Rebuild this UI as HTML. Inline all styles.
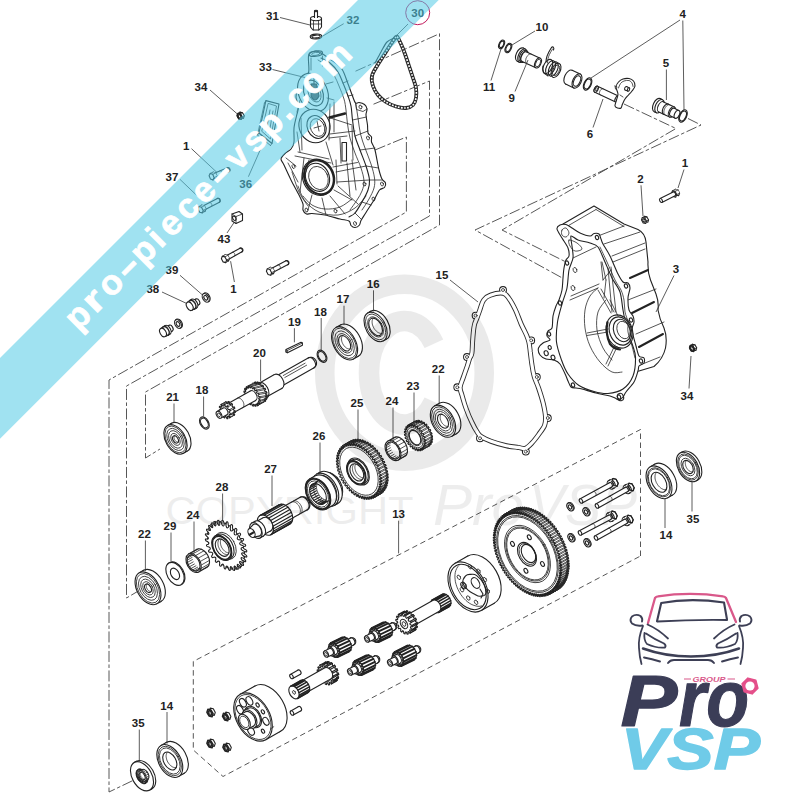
<!DOCTYPE html>
<html><head><meta charset="utf-8"><title>pro-piece-vsp.com</title>
<style>
html,body{margin:0;padding:0;background:#fff;}
body{width:800px;height:800px;overflow:hidden;font-family:"Liberation Sans",sans-serif;}
svg{display:block;}
.l{fill:none;stroke:#222;stroke-width:1.1;stroke-linecap:round;stroke-linejoin:round;}
.w{fill:#fff;stroke:#222;stroke-width:1.1;stroke-linejoin:round;}
.t{fill:none;stroke:#2a2a2a;stroke-width:.8;stroke-linecap:round;stroke-linejoin:round;}
.d{fill:none;stroke:#444;stroke-width:.9;stroke-dasharray:11 2.5 3.5 2.5;}
.d2{fill:none;stroke:#444;stroke-width:.9;stroke-dasharray:5.5 3.5;}
.lb{font:bold 11.5px "Liberation Sans",sans-serif;fill:#222;text-anchor:middle;}
.ld{fill:none;stroke:#333;stroke-width:.8;}
</style></head><body>
<svg width="800" height="800" viewBox="0 0 800 800">
<rect width="800" height="800" fill="#fff"/>
<path class="d" d="M375 150L406.4 137L406.4 212L109 380L109 792L134 780"/><path class="d" d="M373.5 104.2L429.5 81L429.5 216L126.5 386L126.5 598L140 590"/><path class="d" d="M355.5 71.2L439.5 33.7L439.5 225L145.5 392L145.5 458L160 449"/><path class="d" d="M688 118.5L701 125L475 230L566 280"/><path class="d" d="M624 104L676 128.5L502 230L566 262"/><path class="d2" d="M640.5 556L640.5 429.5L193.3 661.4L193.3 750L223 776.5L640.5 556"/>
<path class="l" d="M396 37C394.8 38 393 41 391 44C389 47 386.3 51.3 384 55C381.7 58.7 379 62.5 377 66C375 69.5 372.7 72.7 372 76C371.3 79.3 372 82.8 373 86C374 89.2 375.8 92.3 378 95C380.2 97.7 383 100.1 386 102C389 103.9 392.7 105.5 396 106.5C399.3 107.5 403.2 108.2 406 108C408.8 107.8 411.3 106.7 413 105C414.7 103.3 415.5 100.8 416 98C416.5 95.2 416.5 91.3 416 88C415.5 84.7 414.2 81.7 413 78C411.8 74.3 410.3 70 409 66C407.7 62 406.3 57.7 405 54C403.7 50.3 402.2 46.7 401 44C399.8 41.3 398.8 39.2 398 38C397.2 36.8 397.2 36 396 37Z" style="stroke-width:3.8;stroke:#2a2a2a"/><path class="l" d="M396 37C394.8 38 393 41 391 44C389 47 386.3 51.3 384 55C381.7 58.7 379 62.5 377 66C375 69.5 372.7 72.7 372 76C371.3 79.3 372 82.8 373 86C374 89.2 375.8 92.3 378 95C380.2 97.7 383 100.1 386 102C389 103.9 392.7 105.5 396 106.5C399.3 107.5 403.2 108.2 406 108C408.8 107.8 411.3 106.7 413 105C414.7 103.3 415.5 100.8 416 98C416.5 95.2 416.5 91.3 416 88C415.5 84.7 414.2 81.7 413 78C411.8 74.3 410.3 70 409 66C407.7 62 406.3 57.7 405 54C403.7 50.3 402.2 46.7 401 44C399.8 41.3 398.8 39.2 398 38C397.2 36.8 397.2 36 396 37Z" style="stroke-width:1.6;stroke:#fff;stroke-dasharray:1.7 1.4;stroke-linecap:butt"/><path class="l" d="M394 38C392.8 38.7 389.2 39.7 387 42C384.8 44.3 383 48.5 381 52C379 55.5 376 61.2 375 63" /><path class="w" d="M308.7 55C307.6 58.1 309.6 68.4 308.7 72C307.8 75.6 304.6 76.6 303 79C301.4 81.4 299.1 85.3 298 88C296.9 90.7 295.9 94.2 296 97C296.1 99.8 298.4 104.2 298.5 107C298.6 109.8 297.2 112.8 296.5 116C295.8 119.2 294.4 124.1 294 128C293.6 131.9 294.4 138.8 294 142C293.6 145.2 292.4 147.3 291 149C289.6 150.7 286.5 152 285 153.5C283.5 155 281.1 157.3 281 159C280.9 160.7 282.5 161.8 284 165C285.5 168.2 288.8 175.5 291 180C293.2 184.5 297.2 191.4 299 195C300.8 198.6 302.4 201.8 303 204C303.6 206.2 302.5 208.5 303 210C303.5 211.5 305.1 213.5 306.5 214C307.9 214.5 309.2 213.3 312 213.5C314.8 213.7 320.8 214.2 325 215C329.2 215.8 336.4 218.1 340 219C343.6 219.9 347.4 220 349 221C350.6 222 350.1 224.5 351 225.5C351.9 226.5 353.7 227.6 355 227.5C356.3 227.4 358.6 226.1 359.5 225C360.4 223.9 360 222.4 361 220.5C362 218.6 364.1 215.6 366 212.5C367.9 209.4 372 203.4 374 200C376 196.6 377.9 191.9 379.5 190C381.1 188.1 383.6 188.6 384.5 187.5C385.4 186.4 385.9 184.3 385.5 183C385.1 181.7 383 180.9 382 179C381 177.1 380.1 174.3 379 170C377.9 165.7 376.1 154.2 375 150C373.9 145.8 372 143.9 371.5 142C371 140.1 372 138.3 371.5 137C371 135.7 368.6 134.8 368 133C367.4 131.2 367.8 127.7 367.5 125C367.2 122.3 366.1 117.4 366 115C365.9 112.6 367.2 110.6 367 109C366.8 107.4 365.7 105.5 364.5 104.5C363.3 103.5 360.4 102.7 359 102.5C357.6 102.3 356.5 104 355.5 103C354.5 102 353.7 99.1 352.5 96C351.3 92.9 349 86.4 347.5 82.5C346 78.6 344.4 73 342.5 70C340.6 67 337.2 64.4 335 62.5C332.8 60.6 329.2 58.7 327.5 57.5C325.8 56.3 325.2 55.5 323.5 54.5C321.8 53.5 318.2 50.9 316 51C313.8 51.1 309.8 51.9 308.7 55Z" /><path class="l" d="M321 58C322.5 58.8 327.2 60.7 330 63C332.8 65.3 335.8 68.7 338 72C340.2 75.3 341.3 79 343 83C344.7 87 346.7 92.2 348 96C349.3 99.8 350.2 102 351 106C351.8 110 351.8 115 352.5 120C353.2 125 353.8 131 355 136C356.2 141 358.2 145 360 150C361.8 155 364.4 161 366 166C367.6 171 369.2 176 369.5 180C369.8 184 369.2 186.3 368 190C366.8 193.7 364.2 198.2 362 202C359.8 205.8 357.2 210.5 355 213C352.8 215.5 350 216.3 349 217" /><path class="t" d="M318 60C319.5 61 324.3 63.5 327 66C329.7 68.5 332 71.7 334 75C336 78.3 337.3 82 339 86C340.7 90 342.8 95 344 99C345.2 103 345.4 105.8 346 110C346.6 114.2 346.8 119.3 347.5 124C348.2 128.7 348.8 133.2 350 138C351.2 142.8 353.2 148 355 153C356.8 158 359.5 163.3 361 168C362.5 172.7 363.8 177.2 364 181C364.2 184.8 363.2 187.8 362 191C360.8 194.2 359 196.8 357 200C355 203.2 351.2 208.3 350 210" /><path class="t" d="M356 104C356.3 106.3 357.2 113 358 118C358.8 123 359.3 129 360.5 134C361.7 139 363.2 143 365 148C366.8 153 369.4 159 371 164C372.6 169 374 174 374.5 178C375 182 374.9 184.5 374 188C373.1 191.5 371 195.3 369 199C367 202.7 363.2 208.2 362 210" /><path class="t" d="M352.5 120L366.5 117M355 136L368 131M360 150L375 148M366 166L378.5 168M369.5 180L382 180M362 202L371 205M355 213L361 219M343 83L348 81M348 96L353 95"/><path class="t" d="M355.5 103.5L356.5 109.5L363 111.5L367 109"/><ellipse class="l" cx="315.8" cy="53.7" rx="6.8" ry="2.6" transform="rotate(-8 315.8 53.7)" /><ellipse class="t" cx="315.8" cy="53.9" rx="4.2" ry="1.5" transform="rotate(-8 315.8 53.9)" /><path class="t" d="M322.5 56L322.5 66M311 58L311 70"/><ellipse class="w" cx="313" cy="92.5" rx="14.4" ry="20" transform="rotate(-24 313 92.5)" /><ellipse class="l" cx="313.5" cy="93" rx="9.2" ry="13.5" transform="rotate(-24 313.5 93)" /><ellipse class="t" cx="314.5" cy="93" rx="5.9" ry="9.5" transform="rotate(-24 314.5 93)" /><path class="l" d="M311.5 84L316.5 84L319 96Q315 104 311 96Z" style="fill:#555"/><path class="l" d="M314 78L314 84"/><path class="t" d="M326 84L333 82M327 98L334 100M300 100L297 112"/><ellipse class="w" cx="314.5" cy="126" rx="15.3" ry="17" transform="rotate(-24 314.5 126)" /><ellipse class="l" cx="316.5" cy="127" rx="9.2" ry="11.8" transform="rotate(-24 316.5 127)" /><ellipse class="t" cx="317.5" cy="127.5" rx="6.9" ry="9.2" transform="rotate(-24 317.5 127.5)" /><path class="t" d="M317 121L319 131M314 128L321 126"/><ellipse class="w" cx="318.5" cy="177.3" rx="15.7" ry="18.5" transform="rotate(-24 318.5 177.3)" /><ellipse class="l" cx="318.9" cy="177.3" rx="14.3" ry="17.5" transform="rotate(-24 318.9 177.3)" style="stroke-width:2"/><ellipse class="l" cx="317.5" cy="177.3" rx="11.6" ry="14.5" transform="rotate(-24 317.5 177.3)" /><ellipse class="t" cx="318.5" cy="178" rx="9.4" ry="12" transform="rotate(-24 318.5 178)" /><path class="l" d="M342 142.5L346.5 142.5L346.5 161L342 161Z"/><path class="t" d="M329 117.5L352 125M330 134L355 131M329 138L347 136M295 156L331 163M298 152L329 159M304 158L300 192M309 160L306 172M333 167L357.5 162.5M336 172L366 166M337 182L369.5 180M336 160L337 184M334 190L352 200M330 196L345 214M322 198L326 215M312 195L308 210M338 186L358 204M340 138L341 163M352 126L353 160M347 163L350 196M352 160L356 190M326 142L333 165M330 104L329 140M334 102L334 132M297 132L300 152M301 118L302 150M286 158L296 166M288 163L298 182"/><path class="l" style="stroke-width:2.4" d="M329.5 117.5L345 113.5"/><path class="t" d="M303 196C304.5 197.5 308.3 202.8 312 205C315.7 207.2 320.3 208.7 325 209C329.7 209.3 335.5 208.7 340 207C344.5 205.3 350 200.3 352 199" /><path class="t" d="M298 186C299.2 188.5 301.5 196.7 305 201C308.5 205.3 313.5 209.7 319 212C324.5 214.3 332 215.7 338 215C344 214.3 350.3 211.2 355 208C359.7 204.8 364.2 198 366 196" /><path class="t" d="M292 172C293.2 175.3 296.3 186.3 299 192C301.7 197.7 306.5 203.7 308 206" /><ellipse class="t" cx="293.5" cy="166.5" rx="1.4" ry="2" transform="rotate(-20 293.5 166.5)" /><ellipse class="t" cx="335.5" cy="211" rx="1.4" ry="2" transform="rotate(-20 335.5 211)" /><ellipse class="t" cx="364.5" cy="184" rx="1.4" ry="2" transform="rotate(-20 364.5 184)" /><ellipse class="t" cx="360.5" cy="107" rx="1.4" ry="2" transform="rotate(-20 360.5 107)" /><ellipse class="t" cx="306.5" cy="210" rx="1.4" ry="2" transform="rotate(-20 306.5 210)" /><ellipse class="t" cx="355" cy="223.5" rx="1.4" ry="2" transform="rotate(-20 355 223.5)" /><ellipse class="t" cx="382" cy="184" rx="1.4" ry="2" transform="rotate(-20 382 184)" /><ellipse class="t" cx="368" cy="138" rx="1.4" ry="2" transform="rotate(-20 368 138)" /><ellipse class="t" cx="373.5" cy="199" rx="1.4" ry="2" transform="rotate(-20 373.5 199)" /><path class="w" d="M310.5 18.5L310.5 27L313 30L319 30L321.5 27L321.5 18.5Z"/><ellipse class="w" cx="316" cy="18.5" rx="5.5" ry="2.2" /><path class="t" d="M310.5 24L321.5 24"/><path class="t" d="M313.5 20.5L313.5 30"/><path class="t" d="M318.5 20.5L318.5 30"/><path class="w" d="M314.5 18L314.5 11L317.5 11L317.5 18"/><ellipse class="l" cx="316" cy="11" rx="1.5" ry="0.7" /><ellipse class="w" cx="316" cy="36.5" rx="5.8" ry="2.4" transform="rotate(-3 316 36.5)" /><ellipse class="l" cx="316" cy="36.5" rx="4.2" ry="1.4" transform="rotate(-3 316 36.5)" /><circle class="w" cx="503" cy="290" r="3.4" /><circle class="w" cx="475.6" cy="315.6" r="3.4" /><circle class="w" cx="467" cy="357" r="3.4" /><circle class="w" cx="457.3" cy="387.3" r="3.4" /><circle class="w" cx="480" cy="438.3" r="3.4" /><circle class="w" cx="525.8" cy="451.6" r="3.4" /><circle class="w" cx="547.8" cy="418" r="3.4" /><circle class="w" cx="536.8" cy="377" r="3.4" /><circle class="w" cx="531.2" cy="340.4" r="3.4" /><path class="l" d="M503 293.2C499.9 292.7 493.6 294 490.4 295.2C487.1 296.3 485.3 297.6 483.6 300.1C481.8 302.6 480.9 307.1 479.8 310.1C478.7 313 477.9 315.3 477 318C476 320.6 474.9 321.9 474.2 325.9C473.4 329.8 472.9 337 472.6 341.6C472.2 346.1 472.4 350.3 471.9 353.1C471.4 356 470.3 356.6 469.5 358.8C468.8 361 468.2 363.2 467.2 366.3C466.1 369.5 464.4 374.2 463.2 377.7C462 381.2 460.3 384.4 460.1 387.3C459.9 390.1 460.9 391.4 461.9 394.9C462.9 398.5 464.4 403.9 466.1 408.5C467.7 413 469.8 418.1 471.8 422.1C473.7 426.2 475.9 430.2 477.6 432.7C479.2 435.1 479.4 435.5 481.7 436.9C483.9 438.4 487 439.8 491.1 441.3C495.2 442.8 501.9 444.8 506.4 445.8C510.9 446.8 515.1 447 518.3 447.4C521.4 447.9 523.1 449.1 525.4 448.4C527.6 447.6 529.7 445.3 531.9 443C534.1 440.7 536.5 437.5 538.6 434.6C540.7 431.6 543.5 428.3 544.6 425.3C545.8 422.2 545.7 420 545.5 416.4C545.3 412.8 544.4 408.4 543.3 403.6C542.1 398.9 540.1 392.6 538.6 388.1C537.1 383.6 535.4 380.6 534.3 376.7C533.2 372.8 532.5 368.8 531.9 364.5C531.2 360.3 530.7 355 530.2 351.3C529.8 347.7 529.6 345.2 529 342.6C528.5 340.1 528.1 338.9 526.8 335.8C525.5 332.7 523.1 328.3 521.2 324.1C519.3 319.8 517.6 314.5 515.6 310.2C513.5 305.8 510.9 301 508.8 298.2C506.7 295.4 506.1 293.7 503 293.2Z" style="stroke-width:5;stroke:#2b2b2b"/><path class="l" d="M503 293.2C499.9 292.7 493.6 294 490.4 295.2C487.1 296.3 485.3 297.6 483.6 300.1C481.8 302.6 480.9 307.1 479.8 310.1C478.7 313 477.9 315.3 477 318C476 320.6 474.9 321.9 474.2 325.9C473.4 329.8 472.9 337 472.6 341.6C472.2 346.1 472.4 350.3 471.9 353.1C471.4 356 470.3 356.6 469.5 358.8C468.8 361 468.2 363.2 467.2 366.3C466.1 369.5 464.4 374.2 463.2 377.7C462 381.2 460.3 384.4 460.1 387.3C459.9 390.1 460.9 391.4 461.9 394.9C462.9 398.5 464.4 403.9 466.1 408.5C467.7 413 469.8 418.1 471.8 422.1C473.7 426.2 475.9 430.2 477.6 432.7C479.2 435.1 479.4 435.5 481.7 436.9C483.9 438.4 487 439.8 491.1 441.3C495.2 442.8 501.9 444.8 506.4 445.8C510.9 446.8 515.1 447 518.3 447.4C521.4 447.9 523.1 449.1 525.4 448.4C527.6 447.6 529.7 445.3 531.9 443C534.1 440.7 536.5 437.5 538.6 434.6C540.7 431.6 543.5 428.3 544.6 425.3C545.8 422.2 545.7 420 545.5 416.4C545.3 412.8 544.4 408.4 543.3 403.6C542.1 398.9 540.1 392.6 538.6 388.1C537.1 383.6 535.4 380.6 534.3 376.7C533.2 372.8 532.5 368.8 531.9 364.5C531.2 360.3 530.7 355 530.2 351.3C529.8 347.7 529.6 345.2 529 342.6C528.5 340.1 528.1 338.9 526.8 335.8C525.5 332.7 523.1 328.3 521.2 324.1C519.3 319.8 517.6 314.5 515.6 310.2C513.5 305.8 510.9 301 508.8 298.2C506.7 295.4 506.1 293.7 503 293.2Z" style="stroke-width:3.2;stroke:#fff"/><circle class="l" cx="503" cy="290" r="2.6" style="stroke:none;fill:#fff"/><circle class="t" cx="503" cy="290" r="1.5" /><circle class="l" cx="475.6" cy="315.6" r="2.6" style="stroke:none;fill:#fff"/><circle class="t" cx="475.6" cy="315.6" r="1.5" /><circle class="l" cx="467" cy="357" r="2.6" style="stroke:none;fill:#fff"/><circle class="t" cx="467" cy="357" r="1.5" /><circle class="l" cx="457.3" cy="387.3" r="2.6" style="stroke:none;fill:#fff"/><circle class="t" cx="457.3" cy="387.3" r="1.5" /><circle class="l" cx="480" cy="438.3" r="2.6" style="stroke:none;fill:#fff"/><circle class="t" cx="480" cy="438.3" r="1.5" /><circle class="l" cx="525.8" cy="451.6" r="2.6" style="stroke:none;fill:#fff"/><circle class="t" cx="525.8" cy="451.6" r="1.5" /><circle class="l" cx="547.8" cy="418" r="2.6" style="stroke:none;fill:#fff"/><circle class="t" cx="547.8" cy="418" r="1.5" /><circle class="l" cx="536.8" cy="377" r="2.6" style="stroke:none;fill:#fff"/><circle class="t" cx="536.8" cy="377" r="1.5" /><circle class="l" cx="531.2" cy="340.4" r="2.6" style="stroke:none;fill:#fff"/><circle class="t" cx="531.2" cy="340.4" r="1.5" /><path class="w" d="M563 224L594 206L624 224L638 229.5Q645 233 646 242L648 262Q647.5 272 650.5 280L656 294Q659 302 658 310Q659.5 319 664 328Q667.5 337 665.5 348Q663 359 654 366.5L639 371L620 372L600 330L580 260Z" /><path class="t" d="M566 227L596 209.5M596 209.5L624 226.5M598 236L624 226M604 244L640 232M612 256L645 243"/><path class="l" style="stroke-width:2" d="M630 278L648 270"/><path class="l" style="stroke-width:2" d="M632 313L654 302"/><path class="l" style="stroke-width:2" d="M639 347L663 334"/><path class="t" d="M613 262L645 249M628 300L656 289M636 334L664 322M640 365L660 357"/><path class="w" d="M557 229C556.7 227.1 558.6 225.7 560 225C561.4 224.3 564.2 224.1 566 224.5C567.8 224.9 569.9 226.7 572 228C574.1 229.3 577.3 231.8 580 233C582.7 234.2 587.9 235.9 590 236C592.1 236.1 592.6 233.8 594 233.5C595.4 233.2 598 233.2 599 234C600 234.8 600.4 237.5 601 239C601.6 240.5 601.6 241.4 603 244C604.4 246.6 607.8 251.5 610 256C612.2 260.5 616 270.1 618 274C620 277.9 621.5 280.6 623 282C624.5 283.4 627 282.1 628 283C629 283.9 630 285.8 630 288C630 290.2 628.1 294.7 628 298C627.9 301.3 628.2 307.3 629 310C629.8 312.7 632.2 314.2 633 316C633.8 317.8 634.1 319.9 634 322C633.9 324.1 631.7 326.4 632 330C632.3 333.6 635 342.1 636 346C637 349.9 637.8 354.2 639 356C640.2 357.8 643.2 356.9 644 358C644.8 359.1 644.8 361.8 644 363C643.2 364.2 639.9 364.8 639 366C638.1 367.2 638.8 368.6 638 371C637.2 373.4 635.8 378.9 634 382C632.2 385.1 627.6 389.8 626 392C624.4 394.2 624 395.8 623 397C622 398.2 620.2 399.9 619 400C617.8 400.1 616.4 398.6 615 398C613.6 397.4 612.9 396.8 610 396C607.1 395.2 600.2 394.1 596 393C591.8 391.9 585 389.8 582 389C579 388.2 577.6 388.3 576 388C574.4 387.7 572.2 388.1 571 387C569.8 385.9 568.8 382.6 568 381C567.2 379.4 567.2 378.6 566 376C564.8 373.4 561.8 366.4 560 364C558.2 361.6 556.1 360.8 554 360C551.9 359.2 548.1 359.8 546 359C543.9 358.2 541.1 356.6 540 355C538.9 353.4 538 349.8 538.5 348C539 346.2 541.3 344.2 543 343C544.7 341.8 549.4 341.1 550 340C550.6 338.9 547.3 337.4 547 336C546.7 334.6 547.2 332.2 548 331C548.8 329.8 551.2 330.2 552 328C552.8 325.8 552.4 319.3 553 316C553.6 312.7 555.1 308.4 556 306C556.9 303.6 558.1 302.4 559 300C559.9 297.6 561.4 293.3 562 290C562.6 286.7 562.7 281.3 563 278C563.3 274.7 563.5 270.7 564 268C564.5 265.3 565.2 261.8 566 260C566.8 258.2 568.7 257.8 569 256C569.3 254.2 569 250.7 568 248C567 245.3 563.6 240.8 562 238C560.4 235.2 557.3 230.9 557 229Z" /><path class="l" d="M571 236C571.9 235.1 575.1 238.9 578 240C580.9 241.1 587 241.9 590 243C593 244.1 595.8 244.2 598 247C600.2 249.8 602.9 257.4 605 262C607.1 266.6 609.8 273.5 612 278C614.2 282.5 618.4 287.2 620 292C621.6 296.8 622 304.3 623 310C624 315.7 625.6 324.8 627 330C628.4 335.2 631.2 340.9 632.5 345C633.8 349.1 635.4 352.4 635.5 357C635.6 361.6 634.9 371.2 633 376C631.1 380.8 626.8 386.4 623 389C619.2 391.6 612.4 393.1 608 393.5C603.6 393.9 598.4 392.7 594 391.5C589.6 390.3 582.9 388.1 579 385.5C575.1 382.9 570.6 377.8 568 374C565.4 370.2 563.2 364.8 561.5 360C559.8 355.2 557.1 347.7 556.5 342C555.9 336.3 556.7 327.7 557.5 322C558.3 316.3 560.6 309.1 562 304C563.4 298.9 566 293.1 567 288C568 282.9 568.1 274.5 569 270C569.9 265.5 572.5 261.6 573 258C573.5 254.4 572.3 249.3 572 246C571.7 242.7 570.1 236.9 571 236Z" /><path class="t" d="M562 230C562.7 228.8 564.8 227.5 566 228C567.2 228.5 569 231.5 569 233C569 234.5 567.2 236.7 566 237C564.8 237.3 562.7 236.2 562 235C561.3 233.8 561.3 231.2 562 230Z" /><path class="t" d="M569 240C570.2 239.5 574.8 241.5 577 243C579.2 244.5 582.3 247.7 582 249C581.7 250.3 577 251.5 575 251C573 250.5 571 247.8 570 246C569 244.2 567.8 240.5 569 240Z" /><path class="t" d="M573 258L596 247M570 300L598 288M571 296L599 284"/><ellipse class="t" cx="575" cy="270" rx="1.8" ry="2.6" transform="rotate(-20 575 270)" /><ellipse class="t" cx="573" cy="288" rx="1.8" ry="2.6" transform="rotate(-20 573 288)" /><path class="t" d="M598 288C596.7 289.3 592.2 292.3 590 296C587.8 299.7 585.8 304.7 585 310C584.2 315.3 584.2 322 585 328C585.8 334 587.5 340.3 590 346C592.5 351.7 596.3 357.7 600 362C603.7 366.3 608.3 370.3 612 372C615.7 373.7 620.3 372 622 372" /><path class="t" d="M606 300C604.7 302 599.5 307 598 312C596.5 317 596.2 324 597 330C597.8 336 600.5 343 603 348C605.5 353 610.5 358 612 360" /><ellipse class="w" cx="619.5" cy="331.5" rx="12.9" ry="17" transform="rotate(-20 619.5 331.5)" /><ellipse class="l" cx="620.5" cy="331" rx="10.9" ry="14.5" transform="rotate(-20 620.5 331)" /><ellipse class="l" cx="622" cy="330.5" rx="8.3" ry="11.5" transform="rotate(-20 622 330.5)" /><ellipse class="t" cx="623.5" cy="330" rx="6.3" ry="9" transform="rotate(-20 623.5 330)" /><path class="l" d="M607.5 322Q605 333 610 344Q614 349 620 349.5" style="stroke-width:2.2"/><path class="t" d="M587 333L608 329M587 335.5L608 332M606 364L615 345M608 366L617 347M598 290L611 313M601 289L614 312M608 268L612 312M611 267L616 312M601 262L603 280M603 280L611 270"/><path class="t" d="M602 262L606 280M606 280L604 298M610 300L618 316"/><path class="t" d="M600 247C601.2 249.5 604.5 256.5 607 262C609.5 267.5 612.7 275.3 615 280C617.3 284.7 619.5 286.7 621 290C622.5 293.3 623.3 296.3 624 300C624.7 303.7 624.3 308.3 625 312C625.7 315.7 627.5 318.7 628 322C628.5 325.3 627.3 328 628 332C628.7 336 630.8 341.7 632 346C633.2 350.3 634.5 356 635 358" /><ellipse class="l" cx="597" cy="237.5" rx="1.6" ry="2.1" transform="rotate(-20 597 237.5)" /><ellipse class="l" cx="626" cy="286" rx="1.6" ry="2.1" transform="rotate(-20 626 286)" /><ellipse class="l" cx="631" cy="320" rx="1.6" ry="2.1" transform="rotate(-20 631 320)" /><ellipse class="l" cx="641" cy="361" rx="1.6" ry="2.1" transform="rotate(-20 641 361)" /><ellipse class="l" cx="619" cy="397" rx="1.6" ry="2.1" transform="rotate(-20 619 397)" /><ellipse class="l" cx="573" cy="385" rx="1.6" ry="2.1" transform="rotate(-20 573 385)" /><ellipse class="l" cx="549" cy="334" rx="1.6" ry="2.1" transform="rotate(-20 549 334)" /><ellipse class="l" cx="560" cy="303" rx="1.6" ry="2.1" transform="rotate(-20 560 303)" /><ellipse class="l" cx="567" cy="263" rx="1.6" ry="2.1" transform="rotate(-20 567 263)" /><ellipse class="l" cx="546.2" cy="353.2" rx="2" ry="2.5" transform="rotate(-20 546.2 353.2)" /><ellipse class="l" cx="549.7" cy="347.5" rx="1.6" ry="2" transform="rotate(-20 549.7 347.5)" /><ellipse class="l" cx="553" cy="357.5" rx="1.9" ry="2.4" transform="rotate(-20 553 357.5)" /><ellipse class="l" cx="620.5" cy="397" rx="3" ry="3.8" transform="rotate(-20 620.5 397)" /><ellipse class="w" cx="501.6" cy="44.4" rx="2.5" ry="4.6" transform="rotate(205 501.6 44.4)" /><ellipse class="l" cx="501.6" cy="44.4" rx="1.9" ry="3.4" transform="rotate(205 501.6 44.4)" /><ellipse class="w" cx="508.4" cy="48" rx="2.8" ry="5" transform="rotate(205 508.4 48)" /><ellipse class="l" cx="508.4" cy="48" rx="2.1" ry="3.8" transform="rotate(205 508.4 48)" /><ellipse class="w" cx="520.2" cy="54.6" rx="4" ry="7.2" transform="rotate(205 520.2 54.6)" /><path d="M525.5 49.2L523.3 48.1L517.2 61.2L519.5 62.2Z" fill="#fff" stroke="none"/><path class="l" d="M525.5 49.2L523.3 48.1"/><path class="l" d="M519.5 62.2L517.2 61.2"/><ellipse class="w" cx="522.5" cy="55.7" rx="4" ry="7.2" transform="rotate(205 522.5 55.7)" /><ellipse class="w" cx="523.1" cy="56.1" rx="3.3" ry="6" transform="rotate(205 523.1 56.1)" /><path d="M527 51.3L525.7 50.6L520.6 61.5L522 62.1Z" fill="#fff" stroke="none"/><path class="l" d="M527 51.3L525.7 50.6"/><path class="l" d="M522 62.1L520.6 61.5"/><ellipse class="w" cx="524.5" cy="56.7" rx="3.3" ry="6" transform="rotate(205 524.5 56.7)" /><ellipse class="w" cx="524.4" cy="56.7" rx="2.9" ry="5.2" transform="rotate(205 524.4 56.7)" /><path d="M540.2 58.3L526.6 51.9L522.2 61.4L535.8 67.7Z" fill="#fff" stroke="none"/><path class="l" d="M540.2 58.3L526.6 51.9"/><path class="l" d="M535.8 67.7L522.2 61.4"/><ellipse class="w" cx="538" cy="63" rx="2.9" ry="5.2" transform="rotate(205 538 63)" /><ellipse class="t" cx="538" cy="63" rx="2.2" ry="4" transform="rotate(205 538 63)" /><path class="t" d="M526.8 63.5L526.5 63.3L526.2 63L526 62.7L525.8 62.3L525.7 61.8L525.6 61.3L525.6 60.7L525.7 60.1L525.8 59.5L525.9 58.9L526.1 58.2L526.4 57.6L526.7 57L527.1 56.4L527.4 55.9L527.9 55.4L528.3 55L528.7 54.6L529.2 54.3L529.6 54.1L530 54L530.5 53.9L530.8 54L531.2 54.1"/><ellipse class="w" cx="556" cy="70.3" rx="4.2" ry="7.6" transform="rotate(205 556 70.3)" /><ellipse class="l" cx="553.3" cy="69" rx="4.2" ry="7.6" transform="rotate(205 553.3 69)" /><ellipse class="l" cx="550.6" cy="67.8" rx="4.2" ry="7.6" transform="rotate(205 550.6 67.8)" /><ellipse class="l" cx="547.8" cy="66.5" rx="4.2" ry="7.6" transform="rotate(205 547.8 66.5)" /><ellipse class="t" cx="556" cy="70.3" rx="3.1" ry="5.6" transform="rotate(205 556 70.3)" /><path class="l" d="M546 62C546 55 550 50 551.5 47.5C553 46 554.5 47.5 553.5 50" /><path class="t" d="M547.5 63C547.5 56 551 52 552.5 49" /><path class="l" d="M548 76C544 74 542 70 543 66" /><ellipse class="w" cx="568.8" cy="77.2" rx="4.2" ry="7.6" transform="rotate(205 568.8 77.2)" /><path d="M580.2 74.1L572.1 70.3L565.6 84.1L573.8 87.9Z" fill="#fff" stroke="none"/><path class="l" d="M580.2 74.1L572.1 70.3"/><path class="l" d="M573.8 87.9L565.6 84.1"/><ellipse class="w" cx="577" cy="81" rx="4.2" ry="7.6" transform="rotate(205 577 81)" /><ellipse class="l" cx="577" cy="81" rx="3.1" ry="5.6" transform="rotate(205 577 81)" /><ellipse class="w" cx="587.6" cy="84" rx="3.6" ry="6.6" transform="rotate(205 587.6 84)" /><ellipse class="l" cx="587.6" cy="84" rx="2.9" ry="5.2" transform="rotate(205 587.6 84)" /><ellipse class="w" cx="596.2" cy="89.3" rx="1.8" ry="3.3" transform="rotate(205 596.2 89.3)" /><path d="M618.4 96L597.5 86.3L594.8 92.3L615.6 102Z" fill="#fff" stroke="none"/><path class="l" d="M618.4 96L597.5 86.3"/><path class="l" d="M615.6 102L594.8 92.3"/><ellipse class="w" cx="617" cy="99" rx="1.8" ry="3.3" transform="rotate(205 617 99)" /><ellipse class="w" cx="596.2" cy="89.3" rx="1.8" ry="3.3" transform="rotate(205 596.2 89.3)" /><ellipse class="t" cx="596.2" cy="89.3" rx="1" ry="1.8" transform="rotate(205 596.2 89.3)" /><path class="t" d="M600.2 94.8L600 94.7L599.8 94.5L599.7 94.3L599.6 94L599.5 93.7L599.4 93.4L599.4 93L599.5 92.6L599.5 92.3L599.6 91.8L599.8 91.4L599.9 91L600.1 90.7L600.4 90.3L600.6 90L600.9 89.7L601.1 89.4L601.4 89.2L601.7 89L602 88.8L602.3 88.8L602.5 88.7L602.8 88.8L603 88.8"/><path class="w" d="M616 87C616.1 85 617.3 83.3 618.5 82C619.7 80.7 621.2 79.6 623 79C624.8 78.4 627.2 78.2 629 78.5C630.8 78.8 632.5 79.8 633.5 81C634.5 82.2 635.2 84.3 635 86C634.8 87.7 633.1 89.5 632 91C630.9 92.5 629.7 93.7 628.5 95C627.3 96.3 626 97.5 625 99C624 100.5 623.2 102.5 622.5 104C621.8 105.5 621.8 107.3 621 108C620.2 108.7 618.5 108.3 617.5 108C616.5 107.7 615.2 107.3 615 106C614.8 104.7 616 102 616.5 100C617 98 618.1 96.2 618 94C617.9 91.8 615.9 89 616 87Z" /><path class="t" d="M618.5 88C618.8 87.2 619.6 84.7 620.5 83.5C621.4 82.3 622.6 81.5 624 81C625.4 80.5 627.7 80.2 629 80.5C630.3 80.8 631.3 82 632 83C632.7 84 632.8 85.9 633 86.5" /><ellipse class="w" cx="625.8" cy="88.2" rx="1" ry="1.8" transform="rotate(205 625.8 88.2)" /><path d="M629.3 87.9L626.5 86.6L625 89.9L627.7 91.1Z" fill="#fff" stroke="none"/><path class="l" d="M629.3 87.9L626.5 86.6"/><path class="l" d="M627.7 91.1L625 89.9"/><ellipse class="w" cx="628.5" cy="89.5" rx="1" ry="1.8" transform="rotate(205 628.5 89.5)" /><path class="t" d="M615 86L617 87M615 86L615.5 89M620 95L623 97"/><ellipse class="w" cx="657.2" cy="105.1" rx="4" ry="7.2" transform="rotate(205 657.2 105.1)" /><path d="M662.5 99.7L660.3 98.6L654.2 111.7L656.5 112.7Z" fill="#fff" stroke="none"/><path class="l" d="M662.5 99.7L660.3 98.6"/><path class="l" d="M656.5 112.7L654.2 111.7"/><ellipse class="w" cx="659.5" cy="106.2" rx="4" ry="7.2" transform="rotate(205 659.5 106.2)" /><ellipse class="w" cx="661.1" cy="106.9" rx="3.1" ry="5.6" transform="rotate(205 661.1 106.9)" /><path d="M674.4 106.9L663.5 101.9L658.8 112L669.6 117.1Z" fill="#fff" stroke="none"/><path class="l" d="M674.4 106.9L663.5 101.9"/><path class="l" d="M669.6 117.1L658.8 112"/><ellipse class="w" cx="672" cy="112" rx="3.1" ry="5.6" transform="rotate(205 672 112)" /><path class="l" d="M663.6 114.3L663.3 114.1L663 113.8L662.7 113.4L662.6 112.9L662.4 112.4L662.4 111.9L662.3 111.3L662.4 110.6L662.5 109.9L662.7 109.3L662.9 108.6L663.2 107.9L663.5 107.2L663.9 106.6L664.3 106.1L664.8 105.5L665.2 105.1L665.7 104.7L666.2 104.4L666.7 104.2L667.1 104L667.6 104L668 104L668.4 104.1"/><path class="t" d="M665.1 115L664.8 114.8L664.5 114.5L664.2 114.1L664.1 113.6L663.9 113.1L663.9 112.6L663.8 112L663.9 111.3L664 110.6L664.2 110L664.4 109.3L664.7 108.6L665 107.9L665.4 107.3L665.8 106.8L666.3 106.2L666.7 105.8L667.2 105.4L667.7 105.1L668.2 104.9L668.6 104.7L669.1 104.7L669.5 104.7L669.9 104.8"/><ellipse class="w" cx="672.5" cy="112.2" rx="2.4" ry="4.3" transform="rotate(205 672.5 112.2)" /><path d="M678.8 110.4L674.3 108.3L670.7 116.1L675.2 118.2Z" fill="#fff" stroke="none"/><path class="l" d="M678.8 110.4L674.3 108.3"/><path class="l" d="M675.2 118.2L670.7 116.1"/><ellipse class="w" cx="677" cy="114.3" rx="2.4" ry="4.3" transform="rotate(205 677 114.3)" /><ellipse class="w" cx="683" cy="116" rx="3.6" ry="6.6" transform="rotate(205 683 116)" /><ellipse class="l" cx="683" cy="116" rx="2.9" ry="5.2" transform="rotate(205 683 116)" /><path class="w" d="M244.3 115.8L243.5 118.4L240.8 117.8L239.1 114.6L239.9 112.1L242.5 112.7Z"/><path class="t" d="M242.2 117L244.3 115.8M240.5 113.9L242.5 112.7M237.8 113.3L239.9 112.1"/><path class="w" d="M242.2 117L241.4 119.5L238.7 118.9L237 115.8L237.8 113.3L240.5 113.9Z"/><ellipse class="l" cx="239.6" cy="116.4" rx="1.2" ry="1.8" transform="rotate(-29.4 239.6 116.4)" /><ellipse class="l" cx="239.6" cy="116.4" rx="1.8" ry="2.9" transform="rotate(-29.4 239.6 116.4)" style="stroke-width:1.6"/><path class="w" d="M265.9 100.6L279 104L272 143.5L258.9 133Z"/><path class="t" d="M268.5 103.5L276.5 106L270.5 139L262 131.5Z"/><path class="t" d="M265.9 100.6L264.5 103M264.5 103L257.5 135M257.5 135L258.9 133M257.5 135L270.5 145.5M270.5 145.5L272 143.5M270 110L266 132M273 111L269 134"/><ellipse class="w" cx="228.2" cy="169.7" rx="1.3" ry="2.1" transform="rotate(-22.9 228.2 169.7)" /><path d="M215.4 177.4L229 171.6L227.4 167.8L213.7 173.5Z" fill="#fff" stroke="none"/><path class="l" d="M215.4 177.4L229 171.6"/><path class="l" d="M213.7 173.5L227.4 167.8"/><ellipse class="w" cx="214.5" cy="175.5" rx="1.3" ry="2.1" transform="rotate(-22.9 214.5 175.5)" /><path class="l" d="M227.4 167.8L227.6 167.7L227.9 167.6L228.1 167.6L228.4 167.7L228.6 167.7L228.9 167.8L229.1 167.9L229.3 168.1L229.5 168.3L229.7 168.5L229.8 168.7L229.9 169L230 169.2L230.1 169.5L230.1 169.8L230.1 170L230.1 170.3L230 170.5L229.9 170.8L229.8 171L229.6 171.2L229.4 171.4L229.2 171.5L229 171.6"/><path class="t" d="M219.9 170.9L220.1 170.9L220.3 170.8L220.5 170.9L220.6 170.9L220.8 171L221 171.1L221.2 171.3L221.4 171.4L221.6 171.6L221.7 171.8L221.9 172.1L222 172.3L222.1 172.6L222.1 172.8L222.2 173.1L222.2 173.4L222.2 173.6L222.2 173.8L222.1 174.1L222.1 174.3L222 174.4L221.8 174.6L221.7 174.7L221.5 174.8"/><path class="w" d="M217.1 176.3L215.9 178.8L213.4 177.9L212 174.6L213.1 172.1L215.7 173Z"/><path d="M214.1 177.6L217.1 176.3L215.7 173L213.1 172.1L210.2 173.4Z" fill="#fff" stroke="none"/><path class="t" d="M214.1 177.6L217.1 176.3M212.7 174.3L215.7 173M210.2 173.4L213.1 172.1M213 180L215.9 178.8"/><path class="w" d="M214.1 177.6L213 180L210.5 179.1L209.1 175.8L210.2 173.4L212.7 174.3Z"/><ellipse class="w" cx="218.4" cy="200.3" rx="1.3" ry="2.1" transform="rotate(-27.8 218.4 200.3)" /><path d="M204.4 210.1L219.4 202.2L217.4 198.4L202.4 206.3Z" fill="#fff" stroke="none"/><path class="l" d="M204.4 210.1L219.4 202.2"/><path class="l" d="M202.4 206.3L217.4 198.4"/><ellipse class="w" cx="203.4" cy="208.2" rx="1.3" ry="2.1" transform="rotate(-27.8 203.4 208.2)" /><path class="l" d="M217.4 198.4L217.6 198.3L217.9 198.3L218.1 198.2L218.4 198.3L218.6 198.3L218.9 198.4L219.1 198.5L219.4 198.6L219.6 198.8L219.8 199L219.9 199.2L220.1 199.4L220.2 199.7L220.3 199.9L220.3 200.2L220.3 200.5L220.3 200.7L220.3 201L220.2 201.2L220.1 201.5L219.9 201.7L219.8 201.9L219.6 202L219.4 202.2"/><path class="t" d="M209.4 202.7L209.6 202.6L209.8 202.6L209.9 202.6L210.1 202.6L210.3 202.7L210.5 202.8L210.7 202.9L210.9 203.1L211.1 203.2L211.3 203.4L211.4 203.7L211.6 203.9L211.7 204.2L211.8 204.4L211.9 204.7L211.9 204.9L211.9 205.2L211.9 205.4L211.9 205.6L211.8 205.8L211.8 206L211.6 206.2L211.5 206.3L211.4 206.4"/><path class="w" d="M206 208.9L205.1 211.4L202.5 210.7L200.8 207.5L201.7 205L204.4 205.7Z"/><path d="M203.2 210.4L206 208.9L204.4 205.7L201.7 205L198.9 206.5Z" fill="#fff" stroke="none"/><path class="t" d="M203.2 210.4L206 208.9M201.5 207.2L204.4 205.7M198.9 206.5L201.7 205M202.3 212.9L205.1 211.4"/><path class="w" d="M203.2 210.4L202.3 212.9L199.7 212.2L198 209L198.9 206.5L201.5 207.2Z"/><ellipse class="w" cx="241" cy="250" rx="1.3" ry="2.1" transform="rotate(-28.9 241 250)" /><path d="M227.8 259.7L242 251.8L240 248.2L225.8 256Z" fill="#fff" stroke="none"/><path class="l" d="M227.8 259.7L242 251.8"/><path class="l" d="M225.8 256L240 248.2"/><ellipse class="w" cx="226.8" cy="257.9" rx="1.3" ry="2.1" transform="rotate(-28.9 226.8 257.9)" /><path class="l" d="M240 248.2L240.2 248.1L240.4 248L240.7 248L240.9 248L241.2 248L241.5 248.1L241.7 248.2L241.9 248.3L242.1 248.5L242.3 248.6L242.5 248.9L242.7 249.1L242.8 249.3L242.9 249.6L242.9 249.9L242.9 250.1L242.9 250.4L242.9 250.7L242.8 250.9L242.7 251.1L242.6 251.3L242.4 251.5L242.2 251.7L242 251.8"/><path class="t" d="M232.3 252.4L232.5 252.3L232.7 252.3L232.9 252.3L233.1 252.3L233.3 252.4L233.5 252.5L233.7 252.6L233.9 252.7L234 252.9L234.2 253.1L234.4 253.3L234.5 253.6L234.6 253.8L234.7 254.1L234.8 254.3L234.9 254.6L234.9 254.8L234.9 255.1L234.9 255.3L234.8 255.5L234.7 255.7L234.6 255.8L234.5 256L234.4 256.1"/><path class="w" d="M229.4 258.5L228.5 261L225.9 260.4L224.2 257.2L225.1 254.7L227.7 255.3Z"/><path d="M226.6 260L229.4 258.5L227.7 255.3L225.1 254.7L222.3 256.2Z" fill="#fff" stroke="none"/><path class="t" d="M226.6 260L229.4 258.5M224.9 256.9L227.7 255.3M222.3 256.2L225.1 254.7M225.7 262.6L228.5 261"/><path class="w" d="M226.6 260L225.7 262.6L223.1 261.9L221.4 258.8L222.3 256.2L224.9 256.9Z"/><ellipse class="w" cx="287" cy="262.7" rx="1.3" ry="2.1" transform="rotate(-27.3 287 262.7)" /><path d="M272.8 272.4L288 264.6L286 260.8L270.9 268.7Z" fill="#fff" stroke="none"/><path class="l" d="M272.8 272.4L288 264.6"/><path class="l" d="M270.9 268.7L286 260.8"/><ellipse class="w" cx="271.8" cy="270.5" rx="1.3" ry="2.1" transform="rotate(-27.3 271.8 270.5)" /><path class="l" d="M286 260.8L286.3 260.7L286.5 260.7L286.8 260.6L287 260.7L287.3 260.7L287.5 260.8L287.7 260.9L288 261L288.2 261.2L288.4 261.4L288.5 261.6L288.7 261.8L288.8 262.1L288.9 262.3L288.9 262.6L288.9 262.9L288.9 263.1L288.9 263.4L288.8 263.7L288.7 263.9L288.5 264.1L288.4 264.3L288.2 264.4L288 264.6"/><path class="t" d="M277.9 265L278.1 265L278.3 264.9L278.5 264.9L278.7 265L278.9 265L279.1 265.1L279.3 265.3L279.5 265.4L279.6 265.6L279.8 265.8L280 266L280.1 266.3L280.2 266.5L280.3 266.8L280.4 267L280.4 267.3L280.4 267.5L280.4 267.8L280.4 268L280.3 268.2L280.2 268.4L280.1 268.5L280 268.7L279.9 268.8"/><path class="w" d="M274.4 271.2L273.5 273.7L270.9 273L269.2 269.8L270.2 267.3L272.8 268Z"/><path d="M271.6 272.7L274.4 271.2L272.8 268L270.2 267.3L267.3 268.8Z" fill="#fff" stroke="none"/><path class="t" d="M271.6 272.7L274.4 271.2M269.9 269.5L272.8 268M267.3 268.8L270.2 267.3M270.7 275.2L273.5 273.7"/><path class="w" d="M271.6 272.7L270.7 275.2L268.1 274.5L266.4 271.3L267.3 268.8L269.9 269.5Z"/><path class="w" d="M232 214L239 211.5L242.5 214L242.5 220.5L236 223.5L232 221Z"/><path class="t" d="M232 214L236 216.5M236 216.5L242.5 214M236 216.5L236 223.5"/><ellipse class="l" cx="234.3" cy="218.3" rx="1.5" ry="2.3" transform="rotate(-29.4 234.3 218.3)" /><ellipse class="w" cx="206.7" cy="297.2" rx="3" ry="4.7" transform="rotate(-29.4 206.7 297.2)" /><path d="M208 301.9L209.1 301.3L204.4 293.1L203.4 293.7Z" fill="#fff" stroke="none"/><path class="l" d="M208 301.9L209.1 301.3"/><path class="l" d="M203.4 293.7L204.4 293.1"/><ellipse class="w" cx="205.7" cy="297.8" rx="3" ry="4.7" transform="rotate(-29.4 205.7 297.8)" /><ellipse class="l" cx="205.7" cy="297.8" rx="1.6" ry="2.5" transform="rotate(-29.4 205.7 297.8)" /><ellipse class="w" cx="197.5" cy="301.8" rx="2" ry="3.2" transform="rotate(-29.4 197.5 301.8)" /><path d="M195.6 306.5L199.1 304.6L196 299L192.5 301Z" fill="#fff" stroke="none"/><path class="l" d="M195.6 306.5L199.1 304.6"/><path class="l" d="M192.5 301L196 299"/><ellipse class="w" cx="194.1" cy="303.7" rx="2" ry="3.2" transform="rotate(-29.4 194.1 303.7)" /><ellipse class="w" cx="194.1" cy="303.7" rx="3.2" ry="5" transform="rotate(-29.4 194.1 303.7)" /><path d="M194.8 309.1L196.5 308.1L191.6 299.4L189.9 300.4Z" fill="#fff" stroke="none"/><path class="l" d="M194.8 309.1L196.5 308.1"/><path class="l" d="M189.9 300.4L191.6 299.4"/><ellipse class="w" cx="192.3" cy="304.7" rx="3.2" ry="5" transform="rotate(-29.4 192.3 304.7)" /><ellipse class="w" cx="192.3" cy="304.7" rx="2.9" ry="4.6" transform="rotate(-29.4 192.3 304.7)" /><path d="M192 310.2L194.6 308.7L190.1 300.7L187.4 302.2Z" fill="#fff" stroke="none"/><path class="l" d="M192 310.2L194.6 308.7"/><path class="l" d="M187.4 302.2L190.1 300.7"/><ellipse class="w" cx="189.7" cy="306.2" rx="2.9" ry="4.6" transform="rotate(-29.4 189.7 306.2)" /><ellipse class="w" cx="179" cy="323.4" rx="3" ry="4.7" transform="rotate(-29.4 179 323.4)" /><path d="M180.3 328.1L181.4 327.5L176.7 319.3L175.7 319.9Z" fill="#fff" stroke="none"/><path class="l" d="M180.3 328.1L181.4 327.5"/><path class="l" d="M175.7 319.9L176.7 319.3"/><ellipse class="w" cx="178" cy="324" rx="3" ry="4.7" transform="rotate(-29.4 178 324)" /><ellipse class="l" cx="178" cy="324" rx="1.6" ry="2.5" transform="rotate(-29.4 178 324)" /><ellipse class="w" cx="170.8" cy="328.1" rx="2" ry="3.2" transform="rotate(-29.4 170.8 328.1)" /><path d="M168.9 332.8L172.4 330.9L169.3 325.3L165.8 327.3Z" fill="#fff" stroke="none"/><path class="l" d="M168.9 332.8L172.4 330.9"/><path class="l" d="M165.8 327.3L169.3 325.3"/><ellipse class="w" cx="167.4" cy="330" rx="2" ry="3.2" transform="rotate(-29.4 167.4 330)" /><ellipse class="w" cx="167.4" cy="330" rx="3.2" ry="5" transform="rotate(-29.4 167.4 330)" /><path d="M168.1 335.4L169.8 334.4L164.9 325.7L163.2 326.7Z" fill="#fff" stroke="none"/><path class="l" d="M168.1 335.4L169.8 334.4"/><path class="l" d="M163.2 326.7L164.9 325.7"/><ellipse class="w" cx="165.6" cy="331" rx="3.2" ry="5" transform="rotate(-29.4 165.6 331)" /><ellipse class="w" cx="165.6" cy="331" rx="2.9" ry="4.6" transform="rotate(-29.4 165.6 331)" /><path d="M165.3 336.5L167.9 335L163.4 327L160.7 328.5Z" fill="#fff" stroke="none"/><path class="l" d="M165.3 336.5L167.9 335"/><path class="l" d="M160.7 328.5L163.4 327"/><ellipse class="w" cx="163" cy="332.5" rx="2.9" ry="4.6" transform="rotate(-29.4 163 332.5)" /><path class="w" d="M679.6 193.2L678.6 195.7L676 195L674.4 191.8L675.4 189.3L678 190Z"/><path d="M676.7 194.6L679.6 193.2L678 190L675.4 189.3L672.5 190.7Z" fill="#fff" stroke="none"/><path class="t" d="M676.7 194.6L679.6 193.2M675.1 191.4L678 190M672.5 190.7L675.4 189.3"/><path class="w" d="M676.7 194.6L675.7 197.2L673.2 196.4L671.5 193.2L672.5 190.7L675.1 191.4Z"/><ellipse class="w" cx="674.1" cy="193.9" rx="1.3" ry="2.1" transform="rotate(-26.6 674.1 193.9)" /><path d="M661.9 202.4L675.1 195.8L673.2 192.1L660.1 198.6Z" fill="#fff" stroke="none"/><path class="l" d="M661.9 202.4L675.1 195.8"/><path class="l" d="M660.1 198.6L673.2 192.1"/><ellipse class="w" cx="661" cy="200.5" rx="1.3" ry="2.1" transform="rotate(-26.6 661 200.5)" /><path class="w" d="M648.6 219.9L647.8 222.3L645.3 221.7L643.6 218.8L644.4 216.4L646.9 216.9Z"/><path class="t" d="M646.5 221.1L648.6 219.9M644.8 218.1L646.9 216.9M642.3 217.5L644.4 216.4"/><path class="w" d="M646.5 221.1L645.7 223.5L643.2 222.9L641.5 219.9L642.3 217.5L644.8 218.1Z"/><ellipse class="l" cx="644" cy="220.5" rx="1.1" ry="1.7" transform="rotate(-29.4 644 220.5)" /><path class="w" d="M696.7 347.9L695.9 350.5L693.2 349.9L691.5 346.7L692.3 344.2L694.9 344.8Z"/><path class="t" d="M694.6 349.1L696.7 347.9M692.9 346L694.9 344.8M690.2 345.4L692.3 344.2"/><path class="w" d="M694.6 349.1L693.8 351.6L691.1 351L689.4 347.9L690.2 345.4L692.9 346Z"/><ellipse class="l" cx="692" cy="348.5" rx="1.2" ry="1.8" transform="rotate(-29.4 692 348.5)" /><ellipse class="l" cx="692" cy="348.5" rx="1.8" ry="2.9" transform="rotate(-29.4 692 348.5)" style="stroke-width:1.6"/>
<ellipse class="w" cx="179.4" cy="437.2" rx="9.9" ry="16" transform="rotate(-29.4 179.4 437.2)" /><path d="M183.4 453.3L187.3 451.1L171.6 423.3L167.6 425.5Z" fill="#fff" stroke="none"/><path class="l" d="M183.4 453.3L187.3 451.1"/><path class="l" d="M167.6 425.5L171.6 423.3"/><ellipse class="w" cx="175.5" cy="439.4" rx="9.9" ry="16" transform="rotate(-29.4 175.5 439.4)" /><ellipse class="t" cx="175.5" cy="439.4" rx="9" ry="14.5" transform="rotate(-29.4 175.5 439.4)" /><ellipse class="t" cx="175.5" cy="439.4" rx="7.4" ry="12" transform="rotate(-29.4 175.5 439.4)" /><ellipse class="t" cx="175.5" cy="439.4" rx="5.9" ry="9.5" transform="rotate(-29.4 175.5 439.4)" /><ellipse class="t" cx="175.5" cy="439.4" rx="4" ry="6.5" transform="rotate(-29.4 175.5 439.4)" /><ellipse class="l" cx="175.5" cy="439.4" rx="2.5" ry="4" transform="rotate(-29.4 175.5 439.4)" /><path class="t" d="M178.2 442.1L177.9 442.1L177.6 442.1L177.3 442.1L177 442L176.7 441.9L176.4 441.7L176.1 441.5L175.8 441.2L175.5 440.9L175.2 440.6L174.9 440.2L174.7 439.8L174.5 439.5L174.3 439.1L174.2 438.7L174.1 438.3L174 437.9L174 437.5L174 437.1L174.1 436.8L174.1 436.4L174.3 436.2L174.4 435.9L174.6 435.7"/><ellipse class="w" cx="204.4" cy="423" rx="4.2" ry="6.6" transform="rotate(-29.4 204.4 423)" /><ellipse class="l" cx="204.4" cy="423" rx="3.3" ry="5.2" transform="rotate(-29.4 204.4 423)" /><ellipse class="w" cx="311.3" cy="362.8" rx="3.6" ry="5.7" transform="rotate(-29.4 311.3 362.8)" /><path d="M279.3 387.4L314.1 367.7L308.6 357.8L273.7 377.4Z" fill="#fff" stroke="none"/><path class="l" d="M279.3 387.4L314.1 367.7"/><path class="l" d="M273.7 377.4L308.6 357.8"/><ellipse class="w" cx="276.5" cy="382.4" rx="3.6" ry="5.7" transform="rotate(-29.4 276.5 382.4)" /><path class="l" d="M308.6 357.9L309.2 357.6L309.8 357.4L310.5 357.3L311.2 357.3L311.8 357.4L312.5 357.6L313.2 357.8L313.8 358.2L314.4 358.6L314.9 359.1L315.3 359.7L315.7 360.3L316.1 360.9L316.3 361.6L316.5 362.3L316.5 363.1L316.5 363.8L316.4 364.5L316.2 365.1L315.9 365.8L315.6 366.3L315.1 366.8L314.6 367.3L314.1 367.6"/><path class="t" d="M283.3 375.5L305.1 363.2M284.8 377.5L306.6 365.2"/><ellipse class="w" cx="278.2" cy="381.4" rx="5" ry="7.8" transform="rotate(-29.4 278.2 381.4)" /><path d="M266.4 397.1L282.1 388.2L274.4 374.6L258.7 383.5Z" fill="#fff" stroke="none"/><path class="l" d="M266.4 397.1L282.1 388.2"/><path class="l" d="M258.7 383.5L274.4 374.6"/><ellipse class="w" cx="262.6" cy="390.3" rx="5" ry="7.8" transform="rotate(-29.4 262.6 390.3)" /><ellipse class="w" cx="262.6" cy="390.3" rx="5.5" ry="8.6" transform="rotate(-29.4 262.6 390.3)" /><path d="M263.3 399.7L266.8 397.7L258.3 382.8L254.9 384.7Z" fill="#fff" stroke="none"/><path class="l" d="M263.3 399.7L266.8 397.7"/><path class="l" d="M254.9 384.7L258.3 382.8"/><ellipse class="w" cx="259.1" cy="392.2" rx="5.5" ry="8.6" transform="rotate(-29.4 259.1 392.2)" /><path class="w" d="M265 391.4L266.5 391.8L266.9 393L265.6 393.3L265.7 394.3L267.2 395.3L267.2 396.4L265.7 396.1L265.6 396.9L266.9 398.4L266.6 399.4L265.1 398.4L264.7 399L265.7 400.8L265.1 401.4L263.7 399.9L263.1 400.3L263.6 402.2L262.8 402.4L261.8 400.5L261 400.5L261.1 402.3L260.1 402.1L259.5 400.2L258.7 399.8L258.2 401.3L257.2 400.6L257.2 398.8L256.5 398.2L255.5 399.1L254.6 398.1L255.1 396.7L254.5 395.8L253.2 396.1L252.6 394.9L253.5 394L253.1 393L251.6 392.7L251.3 391.4L252.6 391.1L252.4 390.1L250.9 389.2L250.9 388L252.4 388.4L252.6 387.5L251.2 386L251.6 385.1L253.1 386.1L253.5 385.4L252.5 383.6L253.1 383L254.4 384.5L255 384.2L254.5 382.3L255.4 382.1L256.4 383.9L257.1 383.9L257.1 382.1L258.1 382.4L258.6 384.3L259.4 384.6L259.9 383.2L260.9 383.8L260.9 385.6L261.7 386.3L262.7 385.3L263.5 386.3L263 387.7L263.6 388.6L265 388.3L265.6 389.5L264.6 390.4Z"/><path d="M257.5 405.7L264.5 401.8L253.7 382.6L246.7 386.6Z" fill="#fff" stroke="none"/><path class="t" d="M258.5 393.2L266.5 391.8M259.1 394.4L266.9 393M259.9 396.7L267.2 395.3M260.1 397.9L267.2 396.4M260.3 400.2L266.9 398.4M260.2 401.3L266.6 399.4M259.7 403.1L265.7 400.8M259.3 404L265.1 401.4M258.2 405.2L263.6 402.2M257.5 405.7L262.8 402.4M246.7 386.6L255.4 382.1M248.2 386L257.1 382.1M249.1 386L258.1 382.4M250.9 386.2L259.9 383.2M251.9 386.6L260.9 383.8M253.8 387.6L262.7 385.3M254.7 388.4L263.5 386.3M256.4 390L265 388.3M257.2 391.1L265.6 389.5"/><path class="w" d="M257.1 393.3L258.5 393.2L259.1 394.4L258 395.2L258.3 396.2L259.9 396.7L260.1 397.9L258.7 398L258.8 399L260.3 400.2L260.2 401.3L258.7 400.7L258.4 401.5L259.7 403.1L259.3 404L257.8 402.8L257.3 403.4L258.2 405.2L257.5 405.7L256.3 404.1L255.6 404.4L256 406.3L255.1 406.3L254.2 404.5L253.4 404.3L253.3 406.1L252.3 405.7L251.9 403.8L251.1 403.4L250.5 404.7L249.5 403.9L249.6 402.2L248.9 401.5L247.8 402.3L247 401.2L247.7 399.9L247.1 399L245.7 399.1L245.1 397.9L246.2 397.1L245.9 396.1L244.4 395.6L244.1 394.3L245.5 394.2L245.4 393.3L243.9 392.1L244 391L245.6 391.6L245.8 390.8L244.5 389.2L244.9 388.3L246.4 389.5L246.9 388.9L246 387.1L246.7 386.6L248 388.2L248.6 387.9L248.2 386L249.1 386L250 387.8L250.8 387.9L250.9 386.2L251.9 386.6L252.3 388.5L253.1 388.9L253.8 387.6L254.7 388.4L254.6 390.1L255.3 390.8L256.4 390L257.2 391.1L256.5 392.4Z"/><ellipse class="w" cx="253" cy="395.7" rx="3.5" ry="5.4" transform="rotate(-29.4 253 395.7)" /><path d="M232.1 413.6L255.6 400.4L250.3 391L226.8 404.2Z" fill="#fff" stroke="none"/><path class="l" d="M232.1 413.6L255.6 400.4"/><path class="l" d="M226.8 404.2L250.3 391"/><ellipse class="w" cx="229.5" cy="408.9" rx="3.5" ry="5.4" transform="rotate(-29.4 229.5 408.9)" /><path class="t" d="M237.3 398.3L237.7 398.1L238.1 398L238.6 398L239.1 398.1L239.6 398.3L240.2 398.5L240.7 398.8L241.2 399.2L241.7 399.7L242.1 400.2L242.5 400.7L242.9 401.3L243.2 402L243.5 402.6L243.7 403.3L243.8 403.9L243.9 404.5L243.9 405.1L243.8 405.7L243.7 406.2L243.5 406.7L243.2 407.1L242.9 407.5L242.6 407.7"/><path class="w" d="M232.7 407.1L234.2 407L234.8 408.3L233.5 408.9L233.7 410.1L235.4 411.2L235.4 412.3L233.7 411.8L233.4 412.7L234.7 414.6L234.1 415.3L232.6 413.8L231.8 414.2L232.3 416.3L231.3 416.3L230.5 414.2L229.5 413.9L229 415.6L228 414.9L228 413L227.2 412.1L225.9 412.8L225.1 411.6L226.1 410.4L225.5 409.2L223.9 408.7L223.6 407.5L225.2 407.4L225.2 406.3L223.7 404.7L224 403.8L225.6 404.9L226.2 404.2L225.3 402.1L226.1 401.7L227.3 403.6L228.2 403.6L228.2 401.6L229.2 401.9L229.7 404L230.6 404.6L231.6 403.4L232.5 404.4L232 406Z"/><path d="M229 418.3L233.4 415.9L225.5 401.9L221.2 404.4Z" fill="#fff" stroke="none"/><path class="t" d="M229.9 409.5L234.2 407M230.4 410.7L234.8 408.3M231 413.6L235.4 411.2M231 414.8L235.4 412.3M230.3 417.1L234.7 414.6M229.7 417.8L234.1 415.3M220.9 404.5L225.3 402.1M221.7 404.2L226.1 401.7M223.9 404.1L228.2 401.6M224.9 404.4L229.2 401.9M227.2 405.9L231.6 403.4M228.1 406.8L232.5 404.4"/><path class="w" d="M228.3 409.5L229.9 409.5L230.4 410.7L229.1 411.3L229.4 412.6L231 413.6L231 414.8L229.3 414.3L229 415.2L230.3 417.1L229.7 417.8L228.2 416.2L227.5 416.6L227.9 418.7L227 418.8L226.1 416.7L225.1 416.4L224.6 418L223.6 417.4L223.7 415.4L222.8 414.5L221.5 415.2L220.8 414.1L221.7 412.9L221.2 411.7L219.5 411.2L219.3 409.9L220.8 409.9L220.8 408.7L219.3 407.2L219.6 406.2L221.3 407.3L221.8 406.6L220.9 404.5L221.7 404.2L223 406L223.9 406L223.9 404.1L224.9 404.4L225.3 406.5L226.3 407.1L227.2 405.9L228.1 406.8L227.6 408.4Z"/><ellipse class="w" cx="225.1" cy="411.4" rx="2.4" ry="3.8" transform="rotate(-29.4 225.1 411.4)" /><path d="M220.9 418.1L227 414.7L223.2 408.1L217.1 411.5Z" fill="#fff" stroke="none"/><path class="l" d="M220.9 418.1L227 414.7"/><path class="l" d="M217.1 411.5L223.2 408.1"/><ellipse class="w" cx="219" cy="414.8" rx="2.4" ry="3.8" transform="rotate(-29.4 219 414.8)" /><ellipse class="t" cx="219" cy="414.8" rx="1.3" ry="2" transform="rotate(-29.4 219 414.8)" /><path class="w" d="M286 349.6L301 342.2L302.4 343L302.4 345.2L287.4 352.8L286 352Z"/><path class="t" d="M286 352L286 349.6L287.4 350.5L302.4 343"/><path class="t" d="M287.4 350.5L287.4 352.8"/><ellipse class="w" cx="322" cy="356.3" rx="4.2" ry="6.6" transform="rotate(-29.4 322 356.3)" /><ellipse class="l" cx="322" cy="356.3" rx="3.3" ry="5.2" transform="rotate(-29.4 322 356.3)" /><ellipse class="w" cx="349.4" cy="340.6" rx="11" ry="18" transform="rotate(-29.4 349.4 340.6)" /><path d="M353.4 359L358.2 356.3L340.6 324.9L335.8 327.6Z" fill="#fff" stroke="none"/><path class="l" d="M353.4 359L358.2 356.3"/><path class="l" d="M335.8 327.6L340.6 324.9"/><ellipse class="w" cx="344.6" cy="343.3" rx="11" ry="18" transform="rotate(-29.4 344.6 343.3)" /><ellipse class="t" cx="344.6" cy="343.3" rx="10.1" ry="16.5" transform="rotate(-29.4 344.6 343.3)" /><ellipse class="t" cx="344.6" cy="343.3" rx="8.2" ry="13.5" transform="rotate(-29.4 344.6 343.3)" /><ellipse class="t" cx="344.6" cy="343.3" rx="6.5" ry="10.6" transform="rotate(-29.4 344.6 343.3)" /><ellipse class="l" cx="344.6" cy="343.3" rx="5.1" ry="8.4" transform="rotate(-29.4 344.6 343.3)" /><path class="t" d="M350.3 348.9L349.7 349L349.1 349L348.5 348.9L347.8 348.7L347.2 348.4L346.5 348.1L345.8 347.6L345.2 347L344.6 346.4L344 345.7L343.5 345L343 344.2L342.6 343.4L342.2 342.5L341.9 341.7L341.7 340.9L341.6 340L341.5 339.2L341.5 338.4L341.6 337.7L341.8 337.1L342 336.5L342.3 335.9L342.7 335.5"/><ellipse class="w" cx="378.6" cy="325.2" rx="9.8" ry="16" transform="rotate(-29.4 378.6 325.2)" /><path d="M383.5 340.8L386.5 339.1L370.8 311.2L367.7 313Z" fill="#fff" stroke="none"/><path class="l" d="M383.5 340.8L386.5 339.1"/><path class="l" d="M367.7 313L370.8 311.2"/><ellipse class="w" cx="375.6" cy="326.9" rx="9.8" ry="16" transform="rotate(-29.4 375.6 326.9)" /><ellipse class="t" cx="375.6" cy="326.9" rx="8.5" ry="14" transform="rotate(-29.4 375.6 326.9)" /><ellipse class="t" cx="375.6" cy="326.9" rx="6.7" ry="11" transform="rotate(-29.4 375.6 326.9)" /><ellipse class="l" cx="375.6" cy="326.9" rx="5.8" ry="9.5" transform="rotate(-29.4 375.6 326.9)" /><path class="t" d="M382 333.3L381.4 333.4L380.7 333.4L380 333.3L379.2 333L378.5 332.7L377.7 332.3L377 331.7L376.3 331.1L375.6 330.4L374.9 329.6L374.3 328.8L373.8 327.9L373.3 327L372.9 326L372.6 325.1L372.3 324.1L372.2 323.2L372.1 322.3L372.1 321.4L372.2 320.6L372.4 319.8L372.7 319.2L373 318.6L373.5 318.1"/><ellipse class="w" cx="448.2" cy="418.3" rx="10.8" ry="17.4" transform="rotate(-29.4 448.2 418.3)" /><path d="M451.5 436.4L456.8 433.4L439.7 403.1L434.5 406Z" fill="#fff" stroke="none"/><path class="l" d="M451.5 436.4L456.8 433.4"/><path class="l" d="M434.5 406L439.7 403.1"/><ellipse class="w" cx="443" cy="421.2" rx="10.8" ry="17.4" transform="rotate(-29.4 443 421.2)" /><ellipse class="t" cx="443" cy="421.2" rx="9.7" ry="15.6" transform="rotate(-29.4 443 421.2)" /><ellipse class="t" cx="443" cy="421.2" rx="8.1" ry="13" transform="rotate(-29.4 443 421.2)" /><ellipse class="t" cx="443" cy="421.2" rx="6.6" ry="10.6" transform="rotate(-29.4 443 421.2)" /><ellipse class="l" cx="443" cy="421.2" rx="4.7" ry="7.6" transform="rotate(-29.4 443 421.2)" /><path class="t" d="M448.1 426.3L447.6 426.4L447.1 426.4L446.5 426.3L445.9 426.1L445.3 425.9L444.7 425.5L444.1 425.1L443.5 424.6L442.9 424L442.4 423.4L441.9 422.8L441.5 422L441.1 421.3L440.8 420.5L440.5 419.8L440.3 419L440.2 418.3L440.2 417.5L440.2 416.8L440.3 416.2L440.4 415.6L440.7 415L440.9 414.6L441.3 414.1"/><path class="w" d="M428.8 429.8L430.2 429.6L430.7 430.7L429.7 431.5L430.1 432.5L431.6 432.8L431.9 433.9L430.6 434.3L430.8 435.2L432.4 436L432.5 437.1L431.1 437L431.1 437.9L432.6 439L432.5 440L431 439.5L430.8 440.3L432.2 441.8L431.9 442.6L430.4 441.7L430 442.3L431.2 444L430.7 444.7L429.3 443.4L428.8 443.8L429.6 445.7L429 446.1L427.8 444.5L427.1 444.8L427.7 446.7L426.9 446.8L425.9 445L425.2 445.1L425.3 446.9L424.5 446.8L423.8 444.9L423 444.7L422.8 446.3L421.9 446L421.6 444.1L420.8 443.7L420.3 445.1L419.4 444.4L419.4 442.7L418.7 442.1L417.8 443.1L417 442.3L417.4 440.8L416.8 440L415.6 440.6L414.9 439.6L415.6 438.4L415.1 437.5L413.7 437.7L413.2 436.6L414.3 435.8L413.9 434.9L412.4 434.6L412 433.5L413.3 433.1L413.1 432.1L411.6 431.4L411.4 430.3L412.9 430.4L412.8 429.5L411.4 428.3L411.4 427.3L412.9 427.9L413.1 427L411.8 425.6L412 424.7L413.6 425.7L413.9 425L412.8 423.3L413.2 422.7L414.7 424L415.1 423.5L414.3 421.6L414.9 421.2L416.2 422.8L416.8 422.6L416.3 420.7L417.1 420.5L418 422.3L418.8 422.3L418.6 420.4L419.5 420.6L420.1 422.5L420.9 422.7L421.1 421L422 421.4L422.3 423.2L423.1 423.7L423.7 422.3L424.5 422.9L424.5 424.7L425.2 425.3L426.1 424.2L426.9 425.1L426.5 426.6L427.2 427.4L428.3 426.7L429 427.7L428.3 428.9Z"/><path d="M422 450.1L429 446.1L414.9 421.2L408 425.1Z" fill="#fff" stroke="none"/><path class="t" d="M423.2 433.6L430.2 429.6M423.8 434.6L430.7 430.7M424.6 436.7L431.6 432.8M424.9 437.8L431.9 433.9M425.4 439.9L432.4 436M425.5 441L432.5 437.1M425.6 442.9L432.6 439M425.5 443.9L432.5 440M425.2 445.7L432.2 441.8M424.9 446.5L431.9 442.6M424.2 448L431.2 444M423.7 448.6L430.7 444.7M422.7 449.6L429.6 445.7M422 450.1L429 446.1M407.3 425.6L414.3 421.6M408 425.1L414.9 421.2M409.3 424.6L416.3 420.7M410.1 424.4L417.1 420.5M411.6 424.4L418.6 420.4M412.5 424.5L419.5 420.6M414.1 424.9L421.1 421M415 425.3L422 421.4M416.7 426.2L423.7 422.3M417.6 426.8L424.5 422.9M419.2 428.2L426.1 424.2M420 429L426.9 425.1M421.4 430.7L428.3 426.7M422.1 431.6L429 427.7"/><path class="w" d="M421.9 433.7L423.2 433.6L423.8 434.6L422.7 435.5L423.1 436.4L424.6 436.7L424.9 437.8L423.7 438.2L423.9 439.2L425.4 439.9L425.5 441L424.1 440.9L424.1 441.8L425.6 442.9L425.5 443.9L424 443.4L423.9 444.2L425.2 445.7L424.9 446.5L423.4 445.6L423.1 446.2L424.2 448L423.7 448.6L422.3 447.3L421.8 447.8L422.7 449.6L422 450.1L420.8 448.4L420.2 448.7L420.7 450.6L419.9 450.8L418.9 449L418.2 449L418.4 450.8L417.5 450.7L416.8 448.8L416.1 448.6L415.9 450.3L415 449.9L414.6 448L413.9 447.6L413.3 449L412.4 448.4L412.5 446.6L411.7 446L410.8 447L410 446.2L410.4 444.7L409.8 443.9L408.6 444.5L407.9 443.6L408.7 442.4L408.1 441.5L406.8 441.6L406.2 440.6L407.3 439.7L406.9 438.8L405.4 438.5L405.1 437.4L406.3 437L406.1 436L404.6 435.3L404.5 434.2L405.9 434.3L405.9 433.4L404.4 432.3L404.5 431.3L406 431.8L406.1 431L404.8 429.5L405.1 428.7L406.6 429.6L406.9 429L405.8 427.2L406.3 426.6L407.7 427.9L408.2 427.4L407.3 425.6L408 425.1L409.2 426.8L409.8 426.5L409.3 424.6L410.1 424.4L411.1 426.2L411.8 426.2L411.6 424.4L412.5 424.5L413.2 426.4L413.9 426.6L414.1 424.9L415 425.3L415.4 427.2L416.1 427.6L416.7 426.2L417.6 426.8L417.5 428.6L418.3 429.2L419.2 428.2L420 429L419.6 430.5L420.2 431.3L421.4 430.7L422.1 431.6L421.3 432.8Z"/><ellipse class="t" cx="415" cy="437.6" rx="7" ry="11" transform="rotate(-29.4 415 437.6)" /><ellipse class="t" cx="415" cy="437.6" rx="5.6" ry="8.8" transform="rotate(-29.4 415 437.6)" /><ellipse class="l" cx="415" cy="437.6" rx="5" ry="7.8" transform="rotate(-29.4 415 437.6)" /><ellipse class="w" cx="399.5" cy="446.9" rx="6.9" ry="10.8" transform="rotate(-29.4 399.5 446.9)" /><path d="M398.3 460L404.8 456.3L394.2 437.5L387.7 441.2Z" fill="#fff" stroke="none"/><path class="l" d="M398.3 460L404.8 456.3"/><path class="l" d="M387.7 441.2L394.2 437.5"/><ellipse class="w" cx="393" cy="450.6" rx="6.9" ry="10.8" transform="rotate(-29.4 393 450.6)" /><ellipse class="l" cx="393" cy="450.6" rx="5.9" ry="9.2" transform="rotate(-29.4 393 450.6)" /><path class="t" d="M395.7 459.1L399.6 456.9M393.9 458.9L397.8 456.7M392 458L395.9 455.8M390.2 456.5L394.1 454.3M388.5 454.6L392.5 452.4M387.3 452.3L391.2 450.1M386.5 450L390.4 447.8M386.2 447.7L390.1 445.5M386.4 445.6L390.3 443.4M387.1 443.9L391 441.7"/><path class="t" d="M389.4 440.6L395.9 437M392.3 441L398.8 437.3M395.2 442.7L401.8 439M397.9 445.5L404.5 441.8M399.9 449L406.4 445.3M400.9 452.8L407.5 449.1M400.8 456.2L407.4 452.5M399.6 458.9L406.2 455.2"/><path class="w" d="M381.1 458.8L382.7 458.4L383.3 459.5L382 460.5L382.5 461.5L384.3 461.5L384.7 462.5L383.3 463.4L383.7 464.4L385.6 464.6L386 465.7L384.4 466.3L384.7 467.3L386.6 467.7L386.9 468.8L385.3 469.2L385.5 470.2L387.4 470.9L387.6 472L385.8 472L386 473L387.9 474L388 475.1L386.2 474.9L386.2 475.8L388.1 477L388.1 478L386.3 477.6L386.2 478.5L388 479.9L388 480.9L386.1 480.2L385.9 481.1L387.7 482.7L387.5 483.6L385.6 482.6L385.4 483.4L387.1 485.2L386.8 486.1L384.9 484.9L384.6 485.6L386.2 487.6L385.8 488.3L384 486.9L383.6 487.6L385 489.7L384.6 490.3L382.8 488.7L382.3 489.3L383.6 491.5L383.1 492L381.4 490.2L380.9 490.7L382 493L381.4 493.4L379.8 491.5L379.2 491.8L380.2 494.2L379.5 494.5L378.1 492.4L377.4 492.7L378.2 495L377.4 495.2L376.1 493L375.4 493.2L376 495.5L375.2 495.6L374.1 493.3L373.3 493.4L373.7 495.7L372.8 495.6L371.9 493.3L371.1 493.2L371.3 495.5L370.4 495.3L369.7 493L368.9 492.8L368.8 494.9L367.9 494.6L367.4 492.3L366.5 492L366.3 494L365.4 493.6L365 491.3L364.2 490.9L363.7 492.8L362.8 492.3L362.7 490L361.9 489.5L361.2 491.2L360.3 490.6L360.4 488.5L359.6 487.9L358.8 489.4L357.9 488.7L358.2 486.7L357.5 486L356.4 487.3L355.6 486.5L356.1 484.6L355.4 483.8L354.1 484.9L353.4 484L354.1 482.3L353.4 481.5L352 482.3L351.3 481.4L352.2 479.9L351.6 479L350.1 479.5L349.4 478.5L350.5 477.2L350 476.3L348.3 476.6L347.8 475.6L349 474.5L348.5 473.5L346.8 473.6L346.3 472.5L347.7 471.7L347.3 470.7L345.5 470.5L345.1 469.4L346.6 468.8L346.3 467.8L344.5 467.3L344.2 466.2L345.8 465.9L345.6 464.9L343.7 464.2L343.5 463.1L345.2 463L345.1 462L343.2 461.1L343.1 460L344.9 460.2L344.8 459.2L343 458L343 457L344.8 457.5L344.8 456.5L343 455.1L343.1 454.1L345 454.9L345.1 454L343.4 452.4L343.6 451.4L345.4 452.4L345.7 451.6L344 449.8L344.3 449L346.1 450.2L346.4 449.4L344.9 447.5L345.3 446.7L347.1 448.1L347.5 447.5L346 445.4L346.5 444.7L348.3 446.3L348.7 445.8L347.4 443.6L348 443L349.6 444.8L350.2 444.3L349.1 442.1L349.7 441.6L351.2 443.6L351.8 443.2L350.9 440.9L351.6 440.5L353 442.6L353.7 442.4L352.9 440L353.7 439.8L354.9 442L355.6 441.9L355.1 439.5L355.9 439.4L357 441.7L357.7 441.7L357.4 439.4L358.2 439.4L359.2 441.7L359.9 441.8L359.8 439.6L360.7 439.7L361.4 442.1L362.2 442.3L362.3 440.1L363.2 440.4L363.7 442.7L364.5 443L364.8 441L365.7 441.4L366 443.7L366.8 444.1L367.3 442.2L368.2 442.7L368.4 445L369.2 445.5L369.9 443.8L370.7 444.4L370.6 446.6L371.4 447.2L372.3 445.6L373.2 446.3L372.9 448.4L373.6 449.1L374.7 447.8L375.5 448.6L375 450.4L375.7 451.2L376.9 450.1L377.7 451L377 452.7L377.7 453.6L379 452.7L379.7 453.7L378.8 455.2L379.5 456.1L381 455.5L381.6 456.5L380.5 457.8Z"/><path d="M373.9 497.7L380.5 494L350.6 441L344.1 444.7Z" fill="#fff" stroke="none"/><path class="t" d="M376.2 462.1L382.7 458.4M376.8 463.1L383.3 459.5M377.7 465.1L384.3 461.5M378.2 466.2L384.7 462.5M379 468.3L385.6 464.6M379.4 469.4L386 465.7M380.1 471.4L386.6 467.7M380.4 472.5L386.9 468.8M380.8 474.6L387.4 470.9M381.1 475.7L387.6 472M381.3 477.7L387.9 474M381.5 478.7L388 475.1M381.6 480.7L388.1 477M381.6 481.7L388.1 478M381.5 483.6L388 479.9M381.4 484.6L388 480.9M381.2 486.4L387.7 482.7M381 487.3L387.5 483.6M380.5 488.9L387.1 485.2M380.3 489.8L386.8 486.1M379.6 491.3L386.2 487.6M379.3 492L385.8 488.3M378.5 493.3L385 489.7M378 494L384.6 490.3M377.1 495.1L383.6 491.5M376.6 495.7L383.1 492M375.5 496.7L382 493M374.9 497.1L381.4 493.4M373.6 497.8L380.2 494.2M372.9 498.2L379.5 494.5M342.5 445.7L349.1 442.1M343.1 445.3L349.7 441.6M344.4 444.6L350.9 440.9M345.1 444.2L351.6 440.5M346.4 443.7L352.9 440M347.1 443.5L353.7 439.8M348.6 443.2L355.1 439.5M349.4 443.1L355.9 439.4M350.9 443L357.4 439.4M351.7 443.1L358.2 439.4M353.3 443.2L359.8 439.6M354.1 443.4L360.7 439.7M355.8 443.8L362.3 440.1M356.6 444.1L363.2 440.4M358.3 444.7L364.8 441M359.2 445.1L365.7 441.4M360.8 445.9L367.3 442.2M361.7 446.4L368.2 442.7M363.3 447.5L369.9 443.8M364.2 448.1L370.7 444.4M365.8 449.3L372.3 445.6M366.6 450L373.2 446.3M368.1 451.4L374.7 447.8M368.9 452.2L375.5 448.6M370.4 453.8L376.9 450.1M371.2 454.7L377.7 451M372.5 456.4L379 452.7M373.2 457.3L379.7 453.7M374.5 459.2L381 455.5M375.1 460.2L381.6 456.5"/><path class="w" d="M374.6 462.4L376.2 462.1L376.8 463.1L375.5 464.2L376 465.2L377.7 465.1L378.2 466.2L376.8 467.1L377.2 468.1L379 468.3L379.4 469.4L377.9 469.9L378.2 471L380.1 471.4L380.4 472.5L378.7 472.8L379 473.8L380.8 474.6L381.1 475.7L379.3 475.7L379.5 476.7L381.3 477.7L381.5 478.7L379.6 478.5L379.7 479.5L381.6 480.7L381.6 481.7L379.7 481.3L379.7 482.2L381.5 483.6L381.4 484.6L379.5 483.9L379.4 484.7L381.2 486.4L381 487.3L379.1 486.3L378.9 487.1L380.5 488.9L380.3 489.8L378.4 488.6L378.1 489.3L379.6 491.3L379.3 492L377.5 490.6L377.1 491.2L378.5 493.3L378 494L376.3 492.4L375.8 492.9L377.1 495.1L376.6 495.7L374.9 493.9L374.4 494.4L375.5 496.7L374.9 497.1L373.3 495.1L372.7 495.5L373.6 497.8L372.9 498.2L371.5 496.1L370.9 496.3L371.6 498.7L370.9 498.9L369.6 496.7L368.9 496.8L369.4 499.2L368.6 499.3L367.5 497L366.8 497L367.1 499.4L366.3 499.3L365.4 497L364.6 496.9L364.7 499.2L363.9 499L363.1 496.6L362.3 496.4L362.2 498.6L361.4 498.3L360.8 496L360 495.7L359.7 497.7L358.8 497.3L358.5 495L357.7 494.6L357.2 496.5L356.3 496L356.2 493.7L355.4 493.2L354.7 494.9L353.8 494.3L353.9 492.2L353.1 491.6L352.2 493.1L351.4 492.4L351.7 490.3L350.9 489.6L349.9 491L349.1 490.2L349.6 488.3L348.8 487.5L347.6 488.6L346.8 487.7L347.6 486L346.9 485.2L345.5 486L344.8 485.1L345.7 483.5L345.1 482.6L343.5 483.2L342.9 482.2L344 480.9L343.4 480L341.8 480.3L341.2 479.3L342.5 478.2L342 477.2L340.3 477.3L339.8 476.2L341.2 475.3L340.8 474.3L339 474.1L338.6 473L340.1 472.5L339.8 471.4L337.9 471L337.6 469.9L339.3 469.6L339 468.6L337.2 467.8L336.9 466.7L338.7 466.7L338.5 465.7L336.7 464.7L336.5 463.7L338.4 463.9L338.3 462.9L336.4 461.7L336.4 460.7L338.3 461.1L338.3 460.2L336.5 458.8L336.6 457.8L338.5 458.5L338.6 457.7L336.8 456L337 455.1L338.9 456.1L339.1 455.3L337.5 453.5L337.7 452.6L339.6 453.8L339.9 453.1L338.4 451.1L338.7 450.4L340.5 451.8L340.9 451.2L339.5 449.1L340 448.4L341.7 450L342.2 449.5L340.9 447.3L341.4 446.7L343.1 448.5L343.6 448L342.5 445.7L343.1 445.3L344.7 447.3L345.3 446.9L344.4 444.6L345.1 444.2L346.5 446.3L347.1 446.1L346.4 443.7L347.1 443.5L348.4 445.7L349.1 445.6L348.6 443.2L349.4 443.1L350.5 445.4L351.2 445.4L350.9 443L351.7 443.1L352.6 445.4L353.4 445.5L353.3 443.2L354.1 443.4L354.9 445.8L355.7 446L355.8 443.8L356.6 444.1L357.2 446.4L358 446.7L358.3 444.7L359.2 445.1L359.5 447.4L360.3 447.8L360.8 445.9L361.7 446.4L361.8 448.7L362.6 449.2L363.3 447.5L364.2 448.1L364.1 450.2L364.9 450.8L365.8 449.3L366.6 450L366.3 452.1L367.1 452.8L368.1 451.4L368.9 452.2L368.4 454.1L369.2 454.9L370.4 453.8L371.2 454.7L370.4 456.4L371.1 457.2L372.5 456.4L373.2 457.3L372.3 458.9L372.9 459.8L374.5 459.2L375.1 460.2L374 461.5Z"/><ellipse class="t" cx="359" cy="471.2" rx="16.6" ry="26" transform="rotate(-29.4 359 471.2)" /><ellipse class="l" cx="358.5" cy="471.5" rx="9.3" ry="14.6" transform="rotate(-29.4 358.5 471.5)" /><ellipse class="w" cx="358.5" cy="471.5" rx="8.4" ry="13.2" transform="rotate(-29.4 358.5 471.5)" /><path d="M362.8 484.2L365 483L352 460L349.8 461.2Z" fill="#fff" stroke="none"/><path class="l" d="M362.8 484.2L365 483"/><path class="l" d="M349.8 461.2L352 460"/><ellipse class="w" cx="356.3" cy="472.7" rx="8.4" ry="13.2" transform="rotate(-29.4 356.3 472.7)" /><ellipse class="l" cx="356.3" cy="472.7" rx="7.8" ry="12.2" transform="rotate(-29.4 356.3 472.7)" style="stroke-width:1.6"/><ellipse class="l" cx="356.8" cy="472.4" rx="6" ry="9.3" transform="rotate(-29.4 356.8 472.4)" /><path class="t" d="M362.4 479.3L361.8 479.4L361 479.4L360.3 479.3L359.5 479.1L358.8 478.8L358 478.3L357.3 477.8L356.5 477.2L355.8 476.5L355.2 475.7L354.6 474.9L354 474L353.6 473.1L353.2 472.2L352.8 471.2L352.6 470.2L352.5 469.3L352.4 468.4L352.4 467.5L352.6 466.7L352.8 465.9L353.1 465.2L353.4 464.6L353.9 464.1"/><path class="t" d="M363.6 477.8L363 477.8L362.3 477.7L361.7 477.5L361 477.2L360.4 476.9L359.7 476.5L359.1 476L358.5 475.4L357.9 474.8L357.4 474.1L356.9 473.4L356.4 472.7L356 471.9L355.7 471.1L355.4 470.3L355.2 469.5L355 468.7L354.9 467.9L354.9 467.1L354.9 466.4L355 465.7L355.2 465L355.4 464.4L355.7 463.9"/><ellipse class="w" cx="331.9" cy="486.1" rx="9.3" ry="14.5" transform="rotate(-29.4 331.9 486.1)" /><path d="M336 500.5L339.1 498.8L324.8 473.5L321.8 475.2Z" fill="#fff" stroke="none"/><path class="l" d="M336 500.5L339.1 498.8"/><path class="l" d="M321.8 475.2L324.8 473.5"/><ellipse class="w" cx="328.9" cy="487.9" rx="9.3" ry="14.5" transform="rotate(-29.4 328.9 487.9)" /><ellipse class="w" cx="328.9" cy="487.9" rx="11.5" ry="18" transform="rotate(-29.4 328.9 487.9)" /><path d="M334.2 505.5L337.7 503.5L320.1 472.2L316.6 474.1Z" fill="#fff" stroke="none"/><path class="l" d="M334.2 505.5L337.7 503.5"/><path class="l" d="M316.6 474.1L320.1 472.2"/><ellipse class="w" cx="325.4" cy="489.8" rx="11.5" ry="18" transform="rotate(-29.4 325.4 489.8)" /><ellipse class="w" cx="325.4" cy="489.8" rx="9.9" ry="15.5" transform="rotate(-29.4 325.4 489.8)" /><path d="M331.3 504.3L333 503.3L317.8 476.3L316.1 477.3Z" fill="#fff" stroke="none"/><path class="l" d="M331.3 504.3L333 503.3"/><path class="l" d="M316.1 477.3L317.8 476.3"/><ellipse class="w" cx="323.7" cy="490.8" rx="9.9" ry="15.5" transform="rotate(-29.4 323.7 490.8)" /><ellipse class="w" cx="323.7" cy="490.8" rx="11" ry="17.2" transform="rotate(-29.4 323.7 490.8)" /><path d="M326.4 509L332.1 505.8L315.2 475.8L309.6 479Z" fill="#fff" stroke="none"/><path class="l" d="M326.4 509L332.1 505.8"/><path class="l" d="M309.6 479L315.2 475.8"/><ellipse class="w" cx="318" cy="494" rx="11" ry="17.2" transform="rotate(-29.4 318 494)" /><ellipse class="l" cx="318" cy="494" rx="10.4" ry="16.2" transform="rotate(-29.4 318 494)" style="stroke-width:1.8"/><ellipse class="t" cx="318" cy="494" rx="9.1" ry="14.2" transform="rotate(-29.4 318 494)" /><ellipse class="l" cx="318" cy="494" rx="7.2" ry="11.3" transform="rotate(-29.4 318 494)" /><path class="l" d="M322.5 504.3L328.6 500.8M320.9 504.5L327 501M319.1 504.2L325.2 500.7M317.3 503.4L323.4 499.9M315.5 502.1L321.6 498.7M313.8 500.5L319.9 497.1M312.3 498.6L318.4 495.2M311.1 496.5L317.2 493M310.3 494.2L316.4 490.8M309.7 491.9L315.8 488.5M309.6 489.8L315.7 486.3M309.9 487.8L316 484.4M310.5 486.1L316.6 482.7M311.5 484.8L317.6 481.4"/><path class="t" d="M324.6 501.8L323.8 501.7L323 501.6L322.2 501.4L321.4 501L320.6 500.6L319.8 500.1L319 499.5L318.2 498.8L317.5 498L316.8 497.2L316.2 496.3L315.6 495.3L315.1 494.4L314.7 493.4L314.3 492.3L314 491.3L313.8 490.3L313.7 489.3L313.7 488.4L313.7 487.4L313.9 486.6L314.1 485.8L314.4 485L314.8 484.4"/><path class="t" d="M326 499.9L325.3 499.8L324.6 499.6L323.9 499.3L323.2 498.9L322.5 498.4L321.9 497.9L321.2 497.4L320.6 496.7L320 496.1L319.4 495.3L318.9 494.6L318.4 493.8L318 492.9L317.6 492.1L317.3 491.2L317 490.4L316.8 489.5L316.6 488.7L316.5 487.8L316.5 487L316.6 486.2L316.7 485.5L316.8 484.8L317.1 484.1"/><ellipse class="w" cx="303.8" cy="503.5" rx="4.6" ry="7.2" transform="rotate(-29.4 303.8 503.5)" /><path d="M289.9 519.6L307.3 509.8L300.2 497.3L282.8 507.1Z" fill="#fff" stroke="none"/><path class="l" d="M289.9 519.6L307.3 509.8"/><path class="l" d="M282.8 507.1L300.2 497.3"/><ellipse class="w" cx="286.3" cy="513.4" rx="4.6" ry="7.2" transform="rotate(-29.4 286.3 513.4)" /><path class="l" d="M300.2 497.3L300.9 497L301.7 496.8L302.4 496.7L303.2 496.7L304 496.8L304.8 497.1L305.6 497.5L306.4 498L307.1 498.5L307.7 499.2L308.3 499.9L308.8 500.7L309.2 501.6L309.5 502.4L309.8 503.3L309.9 504.2L309.9 505.1L309.8 506L309.6 506.8L309.3 507.6L309 508.3L308.5 508.9L307.9 509.4L307.3 509.8"/><path class="t" d="M291.5 502.2L292.1 501.9L292.7 501.8L293.3 501.8L294 501.9L294.7 502.1L295.4 502.4L296.1 502.8L296.8 503.4L297.4 504L298 504.6L298.6 505.4L299.1 506.2L299.5 507L299.9 507.9L300.1 508.8L300.3 509.6L300.4 510.5L300.4 511.3L300.3 512.1L300.1 512.8L299.9 513.4L299.5 513.9L299.1 514.4L298.6 514.7"/><path class="t" d="M293.3 501.2L293.8 501L294.4 500.8L295.1 500.8L295.7 500.9L296.4 501.1L297.1 501.4L297.8 501.9L298.5 502.4L299.2 503L299.8 503.7L300.3 504.4L300.8 505.2L301.2 506L301.6 506.9L301.9 507.8L302 508.7L302.1 509.5L302.1 510.3L302.1 511.1L301.9 511.8L301.6 512.4L301.3 512.9L300.8 513.4L300.3 513.7"/><ellipse class="w" cx="284.6" cy="514.3" rx="7" ry="11" transform="rotate(-29.4 284.6 514.3)" /><path d="M270.8 534.7L290 523.9L279.2 504.8L260 515.6Z" fill="#fff" stroke="none"/><path class="l" d="M270.8 534.7L290 523.9"/><path class="l" d="M260 515.6L279.2 504.8"/><ellipse class="w" cx="265.4" cy="525.1" rx="7" ry="11" transform="rotate(-29.4 265.4 525.1)" /><path class="l" d="M260 515.6L279.2 504.8M262 515L281.2 504.2M264.2 515.2L283.4 504.4M266.5 516.3L285.7 505.5M268.8 518L287.9 507.2M270.7 520.4L289.9 509.6M272.3 523.1L291.4 512.3M273.3 526L292.4 515.2M273.6 528.8L292.8 518M273.3 531.3L292.5 520.5M272.3 533.4L291.5 522.6M270.8 534.7L290 523.9"/><ellipse class="w" cx="267.2" cy="524.2" rx="4.8" ry="7.5" transform="rotate(-29.4 267.2 524.2)" /><path d="M263 535.1L270.9 530.7L263.5 517.6L255.7 522Z" fill="#fff" stroke="none"/><path class="l" d="M263 535.1L270.9 530.7"/><path class="l" d="M255.7 522L263.5 517.6"/><ellipse class="w" cx="259.3" cy="528.6" rx="4.8" ry="7.5" transform="rotate(-29.4 259.3 528.6)" /><ellipse class="w" cx="259.3" cy="528.6" rx="5.4" ry="8.5" transform="rotate(-29.4 259.3 528.6)" /><path d="M260 538L263.5 536L255.2 521.2L251.7 523.1Z" fill="#fff" stroke="none"/><path class="l" d="M260 538L263.5 536"/><path class="l" d="M251.7 523.1L255.2 521.2"/><ellipse class="w" cx="255.9" cy="530.5" rx="5.4" ry="8.5" transform="rotate(-29.4 255.9 530.5)" /><ellipse class="w" cx="256.7" cy="530.1" rx="4.2" ry="6.5" transform="rotate(-29.4 256.7 530.1)" /><path d="M253.9 537.2L259.9 535.7L253.5 524.4L249.1 528.8Z" fill="#fff" stroke="none"/><path class="l" d="M253.9 537.2L259.9 535.7"/><path class="l" d="M249.1 528.8L253.5 524.4"/><ellipse class="w" cx="251.5" cy="533" rx="3.1" ry="4.8" transform="rotate(-29.4 251.5 533)" /><path class="l" d="M249.3 534.2L253.7 531.8M249.3 535.4L253.9 532.8"/><path class="w" d="M239.6 537.8C239.9 538.3 240.2 538.4 241 538.6C241.7 538.7 242.2 538.2 242.8 538.6C243.5 538.9 243.7 539.5 243.6 540.2C243.4 540.8 242.6 540.7 242.2 541.2C241.8 541.8 241.7 542 241.9 542.6C242.1 543.2 242.4 543.4 243.2 543.8C243.9 544.2 244.6 543.8 245.2 544.3C245.7 544.9 245.9 545.5 245.6 546C245.3 546.5 244.5 546.1 243.9 546.5C243.4 546.9 243.2 547 243.3 547.6C243.4 548.2 243.7 548.4 244.4 549C245.2 549.6 245.9 549.5 246.4 550.2C246.9 550.8 247 551.4 246.6 551.8C246.2 552.1 245.3 551.5 244.7 551.7C244 551.8 243.7 551.9 243.7 552.4C243.7 553 244 553.3 244.7 554C245.3 554.8 246.2 555 246.6 555.7C247 556.4 246.9 556.9 246.4 557.1C245.9 557.3 245.1 556.5 244.4 556.4C243.7 556.4 243.4 556.3 243.3 556.8C243.1 557.3 243.4 557.6 243.9 558.5C244.5 559.4 245.3 559.8 245.6 560.5C245.9 561.3 245.7 561.8 245.1 561.8C244.5 561.7 243.9 560.8 243.1 560.5C242.4 560.2 242 560.1 241.8 560.5C241.6 560.8 241.8 561.2 242.2 562.2C242.6 563.1 243.4 563.7 243.5 564.5C243.7 565.3 243.4 565.6 242.8 565.4C242.2 565.2 241.7 564.2 240.9 563.7C240.2 563.2 239.9 562.9 239.5 563.2C239.2 563.5 239.3 563.9 239.6 564.8C239.8 565.8 240.5 566.6 240.5 567.3C240.5 568 240.1 568.2 239.5 567.9C238.9 567.5 238.6 566.4 237.9 565.8C237.2 565.1 236.9 564.8 236.5 564.9C236.2 565 236.2 565.4 236.2 566.3C236.3 567.2 236.9 568.2 236.7 568.8C236.6 569.4 236.2 569.5 235.6 569C235 568.5 234.9 567.4 234.3 566.6C233.7 565.8 233.4 565.4 233 565.4C232.6 565.4 232.5 565.8 232.4 566.6C232.2 567.4 232.7 568.4 232.4 568.9C232.1 569.4 231.6 569.3 231.1 568.7C230.6 568 230.7 567.1 230.2 566.2C229.8 565.3 229.6 564.9 229.1 564.7C228.7 564.6 228.5 564.9 228.2 565.5C227.9 566.2 228.2 567.3 227.8 567.6C227.4 567.9 226.9 567.7 226.5 567C226.1 566.3 226.3 565.5 226 564.5C225.7 563.6 225.6 563.2 225.1 562.9C224.7 562.6 224.5 562.8 224 563.3C223.5 563.8 223.6 564.8 223.1 565C222.6 565.1 222.1 564.8 221.8 564C221.5 563.3 222 562.7 221.9 561.7C221.7 560.8 221.7 560.4 221.3 560C220.8 559.6 220.6 559.7 220 560C219.4 560.3 219.2 561.2 218.7 561.2C218.1 561.2 217.7 560.7 217.5 559.9C217.4 559.2 218 558.8 218 557.9C218.1 557.1 218.1 556.7 217.7 556.2C217.3 555.7 217.1 555.8 216.4 555.8C215.7 555.9 215.3 556.6 214.7 556.4C214.1 556.2 213.7 555.7 213.7 555C213.7 554.2 214.5 554.1 214.7 553.4C214.9 552.6 215.1 552.3 214.7 551.8C214.4 551.2 214.1 551.2 213.4 551C212.6 550.8 212.1 551.4 211.5 551C210.9 550.6 210.6 550 210.8 549.4C210.9 548.8 211.7 548.9 212.1 548.3C212.5 547.7 212.7 547.5 212.5 546.9C212.3 546.3 212 546.2 211.2 545.8C210.4 545.4 209.8 545.7 209.2 545.2C208.6 544.7 208.5 544.1 208.7 543.6C209 543.1 209.9 543.4 210.4 543C211 542.7 211.2 542.5 211.1 541.9C211 541.4 210.7 541.1 209.9 540.5C209.2 539.9 208.4 540 207.9 539.4C207.4 538.7 207.4 538.1 207.8 537.8C208.2 537.4 209 538 209.7 537.9C210.3 537.7 210.6 537.7 210.6 537.1C210.6 536.6 210.3 536.3 209.7 535.5C209 534.8 208.2 534.6 207.8 533.9C207.4 533.2 207.5 532.6 208 532.4C208.5 532.3 209.2 533 210 533.1C210.7 533.2 211 533.2 211.1 532.8C211.2 532.3 211 531.9 210.4 531.1C209.9 530.2 209.1 529.8 208.8 529C208.5 528.2 208.7 527.8 209.2 527.8C209.8 527.8 210.5 528.7 211.2 529C212 529.3 212.3 529.5 212.5 529.1C212.8 528.7 212.6 528.3 212.2 527.4C211.8 526.4 211 525.8 210.8 525C210.7 524.3 211 523.9 211.6 524.1C212.2 524.3 212.7 525.3 213.4 525.9C214.2 526.4 214.5 526.6 214.8 526.3C215.1 526.1 215 525.7 214.8 524.7C214.6 523.8 213.8 522.9 213.8 522.2C213.8 521.5 214.2 521.3 214.8 521.7C215.4 522 215.7 523.1 216.4 523.8C217.1 524.5 217.4 524.8 217.8 524.6C218.2 524.5 218.2 524.1 218.1 523.2C218.1 522.3 217.5 521.4 217.6 520.7C217.8 520.1 218.2 520.1 218.8 520.6C219.3 521.1 219.5 522.1 220.1 522.9C220.7 523.8 220.9 524.1 221.4 524.1C221.8 524.1 221.8 523.8 222 523C222.1 522.2 221.7 521.1 221.9 520.6C222.2 520.1 222.7 520.2 223.2 520.9C223.7 521.5 223.6 522.4 224.1 523.4C224.6 524.3 224.8 524.7 225.2 524.8C225.7 525 225.8 524.7 226.1 524C226.4 523.3 226.2 522.3 226.6 521.9C227 521.6 227.5 521.8 227.9 522.5C228.3 523.3 228 524.1 228.3 525C228.6 526 228.8 526.4 229.2 526.6C229.7 526.9 229.9 526.7 230.3 526.2C230.8 525.7 230.7 524.7 231.3 524.6C231.8 524.4 232.2 524.8 232.5 525.5C232.8 526.3 232.4 526.9 232.5 527.8C232.6 528.8 232.7 529.1 233.1 529.5C233.5 529.9 233.8 529.8 234.4 529.5C235 529.3 235.1 528.3 235.7 528.4C236.3 528.4 236.7 528.9 236.9 529.6C237 530.4 236.4 530.8 236.3 531.6C236.3 532.5 236.2 532.8 236.6 533.3C237 533.8 237.3 533.8 238 533.7C238.7 533.7 239 532.9 239.6 533.1C240.2 533.3 240.6 533.9 240.6 534.6C240.6 535.3 239.9 535.4 239.6 536.2C239.4 536.9 239.3 537.2 239.6 537.8Z" /><path class="w" d="M237.4 539C237.7 539.6 238.1 539.6 238.8 539.8C239.6 540 240.1 539.4 240.7 539.8C241.3 540.2 241.6 540.8 241.4 541.4C241.3 542 240.5 541.9 240.1 542.5C239.7 543 239.5 543.3 239.7 543.8C239.9 544.4 240.2 544.6 241 545C241.8 545.4 242.4 545.1 243 545.6C243.5 546.1 243.7 546.7 243.4 547.2C243.2 547.7 242.3 547.4 241.8 547.7C241.2 548.1 241 548.2 241.1 548.8C241.2 549.4 241.5 549.6 242.2 550.2C243 550.8 243.7 550.8 244.2 551.4C244.7 552 244.8 552.6 244.4 553C244 553.3 243.2 552.7 242.5 552.9C241.8 553 241.6 553.1 241.6 553.6C241.6 554.2 241.8 554.5 242.5 555.2C243.2 556 244 556.2 244.4 556.9C244.8 557.6 244.7 558.2 244.2 558.3C243.7 558.5 243 557.7 242.2 557.7C241.5 557.6 241.2 557.5 241.1 558C241 558.5 241.2 558.8 241.7 559.7C242.3 560.6 243.1 561 243.4 561.8C243.7 562.5 243.5 563 242.9 563C242.4 563 241.7 562 240.9 561.7C240.2 561.4 239.9 561.3 239.6 561.7C239.4 562.1 239.6 562.4 240 563.4C240.4 564.3 241.2 565 241.4 565.7C241.5 566.5 241.2 566.8 240.6 566.6C240 566.4 239.5 565.4 238.7 564.9C238 564.4 237.7 564.2 237.4 564.4C237.1 564.7 237.2 565.1 237.4 566.1C237.6 567 238.4 567.8 238.3 568.5C238.3 569.2 238 569.5 237.4 569.1C236.8 568.7 236.4 567.7 235.7 567C235 566.3 234.8 566 234.4 566.1C234 566.3 234 566.6 234.1 567.6C234.1 568.5 234.7 569.4 234.6 570C234.4 570.7 234 570.7 233.4 570.2C232.8 569.7 232.7 568.7 232.1 567.8C231.5 567 231.3 566.7 230.8 566.6C230.4 566.6 230.3 567 230.2 567.8C230.1 568.6 230.5 569.6 230.2 570.1C229.9 570.6 229.5 570.5 229 569.9C228.5 569.3 228.5 568.3 228.1 567.4C227.6 566.5 227.4 566.1 226.9 566C226.5 565.8 226.4 566.1 226 566.8C225.7 567.4 226 568.5 225.6 568.8C225.2 569.2 224.7 568.9 224.3 568.2C223.9 567.5 224.2 566.7 223.8 565.8C223.5 564.8 223.4 564.4 223 564.1C222.5 563.8 222.3 564.1 221.8 564.5C221.4 565 221.4 566 220.9 566.2C220.4 566.4 219.9 566 219.6 565.3C219.4 564.5 219.8 563.9 219.7 562.9C219.6 562 219.5 561.6 219.1 561.2C218.6 560.8 218.4 561 217.8 561.2C217.2 561.5 217.1 562.4 216.5 562.4C215.9 562.4 215.5 561.9 215.3 561.2C215.2 560.4 215.8 560 215.8 559.2C215.9 558.3 215.9 557.9 215.5 557.5C215.2 557 214.9 557 214.2 557C213.5 557.1 213.2 557.9 212.5 557.6C211.9 557.4 211.6 556.9 211.6 556.2C211.6 555.5 212.3 555.3 212.5 554.6C212.8 553.9 212.9 553.6 212.6 553C212.3 552.4 211.9 552.4 211.2 552.2C210.4 552 209.9 552.6 209.3 552.2C208.7 551.8 208.4 551.2 208.6 550.6C208.7 550 209.5 550.1 209.9 549.5C210.3 549 210.5 548.7 210.3 548.2C210.1 547.6 209.8 547.4 209 547C208.2 546.6 207.6 546.9 207 546.4C206.5 545.9 206.3 545.3 206.6 544.8C206.8 544.3 207.7 544.6 208.2 544.3C208.8 543.9 209 543.8 208.9 543.2C208.8 542.6 208.5 542.4 207.8 541.8C207 541.2 206.3 541.2 205.8 540.6C205.3 540 205.2 539.4 205.6 539C206 538.7 206.8 539.3 207.5 539.1C208.2 539 208.4 538.9 208.4 538.4C208.4 537.8 208.2 537.5 207.5 536.8C206.8 536 206 535.8 205.6 535.1C205.2 534.4 205.3 533.8 205.8 533.7C206.3 533.5 207 534.3 207.8 534.3C208.5 534.4 208.8 534.5 208.9 534C209 533.5 208.8 533.2 208.3 532.3C207.7 531.4 206.9 531 206.6 530.2C206.3 529.5 206.5 529 207.1 529C207.6 529 208.3 530 209.1 530.3C209.8 530.6 210.1 530.7 210.4 530.3C210.6 529.9 210.4 529.6 210 528.6C209.6 527.7 208.8 527 208.6 526.3C208.5 525.5 208.8 525.2 209.4 525.4C210 525.6 210.5 526.6 211.3 527.1C212 527.6 212.3 527.8 212.6 527.6C212.9 527.3 212.8 526.9 212.6 525.9C212.4 525 211.6 524.2 211.7 523.5C211.7 522.8 212 522.5 212.6 522.9C213.2 523.3 213.6 524.3 214.3 525C215 525.7 215.2 526 215.6 525.9C216 525.7 216 525.4 215.9 524.4C215.9 523.5 215.3 522.6 215.4 522C215.6 521.3 216 521.3 216.6 521.8C217.2 522.3 217.3 523.3 217.9 524.2C218.5 525 218.7 525.3 219.2 525.4C219.6 525.4 219.7 525 219.8 524.2C219.9 523.4 219.5 522.4 219.8 521.9C220.1 521.4 220.5 521.5 221 522.1C221.5 522.7 221.5 523.7 221.9 524.6C222.4 525.5 222.6 525.9 223.1 526C223.5 526.2 223.6 525.9 224 525.2C224.3 524.6 224 523.5 224.4 523.2C224.8 522.8 225.3 523.1 225.7 523.8C226.1 524.5 225.8 525.3 226.2 526.2C226.5 527.2 226.6 527.6 227 527.9C227.5 528.2 227.7 527.9 228.2 527.5C228.6 527 228.6 526 229.1 525.8C229.6 525.6 230.1 526 230.4 526.7C230.6 527.5 230.2 528.1 230.3 529.1C230.4 530 230.5 530.4 230.9 530.8C231.4 531.2 231.6 531 232.2 530.8C232.8 530.5 232.9 529.6 233.5 529.6C234.1 529.6 234.5 530.1 234.7 530.8C234.8 531.6 234.2 532 234.2 532.8C234.1 533.7 234.1 534.1 234.5 534.5C234.8 535 235.1 535 235.8 535C236.5 534.9 236.8 534.1 237.5 534.4C238.1 534.6 238.4 535.1 238.4 535.8C238.4 536.5 237.7 536.7 237.5 537.4C237.2 538.1 237.1 538.4 237.4 539Z" /><ellipse class="t" cx="225.5" cy="545.8" rx="9.3" ry="14.6" transform="rotate(-29.4 225.5 545.8)" /><ellipse class="w" cx="224" cy="546.6" rx="8.7" ry="13.6" transform="rotate(-29.4 224 546.6)" /><path d="M228.5 559.7L230.7 558.4L217.3 534.8L215.1 536Z" fill="#fff" stroke="none"/><path class="l" d="M228.5 559.7L230.7 558.4"/><path class="l" d="M215.1 536L217.3 534.8"/><ellipse class="w" cx="221.8" cy="547.8" rx="8.7" ry="13.6" transform="rotate(-29.4 221.8 547.8)" /><ellipse class="l" cx="221.8" cy="547.8" rx="8.1" ry="12.6" transform="rotate(-29.4 221.8 547.8)" style="stroke-width:1.6"/><ellipse class="l" cx="222.2" cy="547.6" rx="6" ry="9.4" transform="rotate(-29.4 222.2 547.6)" /><path class="t" d="M227.9 554.4L227.3 554.5L226.5 554.5L225.8 554.4L225 554.2L224.3 553.9L223.5 553.4L222.8 552.9L222 552.3L221.3 551.6L220.7 550.8L220.1 550L219.5 549.1L219.1 548.2L218.7 547.3L218.3 546.3L218.1 545.3L218 544.4L217.9 543.5L217.9 542.6L218.1 541.8L218.3 541L218.6 540.3L218.9 539.7L219.4 539.2"/><path class="t" d="M229.1 552.9L228.5 552.9L227.8 552.8L227.2 552.6L226.5 552.3L225.9 552L225.2 551.6L224.6 551.1L224 550.5L223.4 549.9L222.9 549.2L222.4 548.5L221.9 547.8L221.5 547L221.2 546.2L220.9 545.4L220.7 544.6L220.5 543.8L220.4 543L220.4 542.2L220.4 541.5L220.5 540.8L220.7 540.1L220.9 539.5L221.2 539"/><ellipse class="w" cx="201.9" cy="558.3" rx="6.6" ry="10.3" transform="rotate(-29.4 201.9 558.3)" /><path d="M198.7 572L206.9 567.3L196.8 549.4L188.5 554Z" fill="#fff" stroke="none"/><path class="l" d="M198.7 572L206.9 567.3"/><path class="l" d="M188.5 554L196.8 549.4"/><ellipse class="w" cx="193.6" cy="563" rx="6.6" ry="10.3" transform="rotate(-29.4 193.6 563)" /><ellipse class="l" cx="193.6" cy="563" rx="5.6" ry="8.7" transform="rotate(-29.4 193.6 563)" /><path class="t" d="M196.2 571.1L201.1 568.3M194.4 570.8L199.4 568M192.6 570L197.6 567.2M190.9 568.6L195.9 565.8M189.4 566.8L194.4 564M188.2 564.7L193.2 561.9M187.4 562.4L192.4 559.6M187.1 560.2L192.1 557.4M187.3 558.2L192.3 555.4M188 556.6L193 553.8"/><path class="t" d="M190.1 553.5L198.4 548.8M192.9 553.8L201.2 549.2M195.7 555.5L204 550.8M198.3 558.1L206.6 553.5M200.2 561.5L208.5 556.8M201.2 565.1L209.4 560.4M201.1 568.4L209.3 563.7M199.9 570.9L208.2 566.2"/><ellipse class="w" cx="175.8" cy="573.4" rx="7.9" ry="12.4" transform="rotate(-29.4 175.8 573.4)" /><ellipse class="w" cx="175" cy="573.9" rx="7.9" ry="12.4" transform="rotate(-29.4 175 573.9)" /><ellipse class="l" cx="175" cy="573.9" rx="4" ry="6.2" transform="rotate(-29.4 175 573.9)" /><ellipse class="w" cx="152.4" cy="585.8" rx="11" ry="17.8" transform="rotate(-29.4 152.4 585.8)" /><path d="M156.7 603.8L161.1 601.4L143.6 570.3L139.3 572.8Z" fill="#fff" stroke="none"/><path class="l" d="M156.7 603.8L161.1 601.4"/><path class="l" d="M139.3 572.8L143.6 570.3"/><ellipse class="w" cx="148" cy="588.3" rx="11" ry="17.8" transform="rotate(-29.4 148 588.3)" /><ellipse class="t" cx="148" cy="588.3" rx="9.9" ry="16" transform="rotate(-29.4 148 588.3)" /><ellipse class="t" cx="148" cy="588.3" rx="8.1" ry="13" transform="rotate(-29.4 148 588.3)" /><ellipse class="t" cx="148" cy="588.3" rx="6.2" ry="10" transform="rotate(-29.4 148 588.3)" /><ellipse class="t" cx="148" cy="588.3" rx="4.5" ry="7.2" transform="rotate(-29.4 148 588.3)" /><ellipse class="l" cx="148" cy="588.3" rx="2.9" ry="4.6" transform="rotate(-29.4 148 588.3)" /><path class="t" d="M151.1 591.4L150.8 591.5L150.5 591.5L150.1 591.4L149.7 591.3L149.4 591.1L149 590.9L148.6 590.7L148.3 590.4L148 590L147.6 589.6L147.4 589.2L147.1 588.8L146.9 588.4L146.7 587.9L146.5 587.4L146.4 587L146.3 586.5L146.3 586.1L146.3 585.7L146.3 585.3L146.4 584.9L146.6 584.6L146.8 584.3L147 584"/>
<ellipse class="w" cx="690.2" cy="465.8" rx="9.9" ry="16" transform="rotate(-29.4 690.2 465.8)" /><path d="M695.9 480.9L698 479.7L682.3 451.8L680.1 453.1Z" fill="#fff" stroke="none"/><path class="l" d="M695.9 480.9L698 479.7"/><path class="l" d="M680.1 453.1L682.3 451.8"/><ellipse class="w" cx="688" cy="467" rx="9.9" ry="16" transform="rotate(-29.4 688 467)" /><ellipse class="t" cx="688" cy="467" rx="8.8" ry="14.2" transform="rotate(-29.4 688 467)" /><ellipse class="t" cx="688" cy="467" rx="7.9" ry="12.8" transform="rotate(-29.4 688 467)" /><ellipse class="t" cx="688" cy="467" rx="5.9" ry="9.5" transform="rotate(-29.4 688 467)" /><ellipse class="l" cx="688" cy="467" rx="4.5" ry="7.2" transform="rotate(-29.4 688 467)" /><path class="t" d="M692.9 471.8L692.4 471.9L691.8 471.9L691.3 471.8L690.7 471.7L690.2 471.4L689.6 471.1L689 470.7L688.5 470.2L687.9 469.7L687.4 469.1L687 468.5L686.6 467.8L686.2 467.1L685.9 466.4L685.7 465.7L685.5 464.9L685.4 464.2L685.3 463.5L685.3 462.9L685.4 462.2L685.6 461.7L685.8 461.2L686.1 460.7L686.4 460.3"/><ellipse class="w" cx="663.8" cy="479.6" rx="11" ry="17.8" transform="rotate(-29.4 663.8 479.6)" /><path d="M667.7 497.8L672.5 495.1L655.1 464.1L650.3 466.8Z" fill="#fff" stroke="none"/><path class="l" d="M667.7 497.8L672.5 495.1"/><path class="l" d="M650.3 466.8L655.1 464.1"/><ellipse class="w" cx="659" cy="482.3" rx="11" ry="17.8" transform="rotate(-29.4 659 482.3)" /><ellipse class="t" cx="659" cy="482.3" rx="9.8" ry="15.8" transform="rotate(-29.4 659 482.3)" /><ellipse class="t" cx="659" cy="482.3" rx="9.1" ry="14.6" transform="rotate(-29.4 659 482.3)" /><ellipse class="l" cx="659" cy="482.3" rx="6.7" ry="10.8" transform="rotate(-29.4 659 482.3)" /><path class="t" d="M666.3 489.6L665.6 489.7L664.8 489.7L663.9 489.6L663.1 489.3L662.2 488.9L661.4 488.5L660.5 487.8L659.7 487.1L658.9 486.3L658.2 485.5L657.5 484.5L656.9 483.5L656.3 482.5L655.9 481.4L655.5 480.3L655.2 479.2L655 478.1L655 477.1L655 476.1L655.1 475.2L655.3 474.3L655.7 473.5L656.1 472.9L656.6 472.3"/><path class="w" d="M618.2 483.2L617.1 486.3L613.9 485.5L611.8 481.6L612.9 478.5L616.1 479.3Z"/><ellipse class="w" cx="611.9" cy="484.1" rx="3" ry="4.6" transform="rotate(-28.7 611.9 484.1)" /><path d="M612.8 488.9L614.1 488.1L609.7 480L608.4 480.7Z" fill="#fff" stroke="none"/><path class="l" d="M612.8 488.9L614.1 488.1"/><path class="l" d="M608.4 480.7L609.7 480"/><ellipse class="w" cx="610.6" cy="484.8" rx="3" ry="4.6" transform="rotate(-28.7 610.6 484.8)" /><path d="M613.8 488.1L617.1 486.3L613.9 485.5L611.8 481.6L612.9 478.5L609.6 480.4Z" fill="#fff" stroke="none"/><path class="t" d="M613.8 488.1L617.1 486.3M610.6 487.3L613.9 485.5M608.5 483.5L611.8 481.6M609.6 480.4L612.9 478.5"/><path class="l" d="M618.2 483.2L617.1 486.3L613.9 485.5L611.8 481.6L612.9 478.5L616.1 479.3Z"/><ellipse class="w" cx="610.6" cy="484.8" rx="1.5" ry="2.4" transform="rotate(-28.7 610.6 484.8)" /><path d="M582.2 503.1L611.8 486.9L609.5 482.7L579.8 498.9Z" fill="#fff" stroke="none"/><path class="l" d="M582.2 503.1L611.8 486.9"/><path class="l" d="M579.8 498.9L609.5 482.7"/><ellipse class="w" cx="581" cy="501" rx="1.5" ry="2.4" transform="rotate(-28.7 581 501)" /><path class="t" d="M593.2 491.6L593.4 491.5L593.6 491.5L593.8 491.5L594 491.5L594.2 491.6L594.5 491.7L594.7 491.8L594.9 492L595.1 492.2L595.3 492.5L595.5 492.7L595.7 493L595.8 493.3L595.9 493.5L596 493.8L596.1 494.1L596.1 494.4L596.1 494.7L596.1 494.9L596 495.2L595.9 495.4L595.8 495.6L595.6 495.7L595.5 495.8"/><path class="w" d="M634.2 487.7L633.1 490.8L629.9 490.1L627.8 486.3L628.9 483.2L632.1 483.9Z"/><ellipse class="w" cx="627.9" cy="488.7" rx="3" ry="4.6" transform="rotate(-29.2 627.9 488.7)" /><path d="M628.9 493.5L630.2 492.7L625.7 484.7L624.4 485.4Z" fill="#fff" stroke="none"/><path class="l" d="M628.9 493.5L630.2 492.7"/><path class="l" d="M624.4 485.4L625.7 484.7"/><ellipse class="w" cx="626.6" cy="489.4" rx="3" ry="4.6" transform="rotate(-29.2 626.6 489.4)" /><path d="M629.8 492.7L633.1 490.8L629.9 490.1L627.8 486.3L628.9 483.2L625.5 485Z" fill="#fff" stroke="none"/><path class="t" d="M629.8 492.7L633.1 490.8M626.6 492L629.9 490.1M624.5 488.1L627.8 486.3M625.5 485L628.9 483.2"/><path class="l" d="M634.2 487.7L633.1 490.8L629.9 490.1L627.8 486.3L628.9 483.2L632.1 483.9Z"/><ellipse class="w" cx="626.6" cy="489.4" rx="1.5" ry="2.4" transform="rotate(-29.2 626.6 489.4)" /><path d="M598.2 508.1L627.8 491.5L625.5 487.3L595.8 503.9Z" fill="#fff" stroke="none"/><path class="l" d="M598.2 508.1L627.8 491.5"/><path class="l" d="M595.8 503.9L625.5 487.3"/><ellipse class="w" cx="597" cy="506" rx="1.5" ry="2.4" transform="rotate(-29.2 597 506)" /><path class="t" d="M609.2 496.5L609.4 496.4L609.6 496.3L609.8 496.3L610 496.4L610.2 496.4L610.5 496.5L610.7 496.7L610.9 496.9L611.1 497.1L611.3 497.3L611.5 497.5L611.7 497.8L611.8 498.1L611.9 498.4L612 498.7L612.1 498.9L612.1 499.2L612.1 499.5L612.1 499.8L612 500L611.9 500.2L611.8 500.4L611.7 500.5L611.5 500.6"/><path class="w" d="M617.2 515.8L616.1 518.9L612.9 518.1L610.8 514.2L611.9 511.1L615.1 511.9Z"/><ellipse class="w" cx="610.9" cy="516.6" rx="3" ry="4.6" transform="rotate(-27.9 610.9 516.6)" /><path d="M611.7 521.4L613.1 520.7L608.7 512.6L607.4 513.3Z" fill="#fff" stroke="none"/><path class="l" d="M611.7 521.4L613.1 520.7"/><path class="l" d="M607.4 513.3L608.7 512.6"/><ellipse class="w" cx="609.6" cy="517.3" rx="3" ry="4.6" transform="rotate(-27.9 609.6 517.3)" /><path d="M612.7 520.7L616.1 518.9L612.9 518.1L610.8 514.2L611.9 511.1L608.6 512.9Z" fill="#fff" stroke="none"/><path class="t" d="M612.7 520.7L616.1 518.9M609.5 519.9L612.9 518.1M607.5 516L610.8 514.2M608.6 512.9L611.9 511.1"/><path class="l" d="M617.2 515.8L616.1 518.9L612.9 518.1L610.8 514.2L611.9 511.1L615.1 511.9Z"/><ellipse class="w" cx="609.6" cy="517.3" rx="1.5" ry="2.4" transform="rotate(-27.9 609.6 517.3)" /><path d="M581.1 535.1L610.7 519.5L608.5 515.2L578.9 530.9Z" fill="#fff" stroke="none"/><path class="l" d="M581.1 535.1L610.7 519.5"/><path class="l" d="M578.9 530.9L608.5 515.2"/><ellipse class="w" cx="580" cy="533" rx="1.5" ry="2.4" transform="rotate(-27.9 580 533)" /><path class="t" d="M592.2 523.8L592.4 523.8L592.6 523.7L592.8 523.7L593 523.8L593.2 523.8L593.5 523.9L593.7 524.1L593.9 524.3L594.1 524.5L594.3 524.7L594.5 525L594.7 525.2L594.8 525.5L594.9 525.8L595 526.1L595 526.4L595.1 526.7L595.1 526.9L595 527.2L595 527.4L594.9 527.6L594.7 527.8L594.6 528L594.4 528.1"/><path class="w" d="M633.2 519.7L632.1 522.8L628.9 522.1L626.8 518.3L627.9 515.2L631.1 515.9Z"/><ellipse class="w" cx="626.9" cy="520.7" rx="3" ry="4.6" transform="rotate(-29.2 626.9 520.7)" /><path d="M627.9 525.5L629.2 524.7L624.7 516.7L623.4 517.4Z" fill="#fff" stroke="none"/><path class="l" d="M627.9 525.5L629.2 524.7"/><path class="l" d="M623.4 517.4L624.7 516.7"/><ellipse class="w" cx="625.6" cy="521.4" rx="3" ry="4.6" transform="rotate(-29.2 625.6 521.4)" /><path d="M628.8 524.7L632.1 522.8L628.9 522.1L626.8 518.3L627.9 515.2L624.5 517Z" fill="#fff" stroke="none"/><path class="t" d="M628.8 524.7L632.1 522.8M625.6 524L628.9 522.1M623.5 520.1L626.8 518.3M624.5 517L627.9 515.2"/><path class="l" d="M633.2 519.7L632.1 522.8L628.9 522.1L626.8 518.3L627.9 515.2L631.1 515.9Z"/><ellipse class="w" cx="625.6" cy="521.4" rx="1.5" ry="2.4" transform="rotate(-29.2 625.6 521.4)" /><path d="M597.2 540.1L626.8 523.5L624.5 519.3L594.8 535.9Z" fill="#fff" stroke="none"/><path class="l" d="M597.2 540.1L626.8 523.5"/><path class="l" d="M594.8 535.9L624.5 519.3"/><ellipse class="w" cx="596" cy="538" rx="1.5" ry="2.4" transform="rotate(-29.2 596 538)" /><path class="t" d="M608.2 528.5L608.4 528.4L608.6 528.3L608.8 528.3L609 528.4L609.2 528.4L609.5 528.5L609.7 528.7L609.9 528.9L610.1 529.1L610.3 529.3L610.5 529.5L610.7 529.8L610.8 530.1L610.9 530.4L611 530.7L611.1 530.9L611.1 531.2L611.1 531.5L611.1 531.8L611 532L610.9 532.2L610.8 532.4L610.7 532.5L610.5 532.6"/><ellipse class="w" cx="570.9" cy="506.5" rx="2.7" ry="4.2" transform="rotate(-29.4 570.9 506.5)" /><path d="M572.1 510.7L572.9 510.2L568.8 502.8L567.9 503.3Z" fill="#fff" stroke="none"/><path class="l" d="M572.1 510.7L572.9 510.2"/><path class="l" d="M567.9 503.3L568.8 502.8"/><ellipse class="w" cx="570" cy="507" rx="2.7" ry="4.2" transform="rotate(-29.4 570 507)" /><ellipse class="l" cx="570" cy="507" rx="1.4" ry="2.2" transform="rotate(-29.4 570 507)" /><ellipse class="w" cx="586.9" cy="511.5" rx="2.7" ry="4.2" transform="rotate(-29.4 586.9 511.5)" /><path d="M588.1 515.7L588.9 515.2L584.8 507.8L583.9 508.3Z" fill="#fff" stroke="none"/><path class="l" d="M588.1 515.7L588.9 515.2"/><path class="l" d="M583.9 508.3L584.8 507.8"/><ellipse class="w" cx="586" cy="512" rx="2.7" ry="4.2" transform="rotate(-29.4 586 512)" /><ellipse class="l" cx="586" cy="512" rx="1.4" ry="2.2" transform="rotate(-29.4 586 512)" /><ellipse class="w" cx="571.9" cy="537.5" rx="2.7" ry="4.2" transform="rotate(-29.4 571.9 537.5)" /><path d="M573.1 541.7L573.9 541.2L569.8 533.8L568.9 534.3Z" fill="#fff" stroke="none"/><path class="l" d="M573.1 541.7L573.9 541.2"/><path class="l" d="M568.9 534.3L569.8 533.8"/><ellipse class="w" cx="571" cy="538" rx="2.7" ry="4.2" transform="rotate(-29.4 571 538)" /><ellipse class="l" cx="571" cy="538" rx="1.4" ry="2.2" transform="rotate(-29.4 571 538)" /><ellipse class="w" cx="587.9" cy="542.5" rx="2.7" ry="4.2" transform="rotate(-29.4 587.9 542.5)" /><path d="M589.1 546.7L589.9 546.2L585.8 538.8L584.9 539.3Z" fill="#fff" stroke="none"/><path class="l" d="M589.1 546.7L589.9 546.2"/><path class="l" d="M584.9 539.3L585.8 538.8"/><ellipse class="w" cx="587" cy="543" rx="2.7" ry="4.2" transform="rotate(-29.4 587 543)" /><ellipse class="l" cx="587" cy="543" rx="1.4" ry="2.2" transform="rotate(-29.4 587 543)" /><path class="w" d="M559.1 536.2L560.8 535.8L561.3 536.7L560 537.8L560.4 538.7L562.2 538.4L562.6 539.4L561.3 540.3L561.7 541.2L563.5 541.1L563.9 542.1L562.4 542.9L562.8 543.8L564.6 543.9L565 544.9L563.5 545.5L563.8 546.4L565.7 546.7L566 547.6L564.4 548.1L564.7 549.1L566.6 549.4L566.9 550.4L565.2 550.8L565.4 551.7L567.3 552.2L567.6 553.2L565.8 553.4L566 554.3L568 555L568.2 556L566.4 556L566.5 556.9L568.5 557.8L568.6 558.7L566.8 558.6L566.9 559.5L568.8 560.5L568.9 561.4L567 561.1L567.1 562L569 563.2L569.1 564.1L567.1 563.6L567.1 564.5L569.1 565.8L569.1 566.7L567.1 566.1L567.1 566.9L569 568.3L568.9 569.2L567 568.5L566.9 569.3L568.7 570.8L568.6 571.6L566.7 570.7L566.5 571.5L568.4 573.2L568.2 574L566.2 572.9L566.1 573.7L567.8 575.5L567.6 576.2L565.7 575L565.5 575.8L567.2 577.6L566.9 578.4L565 577L564.7 577.7L566.4 579.7L566.1 580.4L564.2 578.9L563.8 579.5L565.4 581.6L565.1 582.2L563.2 580.7L562.9 581.2L564.4 583.4L564 584L562.1 582.3L561.7 582.8L563.2 585L562.7 585.6L561 583.8L560.5 584.3L561.9 586.5L561.4 587L559.7 585.1L559.2 585.5L560.4 587.9L559.9 588.3L558.3 586.3L557.7 586.7L558.9 589L558.3 589.4L556.8 587.3L556.2 587.6L557.2 590L556.6 590.4L555.2 588.2L554.6 588.4L555.5 590.9L554.9 591.1L553.5 588.9L552.9 589.1L553.7 591.5L553 591.7L551.7 589.4L551.1 589.6L551.8 592L551.1 592.1L549.9 589.8L549.2 589.9L549.8 592.3L549.1 592.4L548 590L547.3 590L547.7 592.4L547 592.4L546 590L545.3 590L545.6 592.4L544.9 592.3L544 589.9L543.3 589.8L543.5 592.1L542.7 592L542 589.5L541.3 589.4L541.3 591.7L540.5 591.5L539.9 589.1L539.2 588.8L539.1 591.1L538.3 590.8L537.8 588.4L537.1 588.1L536.9 590.3L536.1 590L535.7 587.6L535 587.2L534.6 589.3L533.9 589L533.6 586.6L532.9 586.2L532.4 588.2L531.6 587.8L531.5 585.4L530.8 585L530.2 586.9L529.4 586.4L529.4 584.2L528.7 583.7L528 585.5L527.2 584.9L527.3 582.7L526.6 582.2L525.8 583.9L525 583.3L525.3 581.1L524.6 580.5L523.7 582.1L522.9 581.5L523.3 579.4L522.6 578.8L521.6 580.2L520.9 579.5L521.4 577.6L520.7 576.9L519.6 578.2L518.9 577.5L519.5 575.6L518.8 574.9L517.6 576.1L516.9 575.3L517.7 573.5L517 572.8L515.7 573.8L515.1 573L515.9 571.4L515.3 570.6L513.9 571.5L513.3 570.6L514.3 569.1L513.7 568.3L512.2 569L511.6 568.1L512.7 566.7L512.2 565.9L510.6 566.5L510 565.6L511.2 564.3L510.7 563.5L509 563.9L508.5 563L509.8 561.8L509.4 561L507.6 561.2L507.2 560.3L508.6 559.3L508.1 558.4L506.3 558.5L505.9 557.6L507.4 556.7L507 555.8L505.2 555.8L504.8 554.8L506.4 554.1L506 553.2L504.1 553L503.8 552L505.4 551.5L505.1 550.6L503.2 550.2L502.9 549.2L504.6 548.9L504.4 548L502.5 547.4L502.2 546.5L504 546.2L503.8 545.3L501.8 544.6L501.6 543.7L503.4 543.6L503.3 542.7L501.3 541.9L501.2 540.9L503.1 541.1L502.9 540.2L501 539.2L500.9 538.2L502.8 538.5L502.7 537.6L500.8 536.5L500.8 535.6L502.7 536L502.7 535.1L500.7 533.9L500.7 533L502.7 533.6L502.7 532.7L500.8 531.3L500.9 530.5L502.8 531.2L502.9 530.4L501.1 528.9L501.2 528L503.1 528.9L503.3 528.1L501.4 526.5L501.6 525.7L503.6 526.7L503.7 526L502 524.2L502.2 523.4L504.1 524.6L504.4 523.9L502.6 522L502.9 521.3L504.8 522.6L505.1 521.9L503.4 520L503.8 519.3L505.6 520.7L506 520.1L504.4 518.1L504.7 517.4L506.6 519L507 518.4L505.4 516.3L505.9 515.7L507.7 517.4L508.1 516.8L506.6 514.6L507.1 514.1L508.8 515.9L509.3 515.4L508 513.1L508.4 512.6L510.1 514.6L510.6 514.1L509.4 511.8L509.9 511.4L511.5 513.4L512.1 513L510.9 510.6L511.5 510.2L513.1 512.3L513.6 512L512.6 509.6L513.2 509.3L514.6 511.5L515.2 511.2L514.3 508.8L514.9 508.5L516.3 510.8L516.9 510.6L516.1 508.1L516.8 507.9L518.1 510.2L518.7 510.1L518.1 507.6L518.7 507.5L519.9 509.9L520.6 509.8L520 507.3L520.7 507.3L521.8 509.7L522.5 509.6L522.1 507.2L522.8 507.2L523.8 509.6L524.5 509.7L524.2 507.3L524.9 507.4L525.8 509.8L526.5 509.9L526.3 507.5L527.1 507.7L527.8 510.1L528.6 510.3L528.5 508L529.3 508.2L529.9 510.6L530.6 510.8L530.7 508.6L531.5 508.8L532 511.3L532.7 511.5L532.9 509.4L533.7 509.7L534.1 512.1L534.8 512.4L535.2 510.3L536 510.7L536.2 513.1L537 513.4L537.4 511.4L538.2 511.9L538.3 514.2L539.1 514.6L539.6 512.7L540.4 513.2L540.4 515.5L541.1 516L541.8 514.2L542.6 514.7L542.5 516.9L543.2 517.5L544 515.8L544.8 516.4L544.5 518.5L545.2 519.1L546.1 517.5L546.9 518.2L546.5 520.2L547.2 520.9L548.2 519.4L548.9 520.1L548.4 522.1L549.1 522.8L550.3 521.4L551 522.2L550.3 524L551 524.8L552.2 523.6L552.9 524.4L552.1 526.1L552.8 526.9L554.1 525.8L554.8 526.7L553.9 528.3L554.5 529.1L555.9 528.2L556.5 529L555.6 530.6L556.1 531.4L557.6 530.6L558.2 531.5L557.1 532.9L557.7 533.7L559.3 533.2L559.8 534.1L558.6 535.3Z"/><path d="M550.1 594.1L557.5 589.9L512.3 509.8L504.9 513.9Z" fill="#fff" stroke="none"/><path class="t" d="M553.4 539.9L560.8 535.8M553.9 540.9L561.3 536.7M554.8 542.6L562.2 538.4M555.2 543.5L562.6 539.4M556.1 545.3L563.5 541.1M556.5 546.3L563.9 542.1M557.2 548.1L564.6 543.9M557.6 549L565 544.9M558.3 550.8L565.7 546.7M558.6 551.8L566 547.6M559.2 553.6L566.6 549.4M559.5 554.6L566.9 550.4M559.9 556.4L567.3 552.2M560.2 557.4L567.6 553.2M560.6 559.2L568 555M560.8 560.1L568.2 556M561.1 561.9L568.5 557.8M561.2 562.9L568.6 558.7M561.4 564.7L568.8 560.5M561.5 565.6L568.9 561.4M561.6 567.3L569 563.2M561.7 568.3L569.1 564.1M561.7 569.9L569.1 565.8M561.7 570.8L569.1 566.7M561.6 572.5L569 568.3M561.5 573.4L568.9 569.2M561.3 575L568.7 570.8M561.2 575.8L568.6 571.6M561 577.3L568.4 573.2M560.8 578.2L568.2 574M560.4 579.6L567.8 575.5M560.2 580.4L567.6 576.2M559.8 581.8L567.2 577.6M559.5 582.5L566.9 578.4M559 583.9L566.4 579.7M558.7 584.5L566.1 580.4M558 585.8L565.4 581.6M557.7 586.4L565.1 582.2M557 587.6L564.4 583.4M556.6 588.2L564 584M555.8 589.2L563.2 585M555.3 589.7L562.7 585.6M554.4 590.7L561.9 586.5M554 591.2L561.4 587M553 592L560.4 587.9M552.5 592.5L559.9 588.3M551.5 593.2L558.9 589M550.9 593.6L558.3 589.4M549.8 594.2L557.2 590M549.2 594.5L556.6 590.4M548.1 595L555.5 590.9M547.5 595.3L554.9 591.1M502.5 515.5L509.9 511.4M503.5 514.8L510.9 510.6M504.1 514.4L511.5 510.2M505.2 513.8L512.6 509.6M505.8 513.5L513.2 509.3M506.9 513L514.3 508.8M507.5 512.7L514.9 508.5M508.7 512.3L516.1 508.1M509.4 512.1L516.8 507.9M510.6 511.8L518.1 507.6M511.3 511.7L518.7 507.5M512.6 511.5L520 507.3M513.3 511.5L520.7 507.3M514.7 511.4L522.1 507.2M515.4 511.4L522.8 507.2M516.8 511.5L524.2 507.3M517.5 511.5L524.9 507.4M518.9 511.7L526.3 507.5M519.7 511.8L527.1 507.7M521.1 512.1L528.5 508M521.9 512.3L529.3 508.2M523.3 512.8L530.7 508.6M524.1 513L531.5 508.8M525.5 513.5L532.9 509.4M526.3 513.9L533.7 509.7M527.8 514.5L535.2 510.3M528.6 514.9L536 510.7M530 515.6L537.4 511.4M530.8 516.1L538.2 511.9M532.2 516.9L539.6 512.7M533 517.4L540.4 513.2M534.4 518.4L541.8 514.2M535.2 518.9L542.6 514.7M536.6 520L544 515.8M537.4 520.6L544.8 516.4M538.7 521.7L546.1 517.5M539.5 522.4L546.9 518.2M540.8 523.6L548.2 519.4M541.5 524.3L548.9 520.1M542.9 525.6L550.3 521.4M543.6 526.4L551 522.2M544.8 527.8L552.2 523.6M545.5 528.5L552.9 524.4M546.7 530L554.1 525.8M547.4 530.8L554.8 526.7M548.5 532.4L555.9 528.2M549.1 533.2L556.5 529M550.2 534.8L557.6 530.6M550.8 535.7L558.2 531.5M551.9 537.3L559.3 533.2M552.4 538.2L559.8 534.1"/><path class="w" d="M551.7 540.4L553.4 539.9L553.9 540.9L552.6 542L553 542.9L554.8 542.6L555.2 543.5L553.9 544.5L554.3 545.4L556.1 545.3L556.5 546.3L555 547.1L555.4 548L557.2 548.1L557.6 549L556.1 549.7L556.4 550.6L558.3 550.8L558.6 551.8L557 552.3L557.3 553.2L559.2 553.6L559.5 554.6L557.8 555L558 555.9L559.9 556.4L560.2 557.4L558.4 557.6L558.6 558.5L560.6 559.2L560.8 560.1L559 560.2L559.1 561.1L561.1 561.9L561.2 562.9L559.4 562.8L559.5 563.7L561.4 564.7L561.5 565.6L559.6 565.3L559.7 566.2L561.6 567.3L561.7 568.3L559.7 567.8L559.7 568.7L561.7 569.9L561.7 570.8L559.7 570.3L559.7 571.1L561.6 572.5L561.5 573.4L559.6 572.6L559.5 573.4L561.3 575L561.2 575.8L559.3 574.9L559.1 575.7L561 577.3L560.8 578.2L558.8 577.1L558.7 577.9L560.4 579.6L560.2 580.4L558.3 579.2L558.1 579.9L559.8 581.8L559.5 582.5L557.6 581.2L557.3 581.9L559 583.9L558.7 584.5L556.8 583.1L556.4 583.7L558 585.8L557.7 586.4L555.8 584.8L555.5 585.4L557 587.6L556.6 588.2L554.7 586.5L554.3 587L555.8 589.2L555.3 589.7L553.6 587.9L553.1 588.4L554.4 590.7L554 591.2L552.3 589.3L551.8 589.7L553 592L552.5 592.5L550.9 590.5L550.3 590.8L551.5 593.2L550.9 593.6L549.4 591.5L548.8 591.8L549.8 594.2L549.2 594.5L547.8 592.4L547.2 592.6L548.1 595L547.5 595.3L546.1 593.1L545.5 593.3L546.3 595.7L545.6 595.9L544.3 593.6L543.7 593.7L544.4 596.2L543.7 596.3L542.5 594L541.8 594.1L542.4 596.5L541.7 596.5L540.6 594.2L539.9 594.2L540.3 596.6L539.6 596.6L538.6 594.2L537.9 594.2L538.2 596.5L537.5 596.5L536.6 594L535.9 593.9L536.1 596.3L535.3 596.2L534.6 593.7L533.9 593.6L533.9 595.9L533.1 595.7L532.5 593.2L531.8 593L531.7 595.2L530.9 595L530.4 592.6L529.7 592.3L529.5 594.5L528.7 594.1L528.3 591.7L527.6 591.4L527.2 593.5L526.4 593.1L526.2 590.8L525.5 590.4L525 592.4L524.2 591.9L524.1 589.6L523.4 589.2L522.8 591.1L522 590.6L522 588.3L521.3 587.8L520.6 589.6L519.8 589.1L519.9 586.9L519.2 586.3L518.4 588L517.6 587.4L517.9 585.3L517.2 584.7L516.3 586.3L515.5 585.6L515.9 583.6L515.2 583L514.2 584.4L513.5 583.7L514 581.7L513.3 581.1L512.1 582.4L511.4 581.6L512.1 579.8L511.4 579.1L510.2 580.2L509.5 579.5L510.3 577.7L509.6 577L508.3 578L507.6 577.2L508.5 575.5L507.9 574.7L506.5 575.6L505.9 574.8L506.9 573.3L506.3 572.5L504.8 573.2L504.2 572.3L505.3 570.9L504.7 570.1L503.1 570.7L502.6 569.8L503.8 568.5L503.3 567.6L501.6 568.1L501.1 567.1L502.4 566L502 565.1L500.2 565.4L499.8 564.5L501.1 563.5L500.7 562.6L498.9 562.7L498.5 561.7L500 560.9L499.6 560L497.8 559.9L497.4 559L498.9 558.3L498.6 557.4L496.7 557.2L496.4 556.2L498 555.7L497.7 554.8L495.8 554.4L495.5 553.4L497.2 553L497 552.1L495.1 551.6L494.8 550.6L496.6 550.4L496.4 549.5L494.4 548.8L494.2 547.9L496 547.8L495.9 546.9L493.9 546.1L493.8 545.1L495.6 545.2L495.5 544.3L493.6 543.3L493.5 542.4L495.4 542.7L495.3 541.8L493.4 540.7L493.3 539.7L495.3 540.2L495.3 539.3L493.3 538.1L493.3 537.2L495.3 537.7L495.3 536.9L493.4 535.5L493.5 534.6L495.4 535.4L495.5 534.6L493.7 533L493.8 532.2L495.7 533.1L495.9 532.3L494 530.7L494.2 529.8L496.2 530.9L496.3 530.1L494.6 528.4L494.8 527.6L496.7 528.8L496.9 528.1L495.2 526.2L495.5 525.5L497.4 526.8L497.7 526.1L496 524.1L496.3 523.5L498.2 524.9L498.6 524.3L497 522.2L497.3 521.6L499.2 523.2L499.5 522.6L498 520.4L498.4 519.8L500.3 521.5L500.7 521L499.2 518.8L499.7 518.3L501.4 520.1L501.9 519.6L500.6 517.3L501 516.8L502.7 518.7L503.2 518.3L502 516L502.5 515.5L504.1 517.5L504.7 517.2L503.5 514.8L504.1 514.4L505.6 516.5L506.2 516.2L505.2 513.8L505.8 513.5L507.2 515.6L507.8 515.4L506.9 513L507.5 512.7L508.9 514.9L509.5 514.7L508.7 512.3L509.4 512.1L510.7 514.4L511.3 514.3L510.6 511.8L511.3 511.7L512.5 514L513.2 513.9L512.6 511.5L513.3 511.5L514.4 513.8L515.1 513.8L514.7 511.4L515.4 511.4L516.4 513.8L517.1 513.8L516.8 511.5L517.5 511.5L518.4 514L519.1 514.1L518.9 511.7L519.7 511.8L520.4 514.3L521.1 514.4L521.1 512.1L521.9 512.3L522.5 514.8L523.2 515L523.3 512.8L524.1 513L524.6 515.4L525.3 515.7L525.5 513.5L526.3 513.9L526.7 516.3L527.4 516.6L527.8 514.5L528.6 514.9L528.8 517.2L529.5 517.6L530 515.6L530.8 516.1L530.9 518.4L531.6 518.8L532.2 516.9L533 517.4L533 519.7L533.7 520.2L534.4 518.4L535.2 518.9L535.1 521.1L535.8 521.7L536.6 520L537.4 520.6L537.1 522.7L537.8 523.3L538.7 521.7L539.5 522.4L539.1 524.4L539.8 525L540.8 523.6L541.5 524.3L541 526.3L541.7 526.9L542.9 525.6L543.6 526.4L542.9 528.2L543.6 528.9L544.8 527.8L545.5 528.5L544.7 530.3L545.4 531L546.7 530L547.4 530.8L546.5 532.5L547.1 533.3L548.5 532.4L549.1 533.2L548.1 534.7L548.7 535.5L550.2 534.8L550.8 535.7L549.7 537.1L550.3 537.9L551.9 537.3L552.4 538.2L551.2 539.5Z"/><ellipse class="t" cx="527.5" cy="554" rx="26.6" ry="41.6" transform="rotate(-29.4 527.5 554)" /><ellipse class="t" cx="527.5" cy="554" rx="25.7" ry="40.2" transform="rotate(-29.4 527.5 554)" /><ellipse class="t" cx="527.5" cy="554" rx="19.8" ry="31" transform="rotate(-29.4 527.5 554)" /><ellipse class="t" cx="527.5" cy="554" rx="18.7" ry="29.2" transform="rotate(-29.4 527.5 554)" /><ellipse class="t" cx="527.5" cy="554" rx="17.9" ry="28" transform="rotate(-29.4 527.5 554)" /><ellipse class="l" cx="527" cy="554.3" rx="8.2" ry="12.8" transform="rotate(-29.4 527 554.3)" /><ellipse class="t" cx="527.5" cy="554" rx="7.3" ry="11.4" transform="rotate(-29.4 527.5 554)" /><ellipse class="l" cx="528.5" cy="553.5" rx="6.3" ry="9.8" transform="rotate(-29.4 528.5 553.5)" /><ellipse class="l" cx="542.5" cy="564" rx="1.7" ry="2.6" transform="rotate(-29.4 542.5 564)" /><ellipse class="l" cx="525.9" cy="570.8" rx="1.7" ry="2.6" transform="rotate(-29.4 525.9 570.8)" /><ellipse class="l" cx="512.5" cy="543.9" rx="1.7" ry="2.6" transform="rotate(-29.4 512.5 543.9)" /><ellipse class="l" cx="529.3" cy="537.3" rx="1.7" ry="2.6" transform="rotate(-29.4 529.3 537.3)" /><ellipse class="w" cx="481.1" cy="579.6" rx="17.3" ry="27" transform="rotate(-29.4 481.1 579.6)" /><path d="M481.3 610.5L494.3 603.2L467.8 556.1L454.7 563.5Z" fill="#fff" stroke="none"/><path class="l" d="M481.3 610.5L494.3 603.2"/><path class="l" d="M454.7 563.5L467.8 556.1"/><ellipse class="w" cx="468" cy="587" rx="17.3" ry="27" transform="rotate(-29.4 468 587)" /><ellipse class="l" cx="468" cy="587" rx="15.7" ry="24.5" transform="rotate(-29.4 468 587)" /><path class="t" d="M481.7 605.9L479.9 606.3L478 606.3L476 606L474 605.4L471.9 604.6L469.9 603.5L467.9 602.1L465.9 600.4L464.1 598.6L462.3 596.5L460.7 594.3L459.3 591.9L458 589.5L456.9 586.9L456.1 584.4L455.4 581.8L455.1 579.3L454.9 576.9L455 574.5L455.3 572.3L455.9 570.3L456.7 568.5L457.7 566.8L458.9 565.5"/><ellipse class="t" cx="476.1" cy="602.3" rx="1.5" ry="2.4" transform="rotate(-29.4 476.1 602.3)" /><ellipse class="t" cx="468.3" cy="598" rx="1.5" ry="2.4" transform="rotate(-29.4 468.3 598)" /><ellipse class="t" cx="461.9" cy="589.7" rx="1.5" ry="2.4" transform="rotate(-29.4 461.9 589.7)" /><ellipse class="t" cx="458.9" cy="577.3" rx="1.5" ry="2.4" transform="rotate(-29.4 458.9 577.3)" /><ellipse class="t" cx="470" cy="566.7" rx="1.5" ry="2.4" transform="rotate(-29.4 470 566.7)" /><ellipse class="t" cx="478.5" cy="571.2" rx="1.5" ry="2.4" transform="rotate(-29.4 478.5 571.2)" /><ellipse class="t" cx="484.8" cy="579.6" rx="1.5" ry="2.4" transform="rotate(-29.4 484.8 579.6)" /><ellipse class="t" cx="487.8" cy="591.1" rx="1.5" ry="2.4" transform="rotate(-29.4 487.8 591.1)" /><path class="l" d="M483.8 583.9C485.7 587.5 486.6 591.1 485.8 593.6C485 596 482 596.2 479.8 596.3C477.5 596.4 476.6 595.2 474.3 594C472 592.8 470.4 592.4 468.1 590.2C465.8 588 463.4 585.8 462.9 582.9C462.4 580 464 577.5 465.6 575.8C467.2 574.1 468.7 574.4 470.9 574.4C473.1 574.3 474.1 573.7 476.7 575.6C479.3 577.6 482 580.4 483.8 583.9Z" /><ellipse class="l" cx="475.5" cy="583" rx="3.7" ry="5.8" transform="rotate(-29.4 475.5 583)" /><ellipse class="l" cx="463.5" cy="585.5" rx="2.3" ry="3.6" transform="rotate(-29.4 463.5 585.5)" /><ellipse class="t" cx="464.2" cy="585.2" rx="1.7" ry="2.6" transform="rotate(-29.4 464.2 585.2)" /><path class="l" d="M480 589L483 594M483 594L481 598"/><ellipse class="w" cx="445.8" cy="600.4" rx="4.5" ry="7" transform="rotate(-29.4 445.8 600.4)" /><path d="M438.8 612.4L449.3 606.5L442.4 594.3L431.9 600.2Z" fill="#fff" stroke="none"/><path class="l" d="M438.8 612.4L449.3 606.5"/><path class="l" d="M431.9 600.2L442.4 594.3"/><ellipse class="w" cx="435.4" cy="606.3" rx="4.5" ry="7" transform="rotate(-29.4 435.4 606.3)" /><path class="l" style="stroke-width:1.5" d="M431.9 600.2L442.4 594.3M433.7 599.9L444.1 594M435.7 600.5L446.1 594.6M437.7 602L448.1 596.1M439.3 604.1L449.7 598.2M440.3 606.6L450.7 600.7M440.6 609.1L451 603.2M440 611.1L450.5 605.2M438.8 612.4L449.3 606.5"/><ellipse class="w" cx="436.2" cy="605.8" rx="4" ry="6.3" transform="rotate(-29.4 436.2 605.8)" /><path d="M412.3 626.5L439.3 611.3L433.1 600.3L406.1 615.6Z" fill="#fff" stroke="none"/><path class="l" d="M412.3 626.5L439.3 611.3"/><path class="l" d="M406.1 615.6L433.1 600.3"/><ellipse class="w" cx="409.2" cy="621.1" rx="4" ry="6.3" transform="rotate(-29.4 409.2 621.1)" /><path class="w" d="M414.1 618.3L415.7 618.2L416.3 619.7L415.1 620.5L415.5 621.6L417.2 622.4L417.4 623.9L415.8 623.8L415.7 624.9L417.3 626.4L417 627.6L415.3 626.7L414.9 627.5L416 629.5L415.2 630.2L413.7 628.6L413 629L413.5 631.1L412.5 631.2L411.4 629.2L410.5 629.1L410.3 630.9L409.1 630.5L408.7 628.4L407.8 627.8L406.9 629.1L405.8 628.1L406.1 626.3L405.3 625.4L403.9 625.9L403.1 624.5L404.1 623.3L403.5 622.2L401.9 621.8L401.4 620.3L402.9 620L402.7 618.8L401.1 617.6L401.1 616.2L402.8 616.8L403 615.8L401.7 614L402.2 613L403.8 614.3L404.4 613.7L403.6 611.6L404.5 611.2L405.8 613L406.6 612.9L406.5 610.9L407.6 611L408.3 613.1L409.3 613.5L409.8 611.9L411 612.6L411.1 614.6L412 615.4L413.1 614.5L414.1 615.7L413.5 617.2Z"/><path d="M409.4 633.6L414.6 630.6L403.8 611.5L398.6 614.4Z" fill="#fff" stroke="none"/><path class="l" d="M410.5 621.2L415.7 618.2M411.1 622.6L416.3 619.7M411.9 625.4L417.2 622.4M412.1 626.8L417.4 623.9M412 629.4L417.3 626.4M411.7 630.6L417 627.6M410.8 632.4L416 629.5M410 633.2L415.2 630.2M398.3 614.6L403.6 611.6M399.3 614.1L404.5 611.2M401.2 613.8L406.5 610.9M402.4 614L407.6 611M404.6 614.8L409.8 611.9M405.8 615.6L411 612.6M407.9 617.4L413.1 614.5M408.9 618.6L414.1 615.7"/><path class="w" d="M408.9 621.2L410.5 621.2L411.1 622.6L409.9 623.4L410.2 624.6L411.9 625.4L412.1 626.8L410.5 626.8L410.5 627.8L412 629.4L411.7 630.6L410.1 629.6L409.6 630.4L410.8 632.4L410 633.2L408.5 631.5L407.8 631.9L408.3 634L407.2 634.2L406.2 632.1L405.3 632L405.1 633.9L403.9 633.4L403.5 631.3L402.6 630.7L401.7 632.1L400.6 631.1L400.9 629.3L400.1 628.3L398.7 628.8L397.9 627.5L398.8 626.3L398.3 625.1L396.6 624.8L396.2 623.3L397.7 622.9L397.5 621.7L395.8 620.6L395.9 619.2L397.6 619.7L397.8 618.7L396.4 617L397 616L398.6 617.3L399.2 616.7L398.3 614.6L399.3 614.1L400.6 616L401.4 615.9L401.2 613.8L402.4 614L403.1 616.1L404.1 616.5L404.6 614.8L405.8 615.6L405.8 617.6L406.7 618.4L407.9 617.4L408.9 618.6L408.2 620.1Z"/><ellipse class="l" cx="404" cy="624" rx="3.2" ry="5" transform="rotate(-29.4 404 624)" /><ellipse class="t" cx="404" cy="624" rx="1.6" ry="2.5" transform="rotate(-29.4 404 624)" /><ellipse class="w" cx="393.1" cy="626.4" rx="2.4" ry="3.8" transform="rotate(-25.7 393.1 626.4)" /><path d="M388.4 632.9L394.7 629.9L391.5 623L385.1 626Z" fill="#fff" stroke="none"/><path class="l" d="M388.4 632.9L394.7 629.9"/><path class="l" d="M385.1 626L391.5 623"/><ellipse class="w" cx="386.8" cy="629.5" rx="2.4" ry="3.8" transform="rotate(-25.7 386.8 629.5)" /><path class="l" d="M391.5 623L391.9 622.8L392.3 622.7L392.8 622.7L393.3 622.7L393.8 622.8L394.2 622.9L394.7 623.1L395.1 623.4L395.5 623.7L395.8 624L396.1 624.4L396.4 624.9L396.5 625.3L396.7 625.8L396.7 626.3L396.7 626.8L396.7 627.3L396.6 627.7L396.4 628.2L396.2 628.6L395.9 629L395.5 629.3L395.2 629.6L394.7 629.9"/><ellipse class="w" cx="386.8" cy="629.5" rx="5" ry="7.8" transform="rotate(-25.7 386.8 629.5)" /><path d="M378.5 642.1L390.2 636.5L383.4 622.4L371.7 628.1Z" fill="#fff" stroke="none"/><path class="l" d="M378.5 642.1L390.2 636.5"/><path class="l" d="M371.7 628.1L383.4 622.4"/><ellipse class="w" cx="375.1" cy="635.1" rx="5" ry="7.8" transform="rotate(-25.7 375.1 635.1)" /><path class="l" style="stroke-width:1.9" d="M371.7 628.1L383.4 622.4M374 627.8L385.7 622.2M376.5 629L388.2 623.4M378.7 631.4L390.4 625.8M380.2 634.5L391.9 628.9M380.7 637.8L392.4 632.2M380.1 640.5L391.8 634.9M378.5 642.1L390.2 636.5"/><path class="w" d="M378.6 633.4L379.9 633.5L380.3 634.8L379.2 635.3L379.4 636.4L380.7 637.3L380.7 638.5L379.3 638.1L379.1 638.9L380.1 640.5L379.5 641.3L378.3 640.1L377.7 640.5L378.1 642.3L377.2 642.4L376.4 640.7L375.6 640.6L375.4 642.1L374.3 641.6L374.2 639.9L373.4 639.2L372.5 640.1L371.6 639L372.2 637.7L371.6 636.8L370.4 636.7L369.9 635.4L371 634.9L370.8 633.8L369.5 632.9L369.5 631.7L370.9 632.1L371.1 631.2L370.1 629.7L370.7 628.9L371.9 630.1L372.5 629.7L372.1 627.9L373 627.7L373.8 629.4L374.6 629.6L374.9 628.1L375.9 628.6L376 630.3L376.8 630.9L377.7 630.1L378.6 631.2L378 632.5Z"/><ellipse class="w" cx="375.1" cy="635.1" rx="3" ry="4.7" transform="rotate(-25.7 375.1 635.1)" /><path d="M374 640.8L377.1 639.3L373.1 630.9L369.9 632.4Z" fill="#fff" stroke="none"/><path class="l" d="M374 640.8L377.1 639.3"/><path class="l" d="M369.9 632.4L373.1 630.9"/><ellipse class="w" cx="372" cy="636.6" rx="3" ry="4.7" transform="rotate(-25.7 372 636.6)" /><ellipse class="w" cx="372" cy="636.6" rx="2.2" ry="3.4" transform="rotate(-25.7 372 636.6)" /><path d="M368.5 642.1L373.4 639.7L370.5 633.6L365.5 635.9Z" fill="#fff" stroke="none"/><path class="l" d="M368.5 642.1L373.4 639.7"/><path class="l" d="M365.5 635.9L370.5 633.6"/><ellipse class="w" cx="367" cy="639" rx="2.2" ry="3.4" transform="rotate(-25.7 367 639)" /><ellipse class="t" cx="367" cy="639" rx="1.2" ry="1.9" transform="rotate(-25.7 367 639)" /><ellipse class="w" cx="417.1" cy="649.4" rx="2.4" ry="3.8" transform="rotate(-26.6 417.1 649.4)" /><path d="M412.5 656L418.8 652.8L415.4 646L409.1 649.2Z" fill="#fff" stroke="none"/><path class="l" d="M412.5 656L418.8 652.8"/><path class="l" d="M409.1 649.2L415.4 646"/><ellipse class="w" cx="410.8" cy="652.6" rx="2.4" ry="3.8" transform="rotate(-26.6 410.8 652.6)" /><path class="l" d="M415.4 646L415.8 645.9L416.3 645.7L416.8 645.7L417.2 645.7L417.7 645.8L418.2 645.9L418.6 646.1L419.1 646.3L419.4 646.7L419.8 647L420.1 647.4L420.3 647.8L420.5 648.3L420.7 648.8L420.7 649.3L420.8 649.7L420.7 650.2L420.6 650.7L420.4 651.2L420.2 651.6L419.9 652L419.6 652.3L419.2 652.6L418.8 652.8"/><ellipse class="w" cx="410.8" cy="652.6" rx="5" ry="7.8" transform="rotate(-26.6 410.8 652.6)" /><path d="M401.5 666L414.3 659.6L407.4 645.6L394.6 652Z" fill="#fff" stroke="none"/><path class="l" d="M401.5 666L414.3 659.6"/><path class="l" d="M394.6 652L407.4 645.6"/><ellipse class="w" cx="398" cy="659" rx="5" ry="7.8" transform="rotate(-26.6 398 659)" /><path class="l" style="stroke-width:1.9" d="M394.6 652L407.4 645.6M396.8 651.7L409.6 645.3M399.4 652.9L412.2 646.5M401.6 655.2L414.4 648.8M403.2 658.4L416 652M403.7 661.6L416.5 655.2M403.1 664.3L415.9 657.9M401.5 666L414.3 659.6"/><path class="w" d="M401.5 657.3L402.8 657.3L403.3 658.6L402.2 659.1L402.4 660.2L403.7 661.1L403.7 662.3L402.3 661.9L402.1 662.8L403.1 664.3L402.6 665.1L401.3 663.9L400.7 664.3L401.2 666.1L400.3 666.3L399.4 664.6L398.7 664.5L398.4 666L397.4 665.5L397.2 663.8L396.4 663.1L395.5 664L394.6 662.9L395.2 661.6L394.6 660.7L393.3 660.7L392.8 659.3L393.9 658.8L393.7 657.8L392.4 656.9L392.4 655.6L393.8 656L394 655.2L393 653.6L393.5 652.8L394.8 654L395.4 653.6L394.9 651.8L395.8 651.7L396.7 653.3L397.4 653.5L397.7 652L398.7 652.5L398.9 654.2L399.7 654.8L400.6 654L401.5 655L400.9 656.3Z"/><ellipse class="w" cx="398" cy="659" rx="3" ry="4.7" transform="rotate(-26.6 398 659)" /><path d="M397 664.7L400.2 663.2L395.9 654.8L392.8 656.3Z" fill="#fff" stroke="none"/><path class="l" d="M397 664.7L400.2 663.2"/><path class="l" d="M392.8 656.3L395.9 654.8"/><ellipse class="w" cx="394.9" cy="660.5" rx="3" ry="4.7" transform="rotate(-26.6 394.9 660.5)" /><ellipse class="w" cx="394.9" cy="660.5" rx="2.2" ry="3.4" transform="rotate(-26.6 394.9 660.5)" /><path d="M391.5 666L396.4 663.6L393.4 657.5L388.5 660Z" fill="#fff" stroke="none"/><path class="l" d="M391.5 666L396.4 663.6"/><path class="l" d="M388.5 660L393.4 657.5"/><ellipse class="w" cx="390" cy="663" rx="2.2" ry="3.4" transform="rotate(-26.6 390 663)" /><ellipse class="t" cx="390" cy="663" rx="1.2" ry="1.9" transform="rotate(-26.6 390 663)" /><ellipse class="w" cx="352.1" cy="641.4" rx="2.4" ry="3.8" transform="rotate(-25.7 352.1 641.4)" /><path d="M347.4 647.9L353.7 644.9L350.5 638L344.1 641Z" fill="#fff" stroke="none"/><path class="l" d="M347.4 647.9L353.7 644.9"/><path class="l" d="M344.1 641L350.5 638"/><ellipse class="w" cx="345.8" cy="644.5" rx="2.4" ry="3.8" transform="rotate(-25.7 345.8 644.5)" /><path class="l" d="M350.5 638L350.9 637.8L351.3 637.7L351.8 637.7L352.3 637.7L352.8 637.8L353.2 637.9L353.7 638.1L354.1 638.4L354.5 638.7L354.8 639L355.1 639.4L355.4 639.9L355.5 640.3L355.7 640.8L355.7 641.3L355.7 641.8L355.7 642.3L355.6 642.7L355.4 643.2L355.2 643.6L354.9 644L354.5 644.3L354.2 644.6L353.7 644.9"/><ellipse class="w" cx="345.8" cy="644.5" rx="5" ry="7.8" transform="rotate(-25.7 345.8 644.5)" /><path d="M337.5 657.1L349.2 651.5L342.4 637.4L330.7 643.1Z" fill="#fff" stroke="none"/><path class="l" d="M337.5 657.1L349.2 651.5"/><path class="l" d="M330.7 643.1L342.4 637.4"/><ellipse class="w" cx="334.1" cy="650.1" rx="5" ry="7.8" transform="rotate(-25.7 334.1 650.1)" /><path class="l" style="stroke-width:1.9" d="M330.7 643.1L342.4 637.4M333 642.8L344.7 637.2M335.5 644L347.2 638.4M337.7 646.4L349.4 640.8M339.2 649.5L350.9 643.9M339.7 652.8L351.4 647.2M339.1 655.5L350.8 649.9M337.5 657.1L349.2 651.5"/><path class="w" d="M337.6 648.4L338.9 648.5L339.3 649.8L338.2 650.3L338.4 651.4L339.7 652.3L339.7 653.5L338.3 653.1L338.1 653.9L339.1 655.5L338.5 656.3L337.3 655.1L336.7 655.5L337.1 657.3L336.2 657.4L335.4 655.7L334.6 655.6L334.4 657.1L333.3 656.6L333.2 654.9L332.4 654.2L331.5 655.1L330.6 654L331.2 652.7L330.6 651.8L329.4 651.7L328.9 650.4L330 649.9L329.8 648.8L328.5 647.9L328.5 646.7L329.9 647.1L330.1 646.2L329.1 644.7L329.7 643.9L330.9 645.1L331.5 644.7L331.1 642.9L332 642.7L332.8 644.4L333.6 644.6L333.9 643.1L334.9 643.6L335 645.3L335.8 645.9L336.7 645.1L337.6 646.2L337 647.5Z"/><ellipse class="w" cx="334.1" cy="650.1" rx="3" ry="4.7" transform="rotate(-25.7 334.1 650.1)" /><path d="M333 655.8L336.1 654.3L332.1 645.9L328.9 647.4Z" fill="#fff" stroke="none"/><path class="l" d="M333 655.8L336.1 654.3"/><path class="l" d="M328.9 647.4L332.1 645.9"/><ellipse class="w" cx="331" cy="651.6" rx="3" ry="4.7" transform="rotate(-25.7 331 651.6)" /><ellipse class="w" cx="331" cy="651.6" rx="2.2" ry="3.4" transform="rotate(-25.7 331 651.6)" /><path d="M327.5 657.1L332.4 654.7L329.5 648.6L324.5 650.9Z" fill="#fff" stroke="none"/><path class="l" d="M327.5 657.1L332.4 654.7"/><path class="l" d="M324.5 650.9L329.5 648.6"/><ellipse class="w" cx="326" cy="654" rx="2.2" ry="3.4" transform="rotate(-25.7 326 654)" /><ellipse class="t" cx="326" cy="654" rx="1.2" ry="1.9" transform="rotate(-25.7 326 654)" /><ellipse class="w" cx="376.1" cy="659.4" rx="2.4" ry="3.8" transform="rotate(-25.7 376.1 659.4)" /><path d="M371.4 665.9L377.7 662.9L374.5 656L368.1 659Z" fill="#fff" stroke="none"/><path class="l" d="M371.4 665.9L377.7 662.9"/><path class="l" d="M368.1 659L374.5 656"/><ellipse class="w" cx="369.8" cy="662.5" rx="2.4" ry="3.8" transform="rotate(-25.7 369.8 662.5)" /><path class="l" d="M374.5 656L374.9 655.8L375.3 655.7L375.8 655.7L376.3 655.7L376.8 655.8L377.2 655.9L377.7 656.1L378.1 656.4L378.5 656.7L378.8 657L379.1 657.4L379.4 657.9L379.5 658.3L379.7 658.8L379.7 659.3L379.7 659.8L379.7 660.3L379.6 660.7L379.4 661.2L379.2 661.6L378.9 662L378.5 662.3L378.2 662.6L377.7 662.9"/><ellipse class="w" cx="369.8" cy="662.5" rx="5" ry="7.8" transform="rotate(-25.7 369.8 662.5)" /><path d="M361.5 675.1L373.2 669.5L366.4 655.4L354.7 661.1Z" fill="#fff" stroke="none"/><path class="l" d="M361.5 675.1L373.2 669.5"/><path class="l" d="M354.7 661.1L366.4 655.4"/><ellipse class="w" cx="358.1" cy="668.1" rx="5" ry="7.8" transform="rotate(-25.7 358.1 668.1)" /><path class="l" style="stroke-width:1.9" d="M354.7 661.1L366.4 655.4M357 660.8L368.7 655.2M359.5 662L371.2 656.4M361.7 664.4L373.4 658.8M363.2 667.5L374.9 661.9M363.7 670.8L375.4 665.2M363.1 673.5L374.8 667.9M361.5 675.1L373.2 669.5"/><path class="w" d="M361.6 666.4L362.9 666.5L363.3 667.8L362.2 668.3L362.4 669.4L363.7 670.3L363.7 671.5L362.3 671.1L362.1 671.9L363.1 673.5L362.5 674.3L361.3 673.1L360.7 673.5L361.1 675.3L360.2 675.4L359.4 673.7L358.6 673.6L358.4 675.1L357.3 674.6L357.2 672.9L356.4 672.2L355.5 673.1L354.6 672L355.2 670.7L354.6 669.8L353.4 669.7L352.9 668.4L354 667.9L353.8 666.8L352.5 665.9L352.5 664.7L353.9 665.1L354.1 664.2L353.1 662.7L353.7 661.9L354.9 663.1L355.5 662.7L355.1 660.9L356 660.7L356.8 662.4L357.6 662.6L357.9 661.1L358.9 661.6L359 663.3L359.8 663.9L360.7 663.1L361.6 664.2L361 665.5Z"/><ellipse class="w" cx="358.1" cy="668.1" rx="3" ry="4.7" transform="rotate(-25.7 358.1 668.1)" /><path d="M357 673.8L360.1 672.3L356.1 663.9L352.9 665.4Z" fill="#fff" stroke="none"/><path class="l" d="M357 673.8L360.1 672.3"/><path class="l" d="M352.9 665.4L356.1 663.9"/><ellipse class="w" cx="355" cy="669.6" rx="3" ry="4.7" transform="rotate(-25.7 355 669.6)" /><ellipse class="w" cx="355" cy="669.6" rx="2.2" ry="3.4" transform="rotate(-25.7 355 669.6)" /><path d="M351.5 675.1L356.4 672.7L353.5 666.6L348.5 668.9Z" fill="#fff" stroke="none"/><path class="l" d="M351.5 675.1L356.4 672.7"/><path class="l" d="M348.5 668.9L353.5 666.6"/><ellipse class="w" cx="350" cy="672" rx="2.2" ry="3.4" transform="rotate(-25.7 350 672)" /><ellipse class="t" cx="350" cy="672" rx="1.2" ry="1.9" transform="rotate(-25.7 350 672)" /><path class="w" d="M335.5 669L337.1 668.9L337.7 670.4L336.5 671.2L336.8 672.4L338.5 673.2L338.7 674.6L337.1 674.5L337.1 675.6L338.6 677.1L338.3 678.4L336.6 677.4L336.2 678.2L337.3 680.2L336.6 681L335.1 679.3L334.4 679.7L334.9 681.8L333.8 682L332.8 679.9L331.9 679.8L331.7 681.7L330.5 681.2L330.1 679.1L329.2 678.5L328.3 679.8L327.2 678.8L327.5 677L326.7 676.1L325.3 676.6L324.5 675.2L325.4 674.1L324.9 672.9L323.2 672.5L322.8 671L324.2 670.7L324.1 669.5L322.4 668.3L322.5 667L324.2 667.5L324.4 666.5L323 664.7L323.6 663.7L325.2 665L325.8 664.4L324.9 662.4L325.9 661.9L327.1 663.8L328 663.6L327.8 661.6L329 661.8L329.7 663.9L330.7 664.2L331.2 662.6L332.4 663.4L332.4 665.3L333.3 666.1L334.5 665.2L335.5 666.4L334.8 667.9Z"/><path d="M330.8 684.3L336 681.4L325.2 662.2L320 665.1Z" fill="#fff" stroke="none"/><path class="l" d="M331.8 671.9L337.1 668.9M332.5 673.3L337.7 670.4M333.3 676.1L338.5 673.2M333.5 677.6L338.7 674.6M333.4 680.1L338.6 677.1M333.1 681.3L338.3 678.4M332.1 683.2L337.3 680.2M331.4 683.9L336.6 681M319.7 665.3L324.9 662.4M320.6 664.8L325.9 661.9M322.6 664.5L327.8 661.6M323.8 664.7L329 661.8M326 665.6L331.2 662.6M327.2 666.3L332.4 663.4M329.2 668.1L334.5 665.2M330.2 669.4L335.5 666.4"/><path class="w" d="M330.3 672L331.8 671.9L332.5 673.3L331.3 674.1L331.6 675.3L333.3 676.1L333.5 677.6L331.9 677.5L331.9 678.6L333.4 680.1L333.1 681.3L331.4 680.4L331 681.2L332.1 683.2L331.4 683.9L329.9 682.3L329.1 682.6L329.7 684.8L328.6 684.9L327.6 682.9L326.7 682.7L326.5 684.6L325.3 684.2L324.9 682.1L323.9 681.5L323.1 682.8L322 681.8L322.3 680L321.5 679L320.1 679.5L319.2 678.2L320.2 677L319.7 675.8L318 675.5L317.6 674L319 673.6L318.9 672.5L317.2 671.3L317.2 669.9L318.9 670.4L319.2 669.5L317.8 667.7L318.3 666.7L320 668L320.6 667.4L319.7 665.3L320.6 664.8L321.9 666.7L322.8 666.6L322.6 664.5L323.8 664.7L324.5 666.8L325.4 667.2L326 665.6L327.2 666.3L327.2 668.3L328.1 669.1L329.2 668.1L330.2 669.4L329.6 670.9Z"/><ellipse class="t" cx="325.4" cy="674.7" rx="4.8" ry="7.5" transform="rotate(-29.4 325.4 674.7)" /><ellipse class="w" cx="328" cy="673.3" rx="4" ry="6.3" transform="rotate(-29.4 328 673.3)" /><path d="M307.5 692L331.1 678.7L324.9 667.8L301.4 681Z" fill="#fff" stroke="none"/><path class="l" d="M307.5 692L331.1 678.7"/><path class="l" d="M301.4 681L324.9 667.8"/><ellipse class="w" cx="304.5" cy="686.5" rx="4" ry="6.3" transform="rotate(-29.4 304.5 686.5)" /><ellipse class="w" cx="304.5" cy="686.5" rx="4.5" ry="7" transform="rotate(-29.4 304.5 686.5)" /><path d="M297.4 698.5L307.9 692.6L301 680.4L290.6 686.3Z" fill="#fff" stroke="none"/><path class="l" d="M297.4 698.5L307.9 692.6"/><path class="l" d="M290.6 686.3L301 680.4"/><ellipse class="w" cx="294" cy="692.4" rx="4.5" ry="7" transform="rotate(-29.4 294 692.4)" /><path class="l" style="stroke-width:1.5" d="M290.6 686.3L301 680.4M292.3 685.9L302.8 680M294.3 686.5L304.8 680.6M296.3 688L306.7 682.1M297.9 690.2L308.4 684.3M298.9 692.7L309.4 686.8M299.2 695.2L309.6 689.3M298.7 697.2L309.1 691.3M297.4 698.5L307.9 692.6"/><ellipse class="t" cx="294" cy="692.4" rx="1.3" ry="2" transform="rotate(-29.4 294 692.4)" /><ellipse class="w" cx="299.3" cy="672.1" rx="1.5" ry="2.4" transform="rotate(-29.4 299.3 672.1)" /><path d="M292.7 678.6L300.5 674.2L298.2 670L290.3 674.4Z" fill="#fff" stroke="none"/><path class="l" d="M292.7 678.6L300.5 674.2"/><path class="l" d="M290.3 674.4L298.2 670"/><ellipse class="w" cx="291.5" cy="676.5" rx="1.5" ry="2.4" transform="rotate(-29.4 291.5 676.5)" /><ellipse class="w" cx="299.8" cy="708.6" rx="1.5" ry="2.4" transform="rotate(-29.4 299.8 708.6)" /><path d="M293.2 715.1L301 710.7L298.7 706.5L290.8 710.9Z" fill="#fff" stroke="none"/><path class="l" d="M293.2 715.1L301 710.7"/><path class="l" d="M290.8 710.9L298.7 706.5"/><ellipse class="w" cx="292" cy="713" rx="1.5" ry="2.4" transform="rotate(-29.4 292 713)" /><ellipse class="w" cx="267.8" cy="708.7" rx="16.6" ry="26" transform="rotate(-29.4 267.8 708.7)" /><path d="M265.8 739.7L280.6 731.3L255 686L240.2 694.3Z" fill="#fff" stroke="none"/><path class="l" d="M265.8 739.7L280.6 731.3"/><path class="l" d="M240.2 694.3L255 686"/><ellipse class="w" cx="253" cy="717" rx="16.6" ry="26" transform="rotate(-29.4 253 717)" /><path class="t" d="M270.8 728.7L273.8 726.7"/><ellipse class="t" cx="253" cy="717" rx="15.6" ry="24.3" transform="rotate(-29.4 253 717)" /><ellipse class="l" cx="251" cy="731" rx="2.9" ry="4.6" transform="rotate(-29.4 251 731)" /><ellipse class="l" cx="245.1" cy="725.3" rx="1.4" ry="2.2" transform="rotate(-29.4 245.1 725.3)" /><ellipse class="l" cx="241.4" cy="718.4" rx="1.4" ry="2.2" transform="rotate(-29.4 241.4 718.4)" /><ellipse class="l" cx="240" cy="709.8" rx="2.9" ry="4.6" transform="rotate(-29.4 240 709.8)" /><ellipse class="l" cx="242.9" cy="702.8" rx="2.9" ry="4.6" transform="rotate(-29.4 242.9 702.8)" /><ellipse class="l" cx="249.4" cy="700.9" rx="2.9" ry="4.6" transform="rotate(-29.4 249.4 700.9)" /><ellipse class="l" cx="257.6" cy="705" rx="1.4" ry="2.2" transform="rotate(-29.4 257.6 705)" /><ellipse class="l" cx="262.9" cy="711.8" rx="1.4" ry="2.2" transform="rotate(-29.4 262.9 711.8)" /><ellipse class="l" cx="265.9" cy="721.3" rx="2.7" ry="4.2" transform="rotate(-29.4 265.9 721.3)" /><ellipse class="l" cx="263" cy="731.2" rx="1.4" ry="2.2" transform="rotate(-29.4 263 731.2)" /><ellipse class="l" cx="253" cy="717" rx="7.4" ry="11.5" transform="rotate(-29.4 253 717)" /><ellipse class="w" cx="253" cy="717" rx="6.4" ry="10" transform="rotate(-29.4 253 717)" /><path d="M254.4 727.7L257.9 725.7L248.1 708.3L244.6 710.3Z" fill="#fff" stroke="none"/><path class="l" d="M254.4 727.7L257.9 725.7"/><path class="l" d="M244.6 710.3L248.1 708.3"/><ellipse class="w" cx="249.5" cy="719" rx="6.4" ry="10" transform="rotate(-29.4 249.5 719)" /><ellipse class="w" cx="249.5" cy="719" rx="5.2" ry="8.2" transform="rotate(-29.4 249.5 719)" /><path d="M248.3 729.1L253.5 726.1L245.5 711.8L240.3 714.8Z" fill="#fff" stroke="none"/><path class="l" d="M248.3 729.1L253.5 726.1"/><path class="l" d="M240.3 714.8L245.5 711.8"/><ellipse class="w" cx="244.3" cy="721.9" rx="5.2" ry="8.2" transform="rotate(-29.4 244.3 721.9)" /><ellipse class="t" cx="244.3" cy="721.9" rx="4" ry="6.2" transform="rotate(-29.4 244.3 721.9)" /><path class="w" d="M215.3 712.4L214.3 715.4L211.3 714.7L209.2 711L210.2 708.1L213.3 708.8Z"/><path class="w" style="stroke-width:1.5" d="M213.1 713.7L212.1 716.7L209 716L206.9 712.3L207.9 709.3L211 710Z"/><ellipse class="l" cx="210" cy="713" rx="1.6" ry="2.5" transform="rotate(-29.4 210 713)" style="stroke-width:1.5"/><ellipse class="t" cx="210.4" cy="712.8" rx="1" ry="1.5" transform="rotate(-29.4 210.4 712.8)" /><path class="w" d="M230.9 716.4L229.9 719.4L226.9 718.7L224.8 715L225.8 712.1L228.9 712.8Z"/><path class="w" style="stroke-width:1.5" d="M228.7 717.7L227.7 720.7L224.6 720L222.5 716.3L223.5 713.3L226.6 714Z"/><ellipse class="l" cx="225.6" cy="717" rx="1.6" ry="2.5" transform="rotate(-29.4 225.6 717)" style="stroke-width:1.5"/><ellipse class="t" cx="226" cy="716.8" rx="1" ry="1.5" transform="rotate(-29.4 226 716.8)" /><path class="w" d="M215.3 743.4L214.3 746.4L211.3 745.7L209.2 742L210.2 739.1L213.3 739.8Z"/><path class="w" style="stroke-width:1.5" d="M213.1 744.7L212.1 747.7L209 747L206.9 743.3L207.9 740.3L211 741Z"/><ellipse class="l" cx="210" cy="744" rx="1.6" ry="2.5" transform="rotate(-29.4 210 744)" style="stroke-width:1.5"/><ellipse class="t" cx="210.4" cy="743.8" rx="1" ry="1.5" transform="rotate(-29.4 210.4 743.8)" /><path class="w" d="M231.3 747.4L230.3 750.4L227.3 749.7L225.2 746L226.2 743.1L229.3 743.8Z"/><path class="w" style="stroke-width:1.5" d="M229.1 748.7L228.1 751.7L225 751L222.9 747.3L223.9 744.3L227 745Z"/><ellipse class="l" cx="226" cy="748" rx="1.6" ry="2.5" transform="rotate(-29.4 226 748)" style="stroke-width:1.5"/><ellipse class="t" cx="226.4" cy="747.8" rx="1" ry="1.5" transform="rotate(-29.4 226.4 747.8)" /><ellipse class="w" cx="175.4" cy="757.8" rx="11" ry="17.8" transform="rotate(-29.4 175.4 757.8)" /><path d="M178.5 776.5L184.2 773.3L166.7 742.3L161 745.5Z" fill="#fff" stroke="none"/><path class="l" d="M178.5 776.5L184.2 773.3"/><path class="l" d="M161 745.5L166.7 742.3"/><ellipse class="w" cx="169.8" cy="761" rx="11" ry="17.8" transform="rotate(-29.4 169.8 761)" /><ellipse class="t" cx="169.8" cy="761" rx="9.9" ry="16" transform="rotate(-29.4 169.8 761)" /><ellipse class="t" cx="169.8" cy="761" rx="8.8" ry="14.2" transform="rotate(-29.4 169.8 761)" /><ellipse class="l" cx="169.8" cy="761" rx="6" ry="9.7" transform="rotate(-29.4 169.8 761)" /><path class="t" d="M176.3 767.5L175.6 767.6L174.9 767.6L174.2 767.5L173.4 767.3L172.7 767L171.9 766.5L171.1 766L170.4 765.3L169.7 764.6L169 763.8L168.4 763L167.8 762.1L167.3 761.1L166.9 760.2L166.6 759.2L166.4 758.2L166.2 757.2L166.1 756.3L166.1 755.4L166.3 754.6L166.5 753.8L166.8 753.1L167.1 752.5L167.6 752"/><ellipse class="w" cx="144.2" cy="775.1" rx="9.8" ry="15.8" transform="rotate(-29.4 144.2 775.1)" /><path d="M149.8 790.1L151.9 788.8L136.4 761.3L134.2 762.5Z" fill="#fff" stroke="none"/><path class="l" d="M149.8 790.1L151.9 788.8"/><path class="l" d="M134.2 762.5L136.4 761.3"/><ellipse class="w" cx="142" cy="776.3" rx="9.8" ry="15.8" transform="rotate(-29.4 142 776.3)" /><ellipse class="t" cx="142" cy="776.3" rx="5.1" ry="8.2" transform="rotate(-29.4 142 776.3)" /><ellipse class="l" cx="142" cy="776.3" rx="4.6" ry="7.4" transform="rotate(-29.4 142 776.3)" style="stroke-width:1.5"/><ellipse class="w" cx="144.6" cy="774.8" rx="3.7" ry="5.8" transform="rotate(-29.4 144.6 774.8)" /><path d="M144.8 781.4L147.5 779.9L141.8 769.8L139.2 771.2Z" fill="#fff" stroke="none"/><path class="l" d="M144.8 781.4L147.5 779.9"/><path class="l" d="M139.2 771.2L141.8 769.8"/><ellipse class="w" cx="142" cy="776.3" rx="3.7" ry="5.8" transform="rotate(-29.4 142 776.3)" /><ellipse class="l" cx="142" cy="776.3" rx="2.7" ry="4.2" transform="rotate(-29.4 142 776.3)" /><path class="t" d="M143.2 780.2L144.8 779.3M142.4 780.1L144 779.2M141.5 779.7L143.1 778.8M140.7 779L142.3 778.1M140 778.1L141.5 777.2M139.4 777.1L141 776.2M139 776L140.6 775.1M138.9 775L140.4 774.1M139 774L140.5 773.1M139.3 773.2L140.9 772.3"/><path class="t" d="M140 771L142.7 769.5M141.6 771.1L144.2 769.7M143.2 772.1L145.8 770.6M144.6 773.6L147.3 772.1M145.7 775.5L148.3 774M146.3 777.5L148.9 776M146.2 779.3L148.8 777.8M145.6 780.7L148.2 779.3"/>
<path class="ld" d="M280 17.5L310 25"/><text class="lb" x="272.5" y="19.6" >31</text><path class="ld" d="M272.5 69.5L305 77.5"/><text class="lb" x="265.5" y="71.1" >33</text><path class="ld" d="M210 90L237 113.7"/><text class="lb" x="201" y="90.7" >34</text><path class="ld" d="M191.5 148.7L216.9 172.4"/><text class="lb" x="186.2" y="150.1" >1</text><path class="ld" d="M180 179.4L201 199.5"/><text class="lb" x="171.9" y="180.8" >37</text><path class="ld" d="M227 233L234.4 222"/><text class="lb" x="224" y="242.8" >43</text><path class="ld" d="M180 275.3L202.5 295"/><text class="lb" x="172" y="274.3" >39</text><path class="ld" d="M162 292L186.5 303.4"/><text class="lb" x="152.8" y="292.5" >38</text><path class="ld" d="M234.4 282L230.6 261.2"/><text class="lb" x="233.4" y="292.5" >1</text><path class="ld" d="M294.4 328.2L294.4 342.3"/><text class="lb" x="294.5" y="325.8" >19</text><path class="ld" d="M321.2 318L321.2 350"/><text class="lb" x="320.4" y="315.5" >18</text><path class="ld" d="M344 305.7L344 325.2"/><text class="lb" x="343" y="303.3" >17</text><path class="ld" d="M373.5 290.3L373.5 311.4"/><text class="lb" x="373.2" y="287.9" >16</text><path class="ld" d="M260.6 359.5L260.6 381"/><text class="lb" x="259.4" y="357.1" >20</text><path class="ld" d="M174 403.5L174 423"/><text class="lb" x="172.6" y="401.1" >21</text><path class="ld" d="M203.6 396.5L203.6 416.5"/><text class="lb" x="202" y="394.1" >18</text><path class="ld" d="M535 31L512 45"/><text class="lb" x="542" y="31.1" >10</text><path class="ld" d="M680 20L591 78"/><path class="ld" d="M682.8 20.5L684 110"/><text class="lb" x="682.6" y="17.7" >4</text><path class="ld" d="M491 80.5L501 49"/><text class="lb" x="489" y="91.1" >11</text><path class="ld" d="M515 91.5L528 60"/><text class="lb" x="511.6" y="102.1" >9</text><path class="ld" d="M666.4 69.5L666.4 100"/><text class="lb" x="666" y="67.1" >5</text><path class="ld" d="M593 127.5L603 99"/><text class="lb" x="590" y="138.1" >6</text><path class="ld" d="M684 169.5L678 188"/><text class="lb" x="685" y="167.1" >1</text><path class="ld" d="M641 185.3L643 216"/><text class="lb" x="640.4" y="182.9" >2</text><path class="ld" d="M674 275.5L656 312"/><text class="lb" x="676" y="272.9" >3</text><path class="ld" d="M450 280L478 302"/><text class="lb" x="442" y="278.9" >15</text><path class="ld" d="M439.2 375.5L439.2 404"/><text class="lb" x="438.2" y="372.8" >22</text><path class="ld" d="M414 392.5L414 425"/><text class="lb" x="413" y="390.1" >23</text><path class="ld" d="M689 388.5L691 356"/><text class="lb" x="687" y="400.1" >34</text><path class="ld" d="M358 409.5L358 440"/><text class="lb" x="357" y="407.1" >25</text><path class="ld" d="M393 407.5L393 441"/><text class="lb" x="392" y="405.1" >24</text><path class="ld" d="M320 442.5L320 474"/><text class="lb" x="319" y="440.1" >26</text><path class="ld" d="M272 475.5L272 506"/><text class="lb" x="270.6" y="473.1" >27</text><path class="ld" d="M222.6 493.5L222.6 521"/><text class="lb" x="222" y="491.1" >28</text><path class="ld" d="M194 521.5L194 553"/><text class="lb" x="193" y="519.1" >24</text><path class="ld" d="M171 532.5L171 561"/><text class="lb" x="170" y="530.1" >29</text><path class="ld" d="M145.4 540.5L145.4 571"/><text class="lb" x="144.4" y="538.1" >22</text><path class="ld" d="M398.6 520.7L398.6 553.4"/><text class="lb" x="398.6" y="518.1" >13</text><path class="ld" d="M167 712L167 743.7"/><text class="lb" x="166.7" y="709.6" >14</text><path class="ld" d="M139.3 729.5L139.3 761.7"/><text class="lb" x="138.2" y="726.8" >35</text><path class="ld" d="M665 528L665 499"/><text class="lb" x="666" y="539.1" >14</text><path class="ld" d="M692 511.5L692 481"/><text class="lb" x="693" y="523.1" >35</text><path class="ld" d="M343.7 23.7L322.5 36.2"/><text class="lb" x="353" y="23.6" >32</text><path class="ld" d="M248.4 176.7L261.5 147"/><text class="lb" x="245.7" y="187.8" >36</text><path class="ld" d="M408 24L396 36"/><text class="lb" x="417.7" y="16.8" >30</text><circle cx="417.7" cy="12.7" r="12" fill="none" stroke="#c2185b" stroke-width="1"/>
<g opacity="0.08"><ellipse cx="404.5" cy="372.7" rx="79.75" ry="88.5" fill="none" stroke="#000" stroke-width="19.5"/><path d="M433.9 343.7A35.5 51.8 0 1 0 433.9 401.7" fill="none" stroke="#000" stroke-width="20.5"/><text x="165.5" y="523.5" font-family="Liberation Sans, sans-serif" font-size="39" fill="#000" fill-opacity="0.85" textLength="248" lengthAdjust="spacingAndGlyphs">COPYRIGHT</text><text x="433" y="525" font-family="Liberation Sans, sans-serif" font-style="italic" font-size="57" fill="#000" fill-opacity="0.85" textLength="91" lengthAdjust="spacingAndGlyphs">Pro</text><text x="529" y="525" font-family="Liberation Sans, sans-serif" font-style="italic" font-size="57" fill="#000" fill-opacity="0.85" textLength="108" lengthAdjust="spacingAndGlyphs">VSP</text></g>
<path d="M0 358L358 0L438.7 0L0 438.7Z" fill="rgba(82,202,229,0.55)"/><text transform="translate(205,205) rotate(-45)" y="0" text-anchor="middle" font-family="Liberation Sans, sans-serif" font-weight="bold" font-size="35" fill="#fff" stroke="#fff" stroke-width="0.7" stroke-linejoin="round"><tspan x="-168.4">p</tspan><tspan x="-146.2" textLength="18" lengthAdjust="spacingAndGlyphs">r</tspan><tspan x="-122.4">o</tspan><tspan x="-98.5" textLength="21" lengthAdjust="spacingAndGlyphs">-</tspan><tspan x="-75.8">p</tspan><tspan x="-57.7">i</tspan><tspan x="-37.5">e</tspan><tspan x="-14.2">c</tspan><tspan x="9.1">e</tspan><tspan x="32.7" textLength="21" lengthAdjust="spacingAndGlyphs">-</tspan><tspan x="56.7">v</tspan><tspan x="81">s</tspan><tspan x="103.6">p</tspan><tspan x="122.7">.</tspan><tspan x="141.2">c</tspan><tspan x="163.2">o</tspan><tspan x="195">m</tspan></text>
<path d="M648 623L655 598Q656 596.5 658 596.3Q690 591.5 723 596.3Q725 596.5 726 598L736 622" fill="none" stroke="#d9588a" stroke-linecap="round" stroke-linejoin="round" stroke-width="2.3"/><path d="M657 621.2L661.2 603Q690 597.5 724 602.5L727 619.5" fill="none" stroke="#3d3f55" stroke-linecap="round" stroke-linejoin="round" stroke-width="2.1"/><path d="M657.5 621.5Q692 619.5 727 620" fill="none" stroke="#3d3f55" stroke-linecap="round" stroke-linejoin="round" stroke-width="1.9"/><path d="M642.5 625.5Q636 626.5 632 623.5Q629 620 632 616.5Q636 613.5 640.5 616Q643 618.5 642 621.5" fill="none" stroke="#3d3f55" stroke-linecap="round" stroke-linejoin="round" stroke-width="1.9"/><path d="M739.5 625.5Q746 626.5 750 623.5Q753 620 750 616.5Q746 613.5 741.5 616Q739 618.5 740 621.5" fill="none" stroke="#3d3f55" stroke-linecap="round" stroke-linejoin="round" stroke-width="1.9"/><path d="M643 626Q638 638 639 648Q639.5 657 641.5 664" fill="none" stroke="#3d3f55" stroke-linecap="round" stroke-linejoin="round" stroke-width="1.8"/><path d="M739 626Q744 638 743 648Q742.5 657 740.5 664" fill="none" stroke="#3d3f55" stroke-linecap="round" stroke-linejoin="round" stroke-width="1.8"/><path d="M647.5 624.5Q658 629 668 638.5" fill="none" stroke="#3d3f55" stroke-linecap="round" stroke-linejoin="round" stroke-width="1.8"/><path d="M734.5 624.5Q724 629 714 638.5" fill="none" stroke="#3d3f55" stroke-linecap="round" stroke-linejoin="round" stroke-width="1.8"/><path d="M644.5 633Q643.5 640 647 644Q657 648.5 665 647.5Q666.5 645.5 664 643.5Q654 639 646 633.5" fill="none" stroke="#3d3f55" stroke-linecap="round" stroke-linejoin="round" stroke-width="1.8"/><path d="M737.5 633Q738.5 640 735 644Q725 648.5 717 647.5Q715.5 645.5 718 643.5Q728 639 736 633.5" fill="none" stroke="#3d3f55" stroke-linecap="round" stroke-linejoin="round" stroke-width="1.8"/><path d="M643 648.5Q665 656.5 691 656.5Q717 656.5 739 648.5" fill="none" stroke="#3d3f55" stroke-linecap="round" stroke-linejoin="round" stroke-width="2.5"/><path d="M644 657.5Q652 659 660 661.5" fill="none" stroke="#3d3f55" stroke-linecap="round" stroke-linejoin="round" stroke-width="1.9"/><path d="M738 657.5Q730 659 722 661.5" fill="none" stroke="#3d3f55" stroke-linecap="round" stroke-linejoin="round" stroke-width="1.9"/><path d="M668 663Q670 660 674 660L708 660Q712 660 714 663" fill="none" stroke="#3d3f55" stroke-linecap="round" stroke-linejoin="round" stroke-width="1.9"/><text y="726.2" font-family="Liberation Sans, sans-serif" font-weight="bold" font-style="italic" fill="#3b3d57" stroke="#3b3d57" stroke-width="1.2" stroke-linejoin="round"><tspan x="620.5" font-size="73" textLength="57" lengthAdjust="spacingAndGlyphs">P</tspan><tspan x="679" font-size="80" textLength="70" lengthAdjust="spacingAndGlyphs">ro</tspan></text><text x="621" y="768.8" font-family="Liberation Sans, sans-serif" font-weight="bold" font-style="italic" font-size="57.6" fill="#6fcbe8" stroke="#6fcbe8" stroke-width="1.4" stroke-linejoin="round" textLength="139" lengthAdjust="spacingAndGlyphs">VSP</text><text x="709" y="681.8" font-family="Liberation Sans, sans-serif" font-weight="bold" font-style="italic" font-size="7.6" fill="#d9588a" text-anchor="middle" textLength="33" lengthAdjust="spacingAndGlyphs">GROUP</text><path d="M684 679L691 679M727.5 679L735 679" stroke="#d9588a" stroke-width="1.2" fill="none"/><polygon points="757.9,688.1 752.1,693.9 744.2,691.8 742.1,683.9 747.9,678.1 755.8,680.2" fill="#e4508a" stroke="#e4508a" stroke-width="1.5" stroke-linejoin="round"/><circle cx="750" cy="686" r="4.6" fill="#fff"/>
</svg>
</body></html>
